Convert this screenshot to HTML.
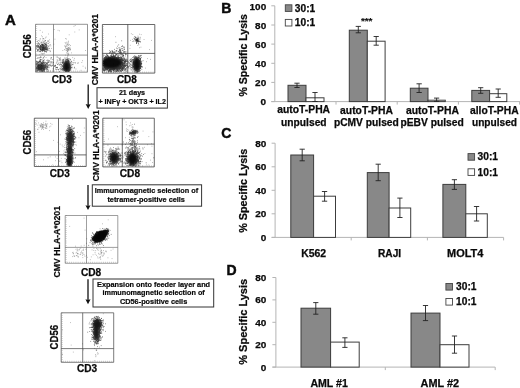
<!DOCTYPE html>
<html><head><meta charset="utf-8"><title>Figure</title>
<style>html,body{margin:0;padding:0;background:#fff}svg{display:block;opacity:.999}text{font-family:"Liberation Sans",sans-serif;font-weight:bold;fill:#0a0a0a;stroke:#0a0a0a;stroke-width:0.25px}.s{stroke-width:0.12px}.m{stroke-width:0.2px}.l{stroke-width:0.45px}</style>
</head><body>
<svg width="520" height="388" viewBox="0 0 520 388">
<defs><filter id="b" x="-5%" y="-5%" width="110%" height="110%"><feGaussianBlur stdDeviation="0.3"/></filter><filter id="c" x="-40%" y="-40%" width="180%" height="180%"><feGaussianBlur stdDeviation="1.1"/></filter><filter id="d" x="-20%" y="-20%" width="140%" height="140%"><feGaussianBlur stdDeviation="0.6"/></filter></defs>
<rect width="520" height="388" fill="#fff"/>
<text x="4.9" y="25.2" font-size="15" class="l">A</text>
<path d="M41.5 50.2h.7M47.4 45.9h.7M37.7 46.8h.7M44.6 51.5h.7M46.5 46h.7M46.8 48.5h.7M43.9 46.1h.7M41.9 49.3h.7M38.3 42.7h.7M43 38.5h.7M41 35.8h.7M39.9 48.7h.7M45.5 45.6h.7M42 38.8h.7M51.2 48.4h.7M47.9 41.4h.7M42.2 36.8h.7M46.5 50.5h.7M45.8 37h.7M40.2 38.8h.7M43.1 47.1h.7M45.9 49.4h.7M49.8 51.7h.7M37.1 43.3h.7M38.2 40.5h.7M42.6 45.9h.7M45.2 37.9h.7M37.4 45.7h.7M42.1 44.3h.7M42.7 42.1h.7M46.2 47.6h.7M42.6 42.5h.7M42.2 32.2h.7M38.6 46h.7M36.2 46.8h.7M43.7 39h.7M41.9 44.3h.7M45.1 48.9h.7M42.8 41.6h.7M42.4 45.5h.7M46.3 47.3h.7M39.7 39.1h.7M41.3 42.1h.7M38 45.3h.7M40.8 46.4h.7M45.4 43.8h.7M53.5 44.2h.7M48 46.5h.7M48 34h.7M39.6 47.1h.7M45.7 57.5h.7M44.5 52.2h.7M46.4 50.6h.7M45.3 45.1h.7M45.3 40.5h.7M48.3 40.8h.7M44.1 56.5h.7M42 45.9h.7M48.2 46h.7M39.4 47.1h.7M45.6 49.4h.7M39.5 54.6h.7M50.5 45.9h.7M44.2 43.7h.7M49.4 42.3h.7M46 43.5h.7M39.9 49.4h.7M49 45.8h.7M40 49.9h.7M42.8 47.4h.7M49.9 51.5h.7M40.7 57.3h.7M43 49.8h.7M40.1 45.6h.7M49.1 39.8h.7M36.2 37.7h.7M48.3 43.6h.7M42.7 44.3h.7M42.5 40.4h.7M43.1 38.7h.7M42.7 47.4h.7M45.1 44.7h.7M38.9 46.6h.7M40.8 53.7h.7M46.5 45.3h.7M40.9 42.3h.7M38.8 44.1h.7M66.9 51.1h.7M67.1 50.1h.7M65.2 38.6h.7M67.5 44.8h.7M66.8 46.9h.7M67.7 45.3h.7M69.1 48.5h.7M67.8 50.8h.7M68.5 49.9h.7M64.4 45.9h.7M69.7 50.2h.7M67.8 50.2h.7M66.1 45.7h.7M66.1 52.9h.7M67.5 55.3h.7M67.7 55.7h.7M67.7 43.7h.7M69.6 49.7h.7M68.7 49.2h.7M66.5 49h.7M65.4 43.7h.7M65.7 46.3h.7M65 47.9h.7M67.4 56.3h.7M69.7 48.2h.7M68.3 47.5h.7M67.6 48.2h.7M66.2 48.6h.7M64.8 50.1h.7M66.6 44.1h.7M66.5 50.5h.7M66 50.2h.7M67.8 54.5h.7M65.4 47.9h.7M67.8 54.3h.7M67.4 51.3h.7M64.8 46.1h.7M69.5 47.2h.7M70.2 45.5h.7M66.6 42.1h.7M67.9 49.4h.7M70 49h.7M66.6 42.8h.7M66.9 52.1h.7M68.1 53.2h.7M68.3 48.2h.7M67.9 49h.7M65 55.1h.7M67.6 44.2h.7M67.6 49.5h.7M68.5 54.1h.7M62.5 50.5h.7M69.3 44.6h.7M64.2 49.5h.7M67.5 49.7h.7M65.4 46.5h.7M67.3 51.3h.7M70.3 49.5h.7M66.1 39h.7M68.6 47.8h.7M66.8 44.4h.7M68.1 41.2h.7M67.2 48.8h.7M67.4 53.5h.7M66.9 48.7h.7M68.3 42.2h.7M66.6 48.6h.7M68.4 45.2h.7M68.2 49.9h.7M64.8 42.5h.7M60.3 66.3h.7M46.3 60.4h.7M81.5 62.5h.7M41.2 65.5h.7M42.3 59.8h.7M58.9 65.5h.7M67.9 67.2h.7M58.1 57.8h.7M72.4 57.6h.7M59.6 62.7h.7M69.8 67.3h.7M48 66.4h.7M70.7 63.8h.7M43.1 70.2h.7M66.1 57.8h.7M48 71.4h.7M47.5 62.6h.7M75.6 69h.7M67.8 67.8h.7M37.9 58.2h.7M85 68.6h.7M37.9 57.6h.7M48.1 70.5h.7M47 66.7h.7M82.7 66.2h.7M82.1 60.7h.7M43.7 57.1h.7M74 58.4h.7M84.9 67.3h.7M45.4 68.7h.7M44.2 64.4h.7M41.3 68.4h.7M80.7 70.3h.7M36.1 69.4h.7M63.9 68.9h.7M61.2 66h.7M65.8 68.6h.7M39.9 57.6h.7M63.4 61.1h.7M55.9 57h.7M73.6 26.3h.7M77.9 62.8h.7M59.1 30.8h.7M68.8 34.8h.7M57.7 30.3h.7M85.3 50.5h.7M53.8 29.5h.7M72.9 64.6h.7M78.8 29.9h.7M54.6 39.2h.7M74.5 32h.7M66.6 70.6h.7M74.8 25.5h.7M39.8 30.4h.7M71 52.9h.7" stroke="#000" stroke-width="0.7" fill="none" opacity="0.5" filter="url(#b)"/>
<clipPath id="cp1"><rect x="35.5" y="24.3" width="52.0" height="47.9"/></clipPath>
<g clip-path="url(#cp1)"><ellipse cx="42.4" cy="47.2" rx="2.4" ry="2.2" fill="#000" opacity="0.15" transform="rotate(0 42.4 47.2)" filter="url(#c)"/><ellipse cx="40" cy="66.8" rx="3.2" ry="2.4" fill="#000" opacity="0.25" transform="rotate(0 40 66.8)" filter="url(#c)"/><ellipse cx="66.6" cy="66.5" rx="2.3" ry="4.2" fill="#000" opacity="0.75" transform="rotate(0 66.6 66.5)" filter="url(#c)"/></g>
<path d="M41.7 48.8h.7M41.8 46.8h.7M39.9 47h.7M45.4 48.6h.7M45.2 48.2h.7M43.5 48h.7M37.9 49.7h.7M43.8 48.8h.7M37.8 43.2h.7M40 46.4h.7M43.2 47.4h.7M43.8 45.9h.7M43.2 48.5h.7M40.6 51.8h.7M43.9 50.5h.7M40.7 45.7h.7M41.5 47.3h.7M44.1 48.2h.7M41.2 45.2h.7M41 50.6h.7M40.2 48.2h.7M43.6 43.8h.7M42.5 50.8h.7M37 46.7h.7M42.1 45.5h.7M43.7 47.4h.7M38.4 49.6h.7M44.2 49.9h.7M46.3 48.5h.7M42.7 44.3h.7M44.1 46h.7M41.2 44.4h.7M39.8 46.2h.7M45.9 42.5h.7M38.5 48.1h.7M46.3 49h.7M37.3 41.3h.7M43.4 45.7h.7M39.4 50h.7M45.4 47.9h.7M43.1 48.6h.7M46.7 49.1h.7M43.8 48.9h.7M38.2 50.8h.7M45 48.9h.7M37.1 46h.7M44.7 43h.7M41.9 50.1h.7M38.9 51.6h.7M43.9 47.2h.7M43.3 49.2h.7M42.7 50.4h.7M40.6 46.5h.7M45.2 47.6h.7M40 49.9h.7M46.4 46.4h.7M38.7 47.2h.7M42 46.8h.7M46.2 45h.7M45.8 44.4h.7M40.3 49.1h.7M45.4 49.7h.7M43.3 47.9h.7M42.8 49h.7M41.9 48.2h.7M43.9 47.6h.7M44.5 49h.7M47.8 48.4h.7M41.2 46.6h.7M42.4 49.9h.7M41.5 48.5h.7M47.4 41.1h.7M39.4 48.2h.7M43.5 48.1h.7M41.2 49.2h.7M43.2 46.2h.7M49 48.4h.7M40.9 47.3h.7M41.8 47.4h.7M45.1 44.6h.7M42.2 49.9h.7M44.7 51.3h.7M37.8 46.7h.7M41.5 49.1h.7M45.3 40.8h.7M45.3 43.9h.7M44.2 43.8h.7M42.9 50.5h.7M42 48h.7M44.6 47.9h.7M42.2 51.4h.7M45.2 46.8h.7M49.8 44.7h.7M44.9 46.9h.7M42.8 49.3h.7M43 49.1h.7M38.3 43.8h.7M44.1 45.1h.7M39.6 43.9h.7M45.8 49.4h.7M46.4 45.2h.7M42.4 44.7h.7M44.5 51.5h.7M40 51.5h.7M45.1 47.1h.7M37.1 51.1h.7M42.1 46h.7M43.5 48.6h.7M46.4 45h.7M45.5 51.3h.7M46.3 47.1h.7M40.4 50.1h.7M42.7 47.9h.7M46.2 46.9h.7M36.2 46.6h.7M37.4 49.6h.7M43.3 46h.7M42.4 49.6h.7M42.6 50.9h.7M42.2 50.2h.7M46.4 51.6h.7M40.6 49.7h.7M37.3 44.8h.7M37.1 50.2h.7M39.1 47.5h.7M41.9 47.5h.7M40.8 48.1h.7M47.2 47.7h.7M43.8 50.1h.7M41.9 44.4h.7M40.9 50.2h.7M38 46.1h.7M45.1 49.5h.7M42.4 49.6h.7M42.8 44.6h.7M38.2 46h.7M44.9 46.1h.7M40 45.6h.7M38.3 47.3h.7M39.2 48.5h.7M36 48.4h.7M40.7 42.7h.7M44.4 46.9h.7M36.4 45.4h.7M43.2 46.4h.7M44.5 49.4h.7M44.2 48.4h.7M46 49.2h.7M43.6 42.3h.7M44.8 50.8h.7M41.6 46.4h.7M47.6 43.2h.7M43.7 53.6h.7M39.9 49.3h.7M47.5 47.2h.7M43.9 49.8h.7M40 47.3h.7M43.2 49.6h.7M42.3 47.1h.7M39.7 46.7h.7M44.8 47.8h.7M40.1 45.4h.7M49.6 50.4h.7M44.1 41.1h.7M44.1 48.8h.7M46.9 48.6h.7M42.2 48.9h.7M37.2 50.1h.7M43.3 45.8h.7M46 52.1h.7M38.6 45.9h.7M43.2 48h.7M41.3 45.1h.7M48.1 50.1h.7M39.2 44.2h.7M47 50h.7M47.3 49.6h.7M40 48.2h.7M36.6 45.7h.7M42.2 48.9h.7M40.4 47.2h.7M43.6 48.5h.7M44.1 48.1h.7M41.5 49.5h.7M42.5 45.5h.7M40.7 47.5h.7M42.1 47.9h.7M42.4 48h.7M42 44.4h.7M43.5 50.2h.7M43.6 47.1h.7M43.6 45.1h.7M37.3 47.7h.7M39.9 49.4h.7M39.5 41h.7M39.6 51.5h.7M41.4 44.1h.7M40.3 48.9h.7M43.7 48h.7M46.4 49.3h.7M42.3 49h.7M46.9 50h.7M45.2 44.8h.7M42 49.4h.7M41.6 50.2h.7M44 49.8h.7M41.8 53.9h.7M45.7 47h.7M42.6 54h.7M41.3 68.5h.7M37.9 67.2h.7M49.8 62.1h.7M38.5 67.6h.7M40.8 68.3h.7M39.5 68.1h.7M40.5 69.2h.7M40.3 64.4h.7M36.7 68.8h.7M38.1 68.9h.7M42.8 68h.7M42 66.9h.7M41.8 65.7h.7M40 69.2h.7M37.3 68.9h.7M46.6 65.7h.7M40.8 66.7h.7M45.5 68h.7M43.4 65.3h.7M40.2 67.1h.7M43.4 62.4h.7M42.8 66.8h.7M41.8 68.1h.7M45.4 65.6h.7M36.8 63.5h.7M36.1 68.1h.7M46.1 68.3h.7M38.5 65.3h.7M42.1 68.6h.7M36.8 64h.7M41.3 67.8h.7M35.9 66.6h.7M38.5 68.4h.7M39.9 66.9h.7M39.1 70h.7M45 66.2h.7M43.2 65.1h.7M40.5 69.2h.7M45.4 66.1h.7M40 67.7h.7M38 68.2h.7M36.5 61.8h.7M40.4 67.9h.7M38.4 69.5h.7M39.4 65.5h.7M41.9 62.9h.7M38 67.1h.7M43.2 66.7h.7M41.3 65.4h.7M38.1 67.2h.7M40.9 69.9h.7M36.1 61.5h.7M42.4 69.3h.7M41 67.8h.7M43.5 68.1h.7M46 63.8h.7M39 57.8h.7M43.1 66.1h.7M40.3 66.5h.7M38.6 64.9h.7M38.2 68.9h.7M40.4 67.3h.7M39.7 69.6h.7M42 66.8h.7M42.6 66.7h.7M36.4 71.1h.7M41.9 64.6h.7M44 68.1h.7M41.4 69.6h.7M41 66.7h.7M40.4 66.4h.7M41.5 67.4h.7M42.6 66.1h.7M40.2 61.4h.7M38.9 69h.7M44.8 66.2h.7M39.9 71.4h.7M39.2 69.1h.7M46 67.3h.7M44.5 65.2h.7M41 66.9h.7M40.7 70.2h.7M48.4 65.4h.7M38.3 68.5h.7M36.7 68.5h.7M42.2 66.4h.7M42.1 63h.7M42.9 63h.7M37.9 65.6h.7M38.9 69.5h.7M40.6 66.1h.7M42.1 71.4h.7M40.3 68.1h.7M44.5 67.9h.7M47.8 61.8h.7M40.2 68.3h.7M43.6 69h.7M39.4 64.3h.7M40.7 69.9h.7M36.6 64.4h.7M40.2 61.9h.7M39.4 66h.7M41.8 65.3h.7M37.3 66.1h.7M40.1 65.4h.7M40.3 69.2h.7M37.6 66h.7M37.8 67.1h.7M42.1 63.5h.7M41.9 67.1h.7M44.4 62.1h.7M43 67.7h.7M41.9 68.3h.7M44.7 66.5h.7M43.3 66h.7M42.8 65h.7M41.8 66.7h.7M36.4 65h.7M41 69.7h.7M41.7 68.6h.7M40.2 70.8h.7M39 65.7h.7M43.3 67.3h.7M39.4 65.6h.7M39.4 68.8h.7M41.5 63.9h.7M41.7 67.6h.7M36.9 69.2h.7M39.3 66.2h.7M43 70.7h.7M38 68.3h.7M38.6 70.4h.7M38.1 69.3h.7M47.8 60.3h.7M38.8 68.5h.7M40 65.3h.7M47.6 67.4h.7M38.3 67.5h.7M44.6 67.5h.7M44.3 69.1h.7M37.5 69.5h.7M42 68.9h.7M43.4 69.1h.7M43.3 60.5h.7M40.9 68.5h.7M49 64.6h.7M39.2 67.2h.7M43.3 66h.7M44.2 65h.7M41.2 65.7h.7M40.8 65.3h.7M41.3 65.6h.7M41 69.8h.7M37 66.9h.7M42.1 68.6h.7M39.2 61.5h.7M44.5 68h.7M40.3 66.4h.7M41.2 66h.7M36.8 65.2h.7M38.3 65.5h.7M36.4 68.9h.7M35.8 68.9h.7M36.9 68.1h.7M45 67.7h.7M37.8 67.3h.7M40.8 62.5h.7M38.2 67.6h.7M38.7 67.4h.7M42.8 69.2h.7M43.4 68.7h.7M39.3 67.1h.7M39.4 66.3h.7M39.7 62.5h.7M39.2 67.1h.7M37 67.1h.7M42.1 66.7h.7M47.4 60.1h.7M39.6 62.2h.7M42.1 66.3h.7M42.2 61.1h.7M43.2 68.2h.7M40.4 65.6h.7M42.5 65.8h.7M41.1 65.8h.7M41 69.2h.7M37.3 67.1h.7M42.4 67.5h.7M37.2 62h.7M43.2 71.3h.7M43.4 69.3h.7M38.2 65.2h.7M43.3 64.7h.7M38 65.2h.7M41.1 65.1h.7M44.8 66.9h.7M36.6 70.7h.7M38.3 67.7h.7M40.3 66.3h.7M41.4 65.3h.7M36 65.1h.7M40.2 67.3h.7M42.2 67.5h.7M37.6 65.2h.7M41.9 68.6h.7M39.9 66.7h.7M43.5 67.2h.7M42.8 68.7h.7M41 70.7h.7M38.4 66.2h.7M37.6 65h.7M40.4 68.7h.7M44.3 69.3h.7M44.4 63.7h.7M38.1 68.4h.7M45.2 67.4h.7M37.4 66.2h.7M38.1 64.8h.7M45.4 65.5h.7M44.3 68.1h.7M38.2 68.3h.7M45.8 68.8h.7M44.6 67.4h.7M42.1 66.6h.7M41.8 70.7h.7M41.1 65.6h.7M39.3 69.3h.7M47.1 68.8h.7M41.4 63h.7M46.9 67.4h.7M40.2 64.1h.7M40.1 64.2h.7M40.5 68.4h.7M40.4 67.9h.7M37.4 71h.7M38.1 62.2h.7M39.7 65.1h.7M36.9 66.2h.7M41.3 64h.7M39.8 71h.7M42.6 66.7h.7M40.7 66.8h.7M40.1 69.1h.7M40 60.7h.7M40.2 64.7h.7M42.5 65.5h.7M36.7 64.1h.7M38.1 62.1h.7M37.7 66.2h.7M41.4 70.8h.7M46.9 69.9h.7M40.8 67.6h.7M46.4 71h.7M39.2 68.4h.7M41.3 67.3h.7M38.6 63.6h.7M38.5 63h.7M44.5 68.6h.7M36.2 70.9h.7M43.3 62h.7M46.6 69.3h.7M47.3 63.8h.7M42.1 68.3h.7M41 67.6h.7M43.9 63.1h.7M36.1 63.4h.7M38.4 65.5h.7M41.5 67.9h.7M40.4 65.3h.7M38.8 69.7h.7M42.9 67.4h.7M39.2 71.3h.7M38.3 68.9h.7M44.2 66.4h.7M43.1 64.1h.7M43.7 67.7h.7M37.3 70.6h.7M38 66.7h.7M41.3 66.3h.7M41.2 65.7h.7M42.6 67.2h.7M41 59.7h.7M44.2 67.2h.7M41.9 70h.7M36.6 71.3h.7M39.8 69h.7M39.1 64.1h.7M44 69.6h.7M45.5 69.5h.7M38.4 62.7h.7M38.1 65.3h.7M37.5 68.7h.7M41.4 66.4h.7M40.9 66.8h.7M41 69.2h.7M43.6 65.3h.7M40.7 70.1h.7M40.4 63.3h.7M38.5 69.1h.7M44 71.5h.7M37.4 63.4h.7M42.1 69.7h.7M41 63.6h.7M43 69.3h.7M42.2 65.8h.7M41.3 69.3h.7M38.4 62.2h.7M41.4 68.4h.7M40.3 69.6h.7M38.3 66.9h.7M39.3 68.7h.7M45.7 66.5h.7M47.3 71.3h.7M43 68.7h.7M46.3 66.7h.7M39.9 64.3h.7M41.9 70.8h.7M42.1 68.3h.7M39.6 67.6h.7M38.9 64.2h.7M37.7 64.9h.7M43.2 70h.7M43.3 65.6h.7M38.1 68.1h.7M39.1 61.7h.7M41.1 63h.7M43.4 63.9h.7M37.9 64.8h.7M38.5 70.7h.7M43.2 68.8h.7M41.4 63h.7M38.5 65.7h.7M37 68.5h.7M37.8 65.2h.7M36.7 61.6h.7M42.3 70.7h.7M40.9 64.5h.7M44.4 68h.7M43.5 71.1h.7M44.1 66h.7M43.9 69.2h.7M42.3 64.3h.7M41.6 71.1h.7M39.6 67.9h.7M39.8 69.8h.7M43.8 67.4h.7M38.7 68.8h.7M41.2 71.5h.7M44.2 65.9h.7M38.5 68.3h.7M44.3 70.5h.7M42.1 63.6h.7M36 67.8h.7M37.4 70.2h.7M42.9 62.6h.7M37.5 67.6h.7M38.6 66.7h.7M41.9 65h.7M41.9 65.4h.7M38.4 68.6h.7M38.4 67.9h.7M45.7 67.2h.7M39.8 69.1h.7M39.1 70.1h.7M35.9 68.8h.7M38.6 65h.7M46.3 64.9h.7M46.3 68.9h.7M45.2 64.5h.7M44.4 71.1h.7M39.9 66.8h.7M48.7 67.6h.7M38.9 65.4h.7M41.8 68h.7M39.2 68.4h.7M45.3 64.4h.7M36.8 62.2h.7M41.8 62.1h.7M42 71.1h.7M37.8 66.4h.7M40.5 68.6h.7M39.1 67.2h.7M38.4 67.5h.7M36.3 67.3h.7M46.8 67.4h.7M36 67.8h.7M37 62.7h.7M37.8 69.1h.7M48.3 65h.7M40.4 61h.7M54.1 66.3h.7M40.3 56.9h.7M39.1 65h.7M47.3 64.7h.7M44.3 59.9h.7M41.5 68.7h.7M35.8 64.3h.7M47.6 69.5h.7M39.3 67.7h.7M48.3 62.4h.7M48.9 61.8h.7M41.2 65.3h.7M40 59.5h.7M43.4 68.4h.7M43.6 70.4h.7M39 60.1h.7M55.3 66.9h.7M51.7 62h.7M50.8 66.4h.7M49.9 65.5h.7M53.2 62.8h.7M40.2 59.4h.7M53 62.4h.7M39.7 61.6h.7M43.3 60.3h.7M44.3 62.8h.7M42.7 61.5h.7M46.2 63.5h.7M46.7 66.3h.7M42.8 62.2h.7M50.6 59h.7M41.7 64.2h.7M44 69.3h.7M43.3 69.2h.7M37.2 58.1h.7M53.3 67.1h.7M48.9 65.8h.7M48.9 60.5h.7M51.7 63.2h.7M51.9 65.7h.7M52.8 64.8h.7M43.6 66.3h.7M43.4 63.2h.7M46.6 65.9h.7M55.1 65.5h.7M56.3 69.6h.7M46.8 65.9h.7M45.1 62.4h.7M45.6 62.8h.7M55.8 67.5h.7M43.3 57.7h.7M45.7 63.7h.7M39.5 60.8h.7M45.8 64.8h.7M54.7 65.9h.7M47 63.9h.7M42.4 71.3h.7M43.9 65.5h.7M40.7 69.2h.7M37.6 67.6h.7M52.6 71h.7M40.4 69.7h.7M41.7 62.3h.7M38.1 70h.7M55.9 63h.7M41.4 64h.7M61 69.4h.7M42.7 58.2h.7M42 70.1h.7M57.2 64.3h.7M41.9 63.3h.7M39.5 69.6h.7M47.7 62.3h.7M50.7 65.4h.7M39 67.8h.7M51.1 57.7h.7M57 67.3h.7M50.6 57.9h.7M41.7 64h.7M52.5 59.5h.7M40.7 57.2h.7M44.6 66.7h.7M35.9 63h.7M50 64.1h.7M38.9 61.6h.7M42 65.9h.7M47.7 61.1h.7M55.3 69.1h.7M46.6 62.5h.7M51.5 62.1h.7M38.1 66.1h.7M47.5 67.8h.7M49.9 71h.7M41 69.3h.7M40.1 68.1h.7M47.1 66.3h.7M51.8 65.3h.7M52.7 68.9h.7M46.8 63.1h.7M41.5 63.2h.7M44.8 65.3h.7M63.9 67.9h.7M50.6 61.9h.7M41.7 64.1h.7M66.8 63.6h.7M69.2 65h.7M68.3 59.9h.7M66.5 67.5h.7M66.8 68.4h.7M67 67.1h.7M63.3 64.6h.7M62.5 68.5h.7M67 66.1h.7M65.1 65h.7M66.4 70.4h.7M63.8 61h.7M65.7 64.1h.7M65.5 67.2h.7M71.6 64.7h.7M66.6 67.5h.7M66.4 69.3h.7M69.5 63h.7M66.8 65.9h.7M67.1 62.2h.7M63.5 59.9h.7M67.4 67.2h.7M66.6 59.8h.7M65.9 64.5h.7M64.1 64h.7M67.7 68.2h.7M66.5 68.1h.7M65.5 66.9h.7M66.6 68.3h.7M66.4 66.2h.7M66.3 64.8h.7M70.3 68.1h.7M68.9 62.1h.7M67.7 69.1h.7M69.7 70.5h.7M67.8 63.2h.7M65 67.4h.7M67.4 63.7h.7M65.8 65.5h.7M66.6 67.6h.7M66 63.1h.7M68.6 71.3h.7M66.3 69.6h.7M67.3 68.6h.7M67.3 64.4h.7M67.5 69.6h.7M69.9 68.8h.7M65.9 64.9h.7M65.1 67h.7M66.4 68.6h.7M70.4 66.6h.7M67.6 68h.7M67 66h.7M66.3 64.3h.7M66.8 66.6h.7M67 64.2h.7M66.6 66.8h.7M67.5 63.6h.7M67.2 69.5h.7M67.5 65.6h.7M65.7 66h.7M67.7 71.2h.7M66.2 64.8h.7M67.1 67.2h.7M65 64.5h.7M66.3 68.6h.7M64.5 63.7h.7M67.3 63.1h.7M66.7 67.7h.7M66.3 63.7h.7M66.4 65.7h.7M67.1 64.2h.7M68.4 61.8h.7M66.2 66.7h.7M68.1 64.9h.7M67.4 65h.7M65.8 67.9h.7M64.9 69.5h.7M68.6 66.8h.7M64.6 67.8h.7M68.5 69.8h.7M67.9 61.3h.7M65.3 70.8h.7M64.4 69.9h.7M69.7 68.9h.7M68.4 65.7h.7M64.4 66.4h.7M66.2 66.5h.7M67.7 66.2h.7M66.8 67.9h.7M67.3 66.9h.7M66.1 64.8h.7M68.8 67.1h.7M64.7 65h.7M66.3 65.4h.7M68.3 63.3h.7M67.3 67.1h.7M64.5 66.8h.7M66.3 68.1h.7M65.7 67.5h.7M63.7 63.5h.7M67.8 69.7h.7M66.5 64.9h.7M68.3 60.6h.7M65.1 68.6h.7M67.6 63.7h.7M63.3 70.9h.7M66.8 64.1h.7M66.6 69.3h.7M62.1 69.9h.7M67.8 60.6h.7M67.8 61.5h.7M68.4 67.8h.7M70.3 64.9h.7M66.5 69.7h.7M65.4 64.6h.7M65.9 66.4h.7M64.7 68.1h.7M67.4 66.9h.7M69.4 65.7h.7M68.7 65.1h.7M67.8 61h.7M66.8 66.1h.7M65.7 64.9h.7M65.9 64.6h.7M62.8 64.9h.7M65.6 65.1h.7M64.7 66.3h.7M67.8 65.9h.7M65.7 70.6h.7M68.2 69.3h.7M68.5 65.7h.7M66.3 69.9h.7M65.6 66.3h.7M67.1 67.7h.7M66 69.5h.7M66.2 68.8h.7M68.3 68.6h.7M67.7 63.3h.7M64.3 64.9h.7M67.3 71h.7M64.4 67.5h.7M65 64.5h.7M66 68.7h.7M66.9 70.1h.7M64.8 69.2h.7M68.1 66.9h.7M67.3 65h.7M64.6 65.5h.7M65.7 71.4h.7M66.8 67.6h.7M67.8 64.4h.7M68.1 67.7h.7M63.9 68.4h.7M67.4 68h.7M69.2 65.4h.7M67.4 68.8h.7M65 70.1h.7M64 62.9h.7M67.4 63.5h.7M66.3 61.9h.7M66.6 63.4h.7M67.1 62.2h.7M67.3 65.9h.7M66.6 66.5h.7M66.7 62.8h.7M62.1 66.7h.7M64.9 65.3h.7M67.2 60.9h.7M65.2 64.9h.7M64.7 67.6h.7M66.3 64.3h.7M64.8 69h.7M65.4 68.3h.7M67.3 61.2h.7M64.7 66.7h.7M67.1 68.9h.7M67.9 69.6h.7M65.9 66h.7M67.8 65.4h.7M68.3 62h.7M67.6 66.1h.7M63.2 69.5h.7M67 66.7h.7M64.7 65.3h.7M69.1 64.3h.7M60.6 64.2h.7M64.5 66.3h.7M65.8 64h.7M65.1 69.7h.7M65.6 63.5h.7M67.8 68.3h.7M64.7 68.8h.7M63.4 64h.7M68.4 65.9h.7M64.3 68.1h.7M68.1 66.6h.7M63.4 65.6h.7M67.2 68.9h.7M69.7 65.9h.7M65.7 66.5h.7M68.6 63.9h.7M68.7 58.7h.7M67.9 64.7h.7M67.3 68.6h.7M64.5 66.4h.7M66.9 68.4h.7M64.9 63.8h.7M66.2 66h.7M64 69.3h.7M65.6 70.8h.7M67.9 66.7h.7M67.7 63.4h.7M65.9 65h.7M64.3 66.7h.7M66.3 70.8h.7M60.8 64.7h.7M64.9 65.3h.7M67.2 67.8h.7M66.5 65.3h.7M67.3 67.7h.7M63.4 65.9h.7M64.2 63.2h.7M66.7 66.8h.7M66.7 64.1h.7M66.2 64h.7M67.1 68.6h.7M69.5 70.3h.7M65.1 65.3h.7M64.9 67.5h.7M69.9 68.7h.7M62.8 63h.7M64.3 68.1h.7M66.5 67.5h.7M69.5 64.3h.7M67.1 64.4h.7M63.1 62.2h.7M62.3 66.8h.7M66.6 69.5h.7M66.3 64.6h.7M63.5 67.2h.7M66.5 68.4h.7M65.8 68.1h.7M67.9 66.2h.7M65.7 66.1h.7M64.9 66h.7M66 67.3h.7M68.8 70.4h.7M65.7 68.4h.7M67 68.9h.7M66.5 67.4h.7M65.7 64.4h.7M68 70.4h.7M67.6 67.9h.7M67 65.3h.7M63.5 68.6h.7M66.8 65h.7M64.9 70.4h.7M65.3 66.6h.7M65.6 67.1h.7M66.1 64.5h.7M68.3 64.4h.7M65.6 68.3h.7M65.6 65.4h.7M67.1 65.6h.7M64.4 66.4h.7M64.6 69.5h.7M65.2 65.6h.7M65.9 67.4h.7M65.4 70.5h.7M68.2 69h.7M65.2 69.3h.7M66.3 67.7h.7M66 68.6h.7M68.4 69.9h.7M66.2 69.5h.7M69 63.9h.7M69 62.8h.7M67.4 68.4h.7M69 67.5h.7M65.7 64.3h.7M64.4 68.9h.7M66.1 64.6h.7M67.4 64.4h.7M65.8 65.3h.7M69.3 70.9h.7M66.2 62.1h.7M67 66.9h.7M67.1 68.3h.7M66 69.3h.7M67.9 67.3h.7M65.8 65.3h.7M67.7 63.5h.7M66.2 64.5h.7M64.1 68.4h.7M66.5 66.8h.7M68 62.3h.7M66.4 67.5h.7M67.9 63.5h.7M67.7 67.3h.7M68.8 70h.7M66.5 65.4h.7M65.9 63.9h.7M66.5 61.2h.7M66.4 67.9h.7M68.2 65.6h.7M68.9 64.8h.7M66.3 61.2h.7M65.2 64.4h.7M69 68.2h.7M64.7 68.2h.7M67.3 66h.7M66.5 65.8h.7M65.6 61.6h.7M66.3 70.3h.7M68.9 65.9h.7M65.3 66.1h.7M68 67.6h.7M65.5 67.7h.7M66.2 68.1h.7M65.8 62.5h.7M66.6 68.8h.7M64.7 66.3h.7M68 65.6h.7M67.9 69.6h.7M64.9 71.3h.7M63.8 65.2h.7M67.7 70.4h.7M65 64.8h.7M66.8 61.2h.7M67.6 68.2h.7M65.8 68.2h.7M67.8 67.5h.7M67.4 70.9h.7M65.7 67.1h.7M65.6 69.6h.7M65.8 68h.7M66.7 66.8h.7M69.3 66.4h.7M68.8 69h.7M68.7 66.2h.7M68 68.8h.7M65.5 67.4h.7M66.3 66.5h.7M68.6 64.6h.7M63.7 61.8h.7M65.8 64.8h.7M66.5 68.2h.7M69.4 67.5h.7M67.3 64.6h.7M67.5 70.5h.7M68.7 61.2h.7M68 71.1h.7M67.9 62.5h.7M66 68.3h.7M67.2 64.4h.7M65 69.3h.7M64.3 70.7h.7M66.5 67.5h.7M64.3 65h.7M67.6 62.5h.7M69.9 62.7h.7M64.5 66.8h.7M67.3 68.7h.7M65.9 66.1h.7M66.1 65h.7M62.3 69.3h.7M66.9 67.1h.7M65.5 67.4h.7M66.5 66.4h.7M68.3 61.9h.7M66.9 63.7h.7M66 70.8h.7M64.7 66.4h.7M65.5 69.3h.7M64.9 62h.7M67.3 65.7h.7M66 69.7h.7M65.1 65.6h.7M66.7 67.8h.7M65.7 69.5h.7M70.2 65.5h.7M69.6 60.8h.7M68.8 65.7h.7M66.7 65.7h.7M65.5 63.1h.7M65.9 70.3h.7M68.4 65.7h.7M65.6 64.7h.7M67.6 67h.7M65.7 63.8h.7M68.6 68.8h.7M64.9 69.4h.7M64.7 68.4h.7M64.9 65.5h.7M67.3 67.9h.7M68.2 64.3h.7M69.1 70.4h.7M66.5 67.9h.7M65.2 66.2h.7M64.3 66.9h.7M66.8 70.4h.7M68 68.9h.7M65.9 66h.7M65.9 67.3h.7M63.3 68.8h.7M63.9 65.2h.7M66.5 65.2h.7M69.2 66.4h.7M69.1 69.9h.7M65.7 67.8h.7M68.6 65.7h.7M66.6 65.1h.7M66.6 65.7h.7M66.6 69.4h.7M68.8 67h.7M66.8 69h.7M66 63.7h.7M68.3 64h.7M68 64h.7M69.5 63.7h.7M67.9 70.8h.7M64.9 70.8h.7M65.2 61.7h.7M67.7 68.6h.7M66.2 59.6h.7M66.4 65.8h.7M65.9 65.8h.7M63.6 65.1h.7M69.4 71h.7M65.9 64.7h.7M67.1 69.6h.7M67.7 63.4h.7M66.8 67h.7M68.8 70h.7M67.4 70h.7M65.9 70.9h.7M65.8 67.8h.7M68 64.1h.7M65.4 61.8h.7M66.8 66.5h.7M66 68h.7M63 66.6h.7M66.6 65.9h.7M67.8 71.5h.7M65.8 64h.7M65.5 66.9h.7M67.5 64.3h.7M68.1 63.8h.7M67.8 67.8h.7M66.1 66.2h.7M67.3 69.1h.7M64.3 67.4h.7M65.3 68.4h.7M68.7 66.8h.7M66.3 67.2h.7M61.7 68.8h.7M67.4 67.1h.7M65.9 64.6h.7M66.2 70h.7M66.3 70.4h.7M62.3 65.4h.7M66.9 66.6h.7M63.8 64.8h.7M68.5 63.1h.7M64.9 63.6h.7M65.6 68.4h.7M67.5 61h.7M68.9 65h.7M65.5 71.3h.7M66.4 63.2h.7M65.5 64.6h.7M64.9 65.7h.7M67.9 67.6h.7M64.9 67h.7M66.6 68.8h.7M66 67.9h.7M69.9 66.9h.7M64.7 67.6h.7M65.2 65.6h.7M66.8 67.6h.7M66 69h.7M66.2 63h.7M67.9 65.6h.7M68.5 64.8h.7M67.4 67.5h.7M62.1 62.5h.7M64.7 70.6h.7M63.4 69.2h.7M68.3 68h.7M67.6 65.3h.7M66.5 67.3h.7M67.2 68.6h.7M66.2 64.7h.7M65.6 67.8h.7M63.8 63.2h.7M65.8 65.1h.7M66.1 59.2h.7M65.9 66h.7M67.8 61.1h.7M66 68h.7M67.3 70h.7M68.2 63.7h.7M67.5 65.7h.7M65.2 70.9h.7M65.5 64.3h.7M65.8 64.3h.7M68.1 67.7h.7M68.8 67.8h.7M65.5 69.6h.7M65.4 65.4h.7M66.2 66.8h.7M68.5 65h.7M67.1 66.6h.7M64.4 63.6h.7M66.1 67.8h.7M67 68h.7M66.6 65.4h.7M67.2 63.9h.7M64.3 65.7h.7M64.2 65.2h.7M65.3 65.1h.7M66.4 64.4h.7M65.8 61.9h.7M66.7 64.2h.7M67.2 58.7h.7M65.2 67.3h.7M62.5 65.6h.7M66.7 66.9h.7M64 67.3h.7M66.7 63.9h.7M67.7 66.5h.7M66.5 65.4h.7M67.4 66.9h.7M68.4 67.9h.7M65.5 66h.7M68 65.6h.7M67.1 68.1h.7M66.2 60.1h.7M66.7 67.2h.7M66.7 64.5h.7M68.5 66.3h.7M65.5 64.6h.7M67.1 63.6h.7M68.7 69.6h.7M68.7 68.3h.7M63.7 70h.7M68.5 68h.7M63.3 70.1h.7M68.7 65.3h.7M66.7 68.8h.7M66.4 69.7h.7M66.6 68.6h.7M66.6 62.5h.7M67 70.3h.7M68.4 71.5h.7M67.4 65h.7M66.5 61.3h.7M66.2 69.2h.7M62.9 67.2h.7M67.9 70.4h.7M65 64.8h.7M63.4 63.8h.7M64.6 70.5h.7M67.2 65.3h.7M70.1 59.6h.7M66.4 67.3h.7M70.2 67h.7M68.1 70.5h.7M67.3 67.7h.7M66.2 65.5h.7M65.8 60.8h.7M66.9 66.6h.7M66.3 65.9h.7M65.3 66.6h.7M65.8 67.2h.7M71.7 67.8h.7M67.9 69h.7M67.7 69h.7M67.6 70.6h.7M68.2 70.5h.7M65.7 66.6h.7M65.3 69.4h.7M67.9 65.3h.7M68.5 63.5h.7M66.3 68.4h.7M66.4 67.7h.7M68.5 67.6h.7M64.7 68.7h.7M66.3 67h.7M65.6 62.7h.7M64.4 65.7h.7M64.7 59h.7M68.4 63.4h.7M65.3 68.2h.7M62.5 70.4h.7M65.2 68.5h.7M65.7 67.5h.7M66.7 66.6h.7M63.5 62.5h.7M66.4 70.6h.7M65.6 68.2h.7M66.8 68h.7M68.1 62.4h.7M67 66.1h.7M66 64.2h.7M65.2 63.7h.7M69.3 66.7h.7M67.7 63.9h.7M61.9 61.5h.7M66.7 70.7h.7M66.4 63.8h.7M66.1 63.8h.7M64.2 66h.7M65.8 64.4h.7M65 64h.7M66.9 70.6h.7M63.8 67.4h.7M64.6 66.2h.7M66.7 68.2h.7M68.4 65.1h.7M64.4 66.1h.7M67 64.7h.7M68 71.4h.7M64.1 67.7h.7M68.2 61.2h.7M66.8 66h.7M64.1 70.4h.7M66.9 65.3h.7M67.2 68.5h.7M67.8 68.3h.7M67.2 63.3h.7M65.8 67h.7M65.9 63.7h.7M63.5 67.4h.7M66.6 65h.7M65.8 64.1h.7M65.3 66.4h.7M65.4 68.6h.7M66.3 67h.7M67.2 70.2h.7M67.5 67.3h.7M66.2 64.4h.7M65.9 68.6h.7M66.9 65.6h.7M64.3 62.3h.7M67 69.6h.7M67.1 62.8h.7M66.1 67.3h.7M65 67.6h.7M66.2 64.3h.7M64.4 68.9h.7M67.1 64.1h.7M64.8 69.2h.7M67.5 65.8h.7M69.1 65.8h.7M64.8 69.7h.7M66.2 67.6h.7M66.6 63.8h.7M64.5 66.1h.7M68.8 63.8h.7M68.7 67.3h.7M64.7 67.4h.7M67.4 64.1h.7M63 67.7h.7M64.7 67.9h.7M63.3 66.2h.7M65.2 62.5h.7M66.1 67.1h.7M65.6 63.3h.7M66.9 61.7h.7M67.4 68h.7M69.3 69.1h.7M67.1 67.4h.7M66.5 62.9h.7M68.9 68.1h.7M66 63.4h.7M69 68.1h.7M64.5 68.5h.7M69.6 66.6h.7M67.2 65.5h.7M65.5 69.7h.7M71.6 67h.7M66.3 68.9h.7M66 68.7h.7M67.9 63.8h.7M64.7 66.4h.7M67.9 67.4h.7M68.5 62.8h.7M67.3 64.9h.7M66.7 67.6h.7M64.9 66h.7M64.6 67.4h.7M65.1 65.3h.7M66.9 64.8h.7M68.4 64.9h.7M67.9 67.4h.7M64.8 66h.7M65.1 65.6h.7M65.8 71.1h.7M67.2 63h.7M62.7 68.6h.7M63.2 68.7h.7M68.2 67.7h.7M66.2 65.9h.7M66.9 65.8h.7M65.6 65.6h.7M68.4 64.9h.7M67.1 63.4h.7M65.3 62.8h.7M66.2 68.6h.7M67 65.3h.7M67.5 65.7h.7M67.1 67.4h.7M67.4 59.7h.7M64.4 68.8h.7M66.1 65.1h.7M69 68.2h.7M69.6 68.1h.7M66.2 68.7h.7M65.2 65.4h.7M65.6 66h.7M67.8 65.3h.7M67 65.3h.7M68 58.9h.7M66.2 67.1h.7M64.7 69.5h.7M66.9 70.2h.7M68.1 68.4h.7M66.3 63.6h.7M66.1 65.4h.7M66.9 65.3h.7M71.5 62.2h.7M68.4 65.3h.7M66.1 69.2h.7M66.5 63.3h.7M67.2 66.1h.7M63.1 67.2h.7M64.8 64.6h.7M67.3 67.5h.7M67.2 64.9h.7M66.9 66.3h.7M62.9 62.2h.7M66.2 65.9h.7M65.6 69.4h.7M66.5 71.4h.7M67.8 71.3h.7M66.3 67.7h.7M65.8 66.2h.7M63.7 65h.7M64.9 64.8h.7M68.5 67.4h.7M68.5 69h.7M68 69.5h.7M65.5 68.9h.7M66 65.2h.7M64.9 71.5h.7M67.9 64.3h.7M66.9 67.7h.7M67.1 65.7h.7M64.4 66.7h.7M67.9 68.8h.7M67.6 69.7h.7M64.9 66.5h.7M67.1 69.4h.7M66.8 68.1h.7M62.9 66.6h.7M70.6 67.3h.7M63.5 67h.7M64.2 64.8h.7M66.9 71.4h.7M67.3 68.5h.7M68.2 67.2h.7M65.1 66.4h.7M67.1 65.9h.7M65.4 65.6h.7M64 63.8h.7M66.4 65.6h.7M66.6 70.6h.7M67 66.6h.7M64.6 63.6h.7M67.1 64.2h.7M67.2 63.7h.7M66.7 66.4h.7M68.1 65.6h.7M65.9 67.3h.7M66.6 71.4h.7M66.1 65.2h.7M66 68h.7M66.9 68.6h.7M69.5 66.6h.7M64.5 67.1h.7M67.2 60.4h.7M66.5 62.5h.7M67.2 70.5h.7M68.2 62.4h.7M68.8 69.2h.7M65.9 68.1h.7M69 65.7h.7M66.5 65.1h.7M68.4 60.6h.7M68.8 64h.7M68 62.1h.7M65 65h.7M67.9 62.1h.7M67.5 64.9h.7M68.5 65.8h.7M67.3 66.2h.7M69.4 65.6h.7M66.6 68.6h.7M61.5 66.1h.7M54.1 65.8h.7M61.9 59.6h.7M58.2 69.7h.7M67.1 59.5h.7M73.7 62.7h.7M63.2 66.3h.7M59.5 59.1h.7M61.4 69.9h.7M69.6 59.3h.7M70.8 65.5h.7M67.4 65.5h.7M67 61.5h.7M60.6 62.6h.7M63.2 67.7h.7M59.1 71.5h.7M62 63.1h.7M68.4 67h.7M63.4 61.2h.7M60.2 59.2h.7M70.5 69.5h.7M74 67.3h.7M66.6 68.3h.7M69.6 64.4h.7M56.8 59.9h.7M60.4 68.3h.7M70.7 64h.7M68.2 65.2h.7M66.4 63.3h.7M64.9 65.3h.7M56.3 67.4h.7M65 69.1h.7M70.1 68.4h.7M68.9 61.7h.7M70.8 61.7h.7M71.2 67.9h.7M53.2 68.8h.7M60.2 69.8h.7M61.7 62.5h.7M57.6 64.5h.7M69.9 62.8h.7M73.9 68h.7M62.4 60.7h.7M57.1 67.5h.7M71.3 61.3h.7M65 64.3h.7M63.8 67.3h.7M75.1 62.9h.7M69.1 69.5h.7M63.6 64.8h.7M58.5 69.5h.7M62.4 62.8h.7M65.3 62h.7M60 64.2h.7M72.2 64.6h.7M67.5 59.7h.7M63.1 59.4h.7M64.5 67.7h.7M56.7 61.9h.7M66.3 61.8h.7M68.8 69.1h.7M67.1 63.7h.7M64.8 62.9h.7M64.4 66.6h.7M63.6 69.1h.7M77.5 63.2h.7M66.7 68.5h.7M68.1 64.4h.7M62.7 69.2h.7M68 67.3h.7M61.1 67.8h.7M68.8 64.6h.7M55.9 67.7h.7M59.3 60.1h.7M63.9 67.5h.7M65.3 60.8h.7M58.1 63.2h.7M65.1 62.1h.7M60.9 64.7h.7M62.3 63.1h.7M65.2 64.2h.7M68 60.8h.7M64.6 68.3h.7M70.7 67.5h.7M65.2 59.3h.7M57.3 69.1h.7M68.3 67.6h.7M57 57.1h.7M59.9 60.8h.7M65.8 61.4h.7M72.7 62.9h.7M62.3 68.7h.7M66.6 61.9h.7M59.1 64.4h.7M59.8 57.8h.7M68 68.1h.7M69.7 67h.7M55.2 65.2h.7M61.8 60.8h.7M59.6 68.3h.7M67.3 57.9h.7M69.3 70.2h.7M65.2 60.6h.7M73.6 60.2h.7M64.6 57.9h.7M58.9 58.7h.7M70.3 69.9h.7M63 60.1h.7M64.7 66.8h.7M57.6 60.8h.7" stroke="#000" stroke-width="0.7" fill="none" opacity="0.8" filter="url(#b)"/>
<g stroke="#5a5a5a" stroke-width="0.65" fill="none">
<path d="M35.5 72.2V24.3H87.5V72.2"/>
<path d="M53.5 24.3V72.2M35.5 55.1H87.5"/>
</g>
<path d="M35.5 72.2H87.5" stroke="#5a5a5a" stroke-width="0.65"/>
<path d="M36.5 24.3V72.2M35.5 71.2H87.5" stroke="#666" stroke-width="1.2" stroke-dasharray="0.5 1.6" fill="none" opacity="0.55"/>
<text transform="translate(31 58.2) rotate(-90)" font-size="10" textLength="24" lengthAdjust="spacingAndGlyphs">CD56</text>
<text x="51.8" y="82.9" font-size="10" textLength="20" lengthAdjust="spacingAndGlyphs">CD3</text>
<path d="M134.8 38.9h.7M136.5 38.4h.7M137.1 40.7h.7M133.3 38.2h.7M133.1 41.3h.7M137.6 42.6h.7M134.2 38.5h.7M130.1 40.4h.7M132 41.5h.7M140 41.9h.7M138.7 41.1h.7M137.9 43.5h.7M140.6 47.2h.7M136 43.2h.7M139.4 41.8h.7M137.6 36.1h.7M140.1 37.3h.7M134.8 37.4h.7M138.5 37.1h.7M138.2 42.3h.7M137.1 39.2h.7M138.6 44.8h.7M135.4 36.8h.7M135 37.4h.7M136.1 39.8h.7M129.9 45.3h.7M134.4 38.9h.7M130.9 33.7h.7M133.8 41.1h.7M139.3 34.2h.7M137.5 45.5h.7M136 43.5h.7M137.7 37.2h.7M139.8 38.3h.7M137.9 39h.7M136.2 40.9h.7M140.8 34.6h.7M133.5 40.7h.7M139.7 39.7h.7M136.2 42.1h.7M121.6 62.3h.7M140.6 58h.7M112.9 66.2h.7M126.9 70.3h.7M103.9 62.8h.7M145.1 68.1h.7M120.8 64.1h.7M123 55.4h.7M107 59.2h.7M147.1 58.6h.7M117.4 64.8h.7M138.2 66.3h.7M118.6 61.1h.7M103.6 68.8h.7M122 60.3h.7M113.4 63.7h.7M110.5 60.9h.7M108.2 58.6h.7M129.6 60.9h.7M108.3 70.1h.7M105.9 62.3h.7M117.8 56.3h.7M117.9 62.8h.7M137.8 59.7h.7M122.1 70.6h.7M135.1 62.9h.7M113.7 68.6h.7M150.1 59.4h.7M146 61.7h.7M127.2 55.8h.7M115.3 36.7h.7M113.2 64.3h.7M151.3 40.4h.7M143.7 39.5h.7M132.5 34.5h.7M149.2 49.6h.7M132.9 62.8h.7M129.6 48.4h.7M139.1 47.7h.7M132.2 39.4h.7" stroke="#000" stroke-width="0.7" fill="none" opacity="0.5" filter="url(#b)"/>
<clipPath id="cp2"><rect x="102.4" y="24.5" width="52.4" height="48.6"/></clipPath>
<g clip-path="url(#cp2)"><ellipse cx="111.5" cy="62.8" rx="10" ry="5.2" fill="#000" opacity="0.8" transform="rotate(0 111.5 62.8)" filter="url(#c)"/><ellipse cx="136.8" cy="64.3" rx="3.0" ry="6.2" fill="#000" opacity="0.8" transform="rotate(0 136.8 64.3)" filter="url(#c)"/></g>
<path d="M104.4 62.9h.7M104.1 66h.7M103 57.1h.7M109.8 57.1h.7M120.8 59.9h.7M110.7 62.5h.7M106.1 57.2h.7M117.1 70.9h.7M110.9 66.3h.7M107.9 65.9h.7M116.4 65.5h.7M119.7 62.7h.7M120.3 60.9h.7M111.1 60.5h.7M111 67h.7M115.3 63.7h.7M121.2 58.2h.7M106.1 68.6h.7M113 56.1h.7M113 59.2h.7M119.9 67.4h.7M107.7 67.9h.7M106 66.6h.7M114.5 62.9h.7M114.5 64.6h.7M108 70.8h.7M115.6 63.6h.7M113.9 66.7h.7M107.4 58.4h.7M110.7 57.5h.7M111 66h.7M120.1 64.3h.7M112.2 66h.7M119.4 62.2h.7M103.6 60.6h.7M103.4 60.2h.7M110.3 64.6h.7M111.9 63.6h.7M108.9 64.8h.7M116.3 66h.7M120 62.3h.7M109.5 69.3h.7M112.2 64.8h.7M109 66.7h.7M108.6 59.8h.7M110.6 61.8h.7M116 62h.7M111.7 62.6h.7M113 61.1h.7M117.6 58.4h.7M108.7 60.9h.7M114.9 63.5h.7M113.9 62.2h.7M106.7 59.4h.7M109 61.5h.7M112.7 64.6h.7M116.9 63h.7M106.5 59.6h.7M111.4 64.6h.7M122.7 64h.7M121.5 69.9h.7M104.7 67.6h.7M117.8 68.1h.7M110.9 66.7h.7M108.1 63.1h.7M111.1 69.6h.7M109.7 66.7h.7M111.4 60.9h.7M112.5 65.7h.7M106.7 65.6h.7M106.7 60.3h.7M112.3 62.5h.7M105.1 57.6h.7M111.1 64.2h.7M108.2 64h.7M113.5 64.3h.7M107.3 63.6h.7M111.8 67.1h.7M112.7 64.2h.7M106.7 66.4h.7M118 61.6h.7M114.8 64.4h.7M110.7 58.9h.7M121.5 56.8h.7M112.8 62h.7M117.9 61.9h.7M111.2 65.5h.7M113.7 61.5h.7M115.1 64.7h.7M116.9 61.6h.7M110.7 62h.7M106 64.2h.7M113.5 68.3h.7M109.1 64.7h.7M117.8 63h.7M111.4 63.8h.7M106.9 59.9h.7M117.7 64h.7M110.6 59h.7M111.7 67.4h.7M104.1 60.2h.7M117.6 68.3h.7M120.3 61.4h.7M114.6 60.7h.7M114.1 62.1h.7M112.2 68h.7M113 62.5h.7M111.3 64.3h.7M107.9 64.1h.7M114.6 68.8h.7M103.6 66.4h.7M125.6 64h.7M111.7 67.3h.7M108 61.7h.7M113 61.3h.7M117.6 63.3h.7M113.3 72.2h.7M108.3 66.6h.7M106.1 67.7h.7M116.7 63.8h.7M116.9 68.9h.7M119.2 63.4h.7M110.7 67.2h.7M113.9 65.3h.7M122.1 69.5h.7M112.9 64.9h.7M103.2 62.7h.7M112.6 62.6h.7M111.4 65.5h.7M105.3 61.4h.7M104.7 57.4h.7M115.6 62.6h.7M116.7 62.1h.7M123.6 65.8h.7M111.9 63.8h.7M109.8 66.2h.7M122.9 61.9h.7M104.5 65.4h.7M117.3 58.2h.7M106.9 59.9h.7M114.3 65.1h.7M106.6 59.5h.7M115 56.2h.7M114.8 62.8h.7M122.4 66.8h.7M107.6 62.4h.7M109.4 60.8h.7M111.5 66.7h.7M119.8 65.9h.7M106.2 60.6h.7M105.9 57.8h.7M117.8 63.6h.7M106.9 58.4h.7M108.7 61.6h.7M121.2 61.8h.7M111.7 67h.7M114.9 62.7h.7M114.5 61.9h.7M110.5 60.1h.7M105.7 58.2h.7M114 65.1h.7M112 66h.7M114.2 63.8h.7M105.8 65.4h.7M118 65.5h.7M118.4 61.7h.7M105.2 67.7h.7M107.6 64.2h.7M109.9 63.4h.7M109.4 61.5h.7M112.2 56.7h.7M105.7 59.5h.7M114.4 69h.7M109.6 65.9h.7M114.5 59.1h.7M118.2 57.6h.7M107.6 62.1h.7M118.4 63.8h.7M110.3 60.6h.7M111.5 63.5h.7M115.3 68.1h.7M115.3 63.4h.7M110.1 68.8h.7M112.2 63.3h.7M121.6 68.7h.7M114.3 63h.7M107.3 67h.7M108.3 66.6h.7M106.4 63.7h.7M113.4 63.8h.7M112.4 64.7h.7M104.4 59.6h.7M110.1 69.5h.7M110.3 60.2h.7M107.1 63.5h.7M117.9 61.4h.7M114.3 64h.7M108.9 60.1h.7M110.1 60.9h.7M114.2 57.3h.7M117.6 65.9h.7M114.4 68.5h.7M114.5 57.5h.7M111.3 64.9h.7M107 59.5h.7M113.5 65.1h.7M108.5 62.5h.7M108 61.4h.7M110.7 67h.7M120.5 64.4h.7M111.9 66.2h.7M105.1 59.2h.7M112.5 66.2h.7M108.6 61h.7M113.4 65.4h.7M112.5 56.9h.7M112.4 60.5h.7M107.2 68.5h.7M118.7 65h.7M112.6 63.9h.7M107.6 63.2h.7M122.2 60.4h.7M107.1 63.9h.7M116.2 66.2h.7M105.4 62.9h.7M109.5 59.1h.7M111.5 61.7h.7M116.4 64.8h.7M106.4 63.6h.7M108.9 61.2h.7M108.2 67h.7M108.6 57.5h.7M106.5 66.1h.7M123.6 59.8h.7M108.9 62.2h.7M102.8 64.7h.7M110.7 64.3h.7M124.1 62.4h.7M115.6 66.2h.7M107.3 61.3h.7M120.1 65.8h.7M111.8 59.6h.7M116.2 65.1h.7M123.8 68.4h.7M115.7 64.3h.7M111.4 61.5h.7M112.8 64.2h.7M114.8 67h.7M112.8 61.5h.7M115.7 68.6h.7M106.1 64.8h.7M114.2 65.2h.7M113.9 63h.7M110.4 69.1h.7M121.1 58.6h.7M107.1 61.6h.7M110.7 61.5h.7M116.2 71.6h.7M119.6 67.3h.7M108.6 65.6h.7M110.8 67.3h.7M114.4 63.2h.7M114.2 60.9h.7M115.6 68.5h.7M108.9 65.2h.7M116.1 59.9h.7M121.2 63.7h.7M116.1 62.4h.7M117.4 58.1h.7M110.4 66.7h.7M107.1 65.7h.7M108.9 64.5h.7M112.9 70.9h.7M103.8 66h.7M118.7 59.5h.7M111.5 71.2h.7M109.6 57.5h.7M112.8 60.9h.7M107.7 60.5h.7M112.7 61.8h.7M105.7 62.6h.7M113.4 60.4h.7M117.5 57.7h.7M113.4 62h.7M120.2 61.2h.7M107.1 58.8h.7M122.6 65.5h.7M104.7 62.2h.7M105.4 68.5h.7M113.4 56.4h.7M112.2 66.5h.7M111 65h.7M110.4 64.1h.7M112.2 60.9h.7M113 63.9h.7M110.8 61h.7M105.1 64.2h.7M107.9 68h.7M116.3 60.9h.7M118.9 60h.7M106.4 69.9h.7M108.5 62.6h.7M104.1 62.9h.7M108.9 61.3h.7M107.3 65.9h.7M119.9 62h.7M120.4 68.8h.7M118.8 64.4h.7M108.6 64h.7M112.4 60.2h.7M112.7 69h.7M112.3 61h.7M124.9 56h.7M105.6 64.7h.7M107.5 55.5h.7M112.5 66.2h.7M106.4 68.3h.7M113.9 67.4h.7M120.3 70.2h.7M118.7 63.3h.7M112.1 61.2h.7M117.4 61h.7M111.7 56.3h.7M111.3 64.1h.7M123.1 58.2h.7M107.9 62.6h.7M103.6 58.7h.7M103.8 65.5h.7M110.7 66.2h.7M104.7 65.4h.7M108.4 63.7h.7M116.5 63.5h.7M108.9 57.7h.7M111.4 66h.7M107.3 63.1h.7M113.4 67.8h.7M109.2 57.6h.7M108.8 58h.7M109.4 70h.7M112.8 62.8h.7M117.1 62h.7M113 64h.7M113.6 58.3h.7M115.2 66.4h.7M105.7 68.5h.7M111.1 65.7h.7M114.3 66.4h.7M107.2 61.3h.7M113.2 65.4h.7M114.4 64.5h.7M108.1 67.1h.7M113.8 67h.7M107.1 63.8h.7M108.2 62.3h.7M112.1 64.5h.7M106.4 65.2h.7M106 64.8h.7M108.8 60.1h.7M117.9 69.1h.7M110.4 63.2h.7M116.7 58.8h.7M105.8 67.3h.7M116.3 61.6h.7M106.4 64.6h.7M114.5 66h.7M117.3 58.4h.7M103.4 60.5h.7M103.3 70.5h.7M105.2 62.3h.7M112.2 64.9h.7M119.6 59.6h.7M116.2 63.9h.7M104 63.9h.7M106.7 66.8h.7M118.7 61.2h.7M105.7 63.8h.7M104.8 66.5h.7M112 60.7h.7M106.9 65.9h.7M106.3 62.7h.7M105.5 69h.7M115.9 67.9h.7M114.9 63.7h.7M121.1 65.7h.7M113.6 65.4h.7M115.4 64.3h.7M110 57.8h.7M123.3 58.8h.7M122.6 67.6h.7M107.4 64.3h.7M110.9 56.4h.7M109 64.4h.7M118 59.2h.7M113 63.6h.7M111.9 63.9h.7M108.8 58.6h.7M113.7 64.7h.7M114.5 67.7h.7M103.6 55.2h.7M105.5 64.7h.7M110.9 65.9h.7M130.2 61.5h.7M110 61.3h.7M112.5 65.2h.7M105.2 68h.7M117.9 64.9h.7M110.3 62.5h.7M105.2 61.6h.7M117 60.1h.7M107.9 66.4h.7M122.1 60.9h.7M117.6 61.1h.7M113.3 65h.7M104.2 66.9h.7M121.8 63.5h.7M112.6 59.2h.7M121.7 63.6h.7M103.3 66h.7M124.3 61.1h.7M107.1 61.3h.7M107.6 65.3h.7M119.8 59.8h.7M113.6 57h.7M120.1 63h.7M106.8 68.7h.7M110.4 68.1h.7M117.4 69.1h.7M106.2 63.5h.7M113.2 62.7h.7M120.1 60.9h.7M117 68.1h.7M105.6 61.4h.7M113.3 62.7h.7M111.5 61.7h.7M110.5 65h.7M115.5 60.6h.7M110.3 60.7h.7M109.9 58.3h.7M116.7 65.7h.7M110.3 61h.7M108.3 61h.7M130.7 59h.7M104 65.4h.7M114.6 57.8h.7M108 63.6h.7M111 61.4h.7M110.1 62.3h.7M118.5 63h.7M110.8 61.5h.7M107.2 60.8h.7M111.1 69.8h.7M117.7 64.2h.7M121 66.9h.7M112.2 62.8h.7M104.4 64.2h.7M109.1 57.8h.7M103.3 70.1h.7M112.3 65.1h.7M112.2 61.7h.7M113.8 67.1h.7M109.1 65.1h.7M117.2 61.7h.7M112 60.8h.7M114.6 62.1h.7M117.9 60.7h.7M121.1 62.3h.7M106 60.2h.7M115 60.4h.7M121.8 67.8h.7M114.1 58.4h.7M110.9 60.8h.7M124.2 61.5h.7M115.9 67.8h.7M105.2 62.2h.7M112.6 65h.7M104.1 64.1h.7M110.4 66.7h.7M108 62.2h.7M115.3 61.2h.7M127.4 60.9h.7M116 66.9h.7M116.8 62.6h.7M106 62.5h.7M115 63.8h.7M114.5 65.4h.7M105.7 60.1h.7M119.6 61.6h.7M106 60.1h.7M116.8 59.4h.7M105.8 67h.7M106.1 72.1h.7M111.8 63.5h.7M107.2 62.6h.7M108 63.3h.7M115.6 58.9h.7M105.5 56h.7M120 63.1h.7M110.9 63.1h.7M117 64.5h.7M116.1 62.8h.7M110.3 63.2h.7M115 63.5h.7M115.9 69.3h.7M122.2 68.2h.7M109.6 70.5h.7M105.7 63h.7M117 62.6h.7M110.3 62.1h.7M118.6 67.1h.7M110.6 65.3h.7M105.2 67.2h.7M129.4 60.1h.7M119.4 63.2h.7M109 61.6h.7M109.9 59h.7M102.9 69.2h.7M110.9 65.3h.7M112.9 65h.7M114.8 66.8h.7M104.1 61.3h.7M104.6 65.6h.7M113.1 63.5h.7M107.1 64.6h.7M111.2 60.7h.7M113 61h.7M116.7 65.5h.7M106.9 65.4h.7M111.4 60.9h.7M105.5 57.5h.7M104.2 64.6h.7M118.2 61.2h.7M112 64.6h.7M115.7 64.9h.7M118.4 66h.7M106.4 64.7h.7M111.1 65.4h.7M109.2 66.3h.7M118.9 60.4h.7M107.7 64.3h.7M113.9 63.9h.7M116 59.2h.7M115.7 67.4h.7M117.7 64.8h.7M109.6 64.7h.7M110.6 57.8h.7M107.4 63.2h.7M107.9 60.1h.7M109.6 62h.7M111.4 63.2h.7M112 66.8h.7M111.8 64.8h.7M108.6 65.7h.7M109 61.2h.7M103.6 66.5h.7M107.8 64.2h.7M117.8 65.2h.7M124.5 62.9h.7M116.7 65.8h.7M107.1 63.5h.7M107.6 59.8h.7M112.8 60.6h.7M121.1 60.8h.7M107.7 63.7h.7M107.9 63.5h.7M107.4 58.4h.7M120.1 64.9h.7M111.9 61.7h.7M110.1 64.4h.7M105.7 67.8h.7M104.7 67.5h.7M110.5 63.5h.7M119.1 66.4h.7M116.6 59.6h.7M117.8 69.2h.7M110.4 61.7h.7M104.5 66.9h.7M112.8 63.4h.7M103.6 69h.7M116.3 63.3h.7M119.9 60h.7M116.3 59.9h.7M119.5 62.4h.7M118.3 61.9h.7M113.4 67.3h.7M105.6 63.7h.7M106 66.3h.7M107.4 62h.7M109.8 67.4h.7M104.8 63.3h.7M109 61.4h.7M106.3 62.8h.7M112.2 57.9h.7M112.4 59.2h.7M111.1 71.3h.7M105.2 63.1h.7M109.5 66.8h.7M108.2 57.1h.7M112.5 67.1h.7M107.8 65.7h.7M104.6 67.9h.7M110.6 61h.7M112.1 69.4h.7M105.9 59h.7M104.9 59.3h.7M110.7 64.6h.7M110 64h.7M118.1 62.3h.7M103.5 55.4h.7M112.5 61h.7M109.5 64.8h.7M113.8 57.9h.7M105.3 63.6h.7M110.1 67.4h.7M108 56.1h.7M118 57.6h.7M105.2 64.7h.7M104.6 72.1h.7M112.4 65.2h.7M108.4 71.1h.7M114.2 60.8h.7M118.5 57.4h.7M107.5 64.4h.7M111.8 60h.7M120.5 68.5h.7M105.4 64.7h.7M107.2 61.8h.7M116.9 63.8h.7M110.3 63.7h.7M104 67.6h.7M106.5 67.9h.7M108.3 61.8h.7M119.9 64h.7M107.2 61.5h.7M114.6 69.9h.7M114.7 62h.7M104.3 61h.7M110.3 64.2h.7M107.1 67.8h.7M105.3 60.9h.7M114 65h.7M108.7 66.7h.7M124.1 70.2h.7M111.7 70.2h.7M111.3 68h.7M109.8 64h.7M114.1 57.2h.7M109.8 69.4h.7M116.5 64.5h.7M112.2 68.2h.7M113 56.7h.7M105.3 62.3h.7M111.9 61.8h.7M110.4 69.2h.7M116.6 65.5h.7M111.1 63.6h.7M113.2 64.2h.7M106.7 66.1h.7M106 63.2h.7M108.9 59.3h.7M114.6 63.1h.7M104 63.1h.7M102.7 68.4h.7M114.1 70.3h.7M107.6 65.8h.7M105.2 60.4h.7M110.5 64.8h.7M116.5 62.4h.7M117.6 66.7h.7M105.8 62.7h.7M105.5 69.3h.7M107.7 66.4h.7M116.5 62.5h.7M108.1 64.6h.7M106.4 58.9h.7M105.2 64.5h.7M112.1 69.5h.7M104.1 67.4h.7M115.2 63.8h.7M119.8 62.1h.7M107.8 59.7h.7M107.1 63.8h.7M115 67.8h.7M109.4 60.8h.7M109 61.9h.7M108.2 61.9h.7M105.8 63.2h.7M107.9 62.8h.7M102.7 63.9h.7M114.4 65.6h.7M107.7 59.4h.7M103.2 59.3h.7M107.2 62.3h.7M106.7 66.2h.7M122 62.1h.7M109.4 62h.7M109.8 62.8h.7M125.7 59.6h.7M110.4 60.6h.7M113.1 61.5h.7M114.4 59.6h.7M123.6 64.1h.7M108.2 59.4h.7M113.6 61.6h.7M115.4 61.5h.7M116.4 63.9h.7M113.1 63.9h.7M108.8 62.1h.7M113.7 65.8h.7M108.6 71.1h.7M121 59.4h.7M117.4 63.1h.7M112.4 60.6h.7M120.8 60.5h.7M110.5 60.9h.7M122.5 67.7h.7M103.2 61.8h.7M113.2 61.9h.7M108.9 59.6h.7M112.5 59.6h.7M115.9 71.6h.7M109.1 69h.7M113.2 61h.7M109 60h.7M111.7 65.8h.7M116.5 62.4h.7M103.9 63.1h.7M120.9 64.3h.7M110.6 56.2h.7M108.4 65.2h.7M105.4 68h.7M107.7 60.4h.7M107.6 63h.7M116.9 61.4h.7M114.1 68.7h.7M104.4 68.5h.7M115 64.9h.7M106.5 60.3h.7M105.4 66.6h.7M112.3 67h.7M121.7 63.4h.7M110.7 69.9h.7M103.3 61.8h.7M108.8 62.1h.7M111.8 60.5h.7M117.9 58.7h.7M106.2 57.6h.7M102.7 65.4h.7M114.7 62.7h.7M116 65.5h.7M107.6 63.2h.7M113.2 70.3h.7M108.4 64.6h.7M114.2 67.5h.7M113.5 67h.7M104.7 62.5h.7M124.8 64.2h.7M111.5 64.3h.7M111.9 58.8h.7M106.9 62.8h.7M112 60.4h.7M110.4 60.9h.7M103.2 61.1h.7M106.3 66.2h.7M118.9 65.4h.7M109.8 61.5h.7M120.2 67.3h.7M112.3 62.5h.7M111 64.8h.7M111 64.8h.7M106.5 63.5h.7M108.9 67.1h.7M103.7 67.8h.7M110.5 61.7h.7M111.1 63.8h.7M109.6 64.8h.7M107.6 57.6h.7M115.1 63.3h.7M120.8 64.7h.7M106.9 65.2h.7M124.1 67.1h.7M104.6 63.1h.7M114.3 59.9h.7M113.7 66.6h.7M115.8 61.1h.7M106.9 59.6h.7M103.4 64.5h.7M111.2 67.8h.7M112.6 62.3h.7M112 63.3h.7M105.1 59.8h.7M114.7 60.1h.7M114.4 65.5h.7M108.8 57.9h.7M113.4 68.2h.7M106.1 59.1h.7M117.4 63.9h.7M107.3 67.6h.7M109.4 64.9h.7M108.6 60.8h.7M112.3 60.5h.7M118.3 67.1h.7M123.8 66.8h.7M120.5 64.2h.7M108.4 65h.7M105.4 65.9h.7M108.4 64.3h.7M106 62.9h.7M116.8 62.6h.7M107 64.3h.7M116.2 62.7h.7M104.1 58.1h.7M103.1 67h.7M110.5 65h.7M117.3 64.4h.7M113.8 61.7h.7M110.4 65.3h.7M104.7 62.9h.7M122.9 60.5h.7M111.6 67.8h.7M109.6 63.8h.7M108.4 67.7h.7M110.5 62.1h.7M113.6 62.6h.7M108 68.6h.7M116.8 63.8h.7M115.8 66.2h.7M114.4 63.5h.7M111.4 64.8h.7M114.3 64.6h.7M107.8 63.1h.7M113.7 60.1h.7M110.9 65.9h.7M112 62.4h.7M110.9 61.8h.7M116.8 62.1h.7M112.8 64.1h.7M108.2 59h.7M110.1 60.6h.7M107.1 63.4h.7M106.5 64.4h.7M106.7 61.8h.7M109.7 68.3h.7M120.3 66.6h.7M106.7 63.4h.7M116.4 66.1h.7M106.7 65.9h.7M114.7 61.6h.7M123.6 62.5h.7M125.3 62.8h.7M110.5 69.8h.7M107.9 61.8h.7M119.7 63.3h.7M113.8 59.2h.7M121.5 66.7h.7M113.1 65.8h.7M108.1 61.8h.7M118.3 66.3h.7M116.4 65.8h.7M105.6 59h.7M114.8 64h.7M116.8 62.5h.7M105.8 64.9h.7M107.7 57.9h.7M107.4 60.5h.7M104.5 61.6h.7M116.6 71.3h.7M121.1 62h.7M117.7 63.2h.7M113.4 61.1h.7M110.6 57.8h.7M121.5 60.9h.7M114.4 61.5h.7M112.6 59.5h.7M108.8 66.5h.7M114.5 56.9h.7M116 59h.7M112.7 65.1h.7M107.2 62.3h.7M109.6 64.7h.7M116.4 67.9h.7M112.9 70h.7M105.4 69.3h.7M109.5 66h.7M110.3 63.7h.7M105.6 64.7h.7M122.9 63.9h.7M110.9 63.4h.7M115.2 62.7h.7M111 64.1h.7M118.7 66.6h.7M104.8 61.3h.7M111.1 66.2h.7M116.7 62.7h.7M123.5 62.9h.7M119.3 68.1h.7M120.4 64.1h.7M114.4 58.3h.7M115.2 66.9h.7M110.4 66.9h.7M114.4 68.5h.7M105.4 59.9h.7M120.7 60.3h.7M106.1 62.1h.7M116.2 61.9h.7M115.3 65.2h.7M107.2 55.6h.7M105.6 59.3h.7M120.6 61h.7M104.7 64.7h.7M111.3 60.3h.7M117.4 66.4h.7M112.6 60.9h.7M105.9 56.6h.7M113.3 64.7h.7M105.6 63.5h.7M130.3 59.7h.7M108.5 61.8h.7M114.7 63h.7M116.8 65.1h.7M117.8 63.8h.7M112.5 58.8h.7M111.4 66.3h.7M105 63.5h.7M106.7 60.1h.7M107.4 67.6h.7M115 63.3h.7M110.5 63.8h.7M112.7 64h.7M115.1 59.4h.7M110.2 63.1h.7M107.5 65.2h.7M109.4 62.5h.7M105.4 62.5h.7M104.9 63.5h.7M118.8 66.7h.7M113.5 58.9h.7M117.1 66.5h.7M123.1 55.9h.7M111.1 62.3h.7M117.4 59.8h.7M108.8 71.1h.7M116.9 56.8h.7M111.1 67.9h.7M107.4 65.4h.7M111.6 58.5h.7M107.3 67.2h.7M118 61.4h.7M117.6 61h.7M112.5 63.3h.7M103.6 64.5h.7M106.1 60.6h.7M106.1 60.1h.7M106.9 55.2h.7M116.3 63.6h.7M112.5 62.5h.7M111.4 62.5h.7M104.6 58.3h.7M111.4 66.8h.7M112.4 68.8h.7M102.9 62.5h.7M107.4 67.5h.7M121 61.6h.7M115.3 62.6h.7M105.1 63h.7M104.9 68.5h.7M114.5 67.3h.7M113.1 55.2h.7M115.7 63.7h.7M117 69.1h.7M105 66h.7M113 62.8h.7M109.3 65.1h.7M114.4 65.6h.7M108.6 59h.7M118.8 67.7h.7M107.7 63.3h.7M115.8 57.5h.7M113.9 71.5h.7M112.6 61h.7M123.1 63.4h.7M112.3 61.9h.7M112.1 57.4h.7M103.4 58.4h.7M116.3 63.1h.7M117.8 56.5h.7M107.5 68.2h.7M106.3 57.1h.7M106.6 62.2h.7M110.9 67.7h.7M118.8 68.6h.7M114.4 61.7h.7M108.1 58.4h.7M118.5 67.6h.7M111.5 60.4h.7M115 65h.7M111.9 59.5h.7M112.4 61.5h.7M115.4 65.4h.7M113.6 61.9h.7M120 66h.7M118.5 66.2h.7M114.9 64.7h.7M104.7 57.3h.7M105.5 65.4h.7M116.4 64h.7M111.5 69.5h.7M108.7 57.4h.7M115.1 65.8h.7M109.7 66.1h.7M110.7 60.9h.7M108.8 65.9h.7M116.6 59.6h.7M105.2 63.8h.7M123.5 59.4h.7M103.6 64.8h.7M114 61.3h.7M110.8 65h.7M114.5 66.5h.7M117.9 63.1h.7M115.5 61.2h.7M117.1 66.8h.7M110.2 55.4h.7M108.2 60.8h.7M106.1 63.1h.7M104.6 64.7h.7M122.1 59.4h.7M117.1 61.6h.7M114.2 62.9h.7M118.5 61h.7M115.3 60.8h.7M112.3 63.3h.7M117.4 58.1h.7M103.1 68h.7M113.3 69h.7M104.9 64.1h.7M114.5 69.3h.7M110.7 61.8h.7M115.2 63h.7M106.6 65.9h.7M119 61.7h.7M109.1 64.6h.7M117.6 65.1h.7M105.3 61.4h.7M117.2 63h.7M107.3 66.3h.7M117.7 70.7h.7M104.7 61h.7M106.9 64.5h.7M108.2 67.1h.7M107.2 62.4h.7M114.3 64h.7M105.1 68.4h.7M114.4 61.7h.7M112.2 59.6h.7M103.8 62.3h.7M113.1 63.7h.7M106.5 58.7h.7M113.2 60.7h.7M118 65.2h.7M108.6 61.3h.7M117.7 64.5h.7M120.6 64.6h.7M107.6 61.3h.7M106.9 64.2h.7M112.5 65.4h.7M113.6 59.8h.7M109.8 60.2h.7M113.8 58.9h.7M107.6 60.5h.7M107.4 62.5h.7M119.8 62.5h.7M115.4 65.2h.7M112.4 70h.7M117.5 63.7h.7M118.1 58.9h.7M110 60.4h.7M112 68.8h.7M108.1 68.7h.7M105 68.1h.7M116.8 63h.7M111.8 63.3h.7M112.1 62.8h.7M105.3 62.4h.7M111.6 60.3h.7M113.7 69.3h.7M109.4 63.4h.7M111.6 60.9h.7M110.8 63.4h.7M110.5 68.5h.7M111.8 58.4h.7M109 61.3h.7M103.1 62.3h.7M110.5 61h.7M109 66.3h.7M115.6 65.2h.7M110 58.8h.7M115.5 68.4h.7M118.4 67.3h.7M112.6 64.6h.7M110.9 67.6h.7M109.4 70.6h.7M115.5 62.3h.7M111 58h.7M106.7 62.3h.7M125.3 60.6h.7M116.4 63.6h.7M109.3 65.5h.7M122.3 64.3h.7M110.6 63.9h.7M114.9 61.7h.7M111.7 65h.7M109 64.7h.7M112.9 65.8h.7M105.3 61.6h.7M108.5 67.4h.7M112.5 57.8h.7M103.6 69.9h.7M113 59h.7M105.7 63.8h.7M119.3 68.8h.7M108.9 62.3h.7M122.2 60.1h.7M120.1 64.5h.7M111.6 67.7h.7M113.8 60.5h.7M114 67.9h.7M114.6 68.4h.7M115.6 64.1h.7M113.5 64.7h.7M107.3 63h.7M111.7 61.8h.7M113.9 65.1h.7M111.6 59.4h.7M116 62h.7M114.1 61.9h.7M119.6 67.9h.7M112.5 57.6h.7M108.8 62.4h.7M113.7 62.9h.7M113 57.9h.7M107.3 68.2h.7M124.5 65.5h.7M102.9 67.5h.7M108.6 67.5h.7M117.9 64h.7M121.4 66.7h.7M108.2 60h.7M125.3 62h.7M113.4 63h.7M108.2 57.9h.7M110.2 63h.7M116.7 61.6h.7M110.8 64.2h.7M115.2 62.1h.7M114.1 63.8h.7M120.8 63.2h.7M111.8 65.3h.7M118.1 60.2h.7M108.2 62.4h.7M117.3 63.4h.7M130.6 67.6h.7M122.8 68.6h.7M116.3 58.6h.7M119.9 64.8h.7M104 63.5h.7M115.4 66.7h.7M112 61.6h.7M115.5 60.8h.7M110.6 65.9h.7M103.8 63h.7M115.2 63.2h.7M116.3 63.7h.7M109.8 65h.7M109.6 63.8h.7M117.1 61.4h.7M117.7 59.6h.7M109.7 57.5h.7M107.9 68.7h.7M113.1 67.6h.7M113.7 66.1h.7M115.9 57.7h.7M114 63.1h.7M111.7 65h.7M109.4 57.6h.7M104.8 58.5h.7M103.3 62.9h.7M118.6 60.9h.7M106.5 59.5h.7M108.2 62.5h.7M105.4 65h.7M104 65.2h.7M107.1 66h.7M105.8 64.8h.7M113.6 63.1h.7M120.5 63.9h.7M105.8 65.7h.7M106.2 61.5h.7M111.1 64h.7M121 57.5h.7M109.5 67.2h.7M110.1 64.4h.7M119.9 59.2h.7M111.3 66h.7M107.6 57.4h.7M105.2 64h.7M112.1 69.6h.7M118.8 58.1h.7M117.1 66.4h.7M120.5 62.8h.7M107.7 63.8h.7M120 65.5h.7M120.9 66h.7M107.6 59.9h.7M121.8 58.2h.7M109 62.3h.7M105.7 61.4h.7M111 71.4h.7M110.6 61.6h.7M111.7 66.5h.7M106.2 62h.7M115 68.4h.7M104 70.7h.7M116.1 62.4h.7M108.7 62.3h.7M103.9 66h.7M107.4 60.9h.7M114 63.7h.7M107.6 62.6h.7M108.1 67.9h.7M116.9 60.9h.7M110.8 68h.7M109.3 69.4h.7M113.6 65.6h.7M113 65.3h.7M113.8 65.1h.7M108 66.4h.7M111.4 59.8h.7M105 63.9h.7M113 55.9h.7M107.5 65.2h.7M119.2 68.8h.7M105.1 67.5h.7M103.9 64.4h.7M112 65.5h.7M106.3 67.9h.7M110.6 63.3h.7M109.4 59.7h.7M115.2 64.5h.7M113.7 69.7h.7M105.9 62.4h.7M111 66.3h.7M110 66.5h.7M113.7 57.4h.7M107 56.5h.7M109.3 61.9h.7M114.5 63.9h.7M110.6 67.6h.7M114.5 59.2h.7M107 64.5h.7M121 62.7h.7M110 64.3h.7M115.6 63h.7M112.7 61.9h.7M107.8 60.7h.7M114.9 61.5h.7M114.2 64.7h.7M105.3 59.2h.7M110 66.1h.7M125.8 68.6h.7M119 64.6h.7M108.7 65.2h.7M111.1 65.4h.7M105 59.6h.7M107.2 63.2h.7M113 62.1h.7M113 65.7h.7M104.2 63h.7M116.3 60.9h.7M121.9 65.1h.7M116.2 63.7h.7M116.1 67.1h.7M111.6 61.5h.7M107.8 69.9h.7M109.9 61.8h.7M106.9 57.6h.7M108.1 64.5h.7M108.2 60.8h.7M113.4 64.9h.7M108.4 64.4h.7M105.3 66.3h.7M105.2 62.2h.7M111.8 61.9h.7M104.3 70.5h.7M119.9 57.4h.7M111.7 59h.7M112.8 58.9h.7M114.4 65.2h.7M121 67.5h.7M108.3 66.6h.7M108.3 63h.7M108.1 57.4h.7M114.5 56.4h.7M109.6 65.1h.7M111.7 58h.7M107.2 65.7h.7M117.4 68.8h.7M108.2 66h.7M115.1 61.2h.7M108.9 60h.7M117.5 58.8h.7M105.6 62.2h.7M109.1 70.5h.7M112.6 60.5h.7M114.4 64.5h.7M112.7 63.1h.7M113.7 59.4h.7M104 61.9h.7M104.5 65.7h.7M122.4 67.6h.7M113.6 64.5h.7M107 58.9h.7M114.2 58.3h.7M112.8 62.9h.7M115.4 63.5h.7M111.6 61.4h.7M115.1 66.9h.7M119.1 60h.7M105.5 65.7h.7M108.3 72.1h.7M112.8 58.2h.7M107.7 68.7h.7M102.9 68.8h.7M108.4 59.8h.7M123.8 63.7h.7M109.4 59.4h.7M113 61.7h.7M106 68.1h.7M113.6 60.3h.7M119.7 63.2h.7M114 63.9h.7M117.9 65.4h.7M109 65.8h.7M108.7 63.8h.7M120.6 59.7h.7M104.9 62h.7M108.1 67.8h.7M120.3 61.8h.7M112.1 62.1h.7M114.9 65.6h.7M115.4 66h.7M122.3 62.8h.7M115.1 62.7h.7M111.2 64.1h.7M110.7 64.5h.7M106 62.8h.7M107.5 59.4h.7M106.9 61.7h.7M110.1 58h.7M109.5 59.5h.7M106.2 64h.7M117.5 64.3h.7M108.1 61.9h.7M118.9 57.8h.7M117.7 58.2h.7M107.3 63.5h.7M109.7 69h.7M113.9 63.2h.7M116.6 63.5h.7M106.3 67.2h.7M119.8 67.7h.7M104.1 69.9h.7M108.6 66h.7M118 71.5h.7M117.9 65h.7M113.6 62.7h.7M111 64.1h.7M115.4 62.4h.7M105.7 62.1h.7M122.6 61h.7M110.5 69.8h.7M117.2 63.8h.7M115.3 62.4h.7M105.7 66.8h.7M111.8 68.8h.7M109.5 62.1h.7M113 62.7h.7M109.2 60.3h.7M112.5 64.5h.7M121.8 63.3h.7M124.5 61.8h.7M106.3 62.8h.7M109.9 58.2h.7M114.4 60.4h.7M114.7 69.9h.7M118.4 64h.7M108 62.5h.7M116.7 61.6h.7M113.5 66.7h.7M105.7 61.3h.7M113.6 63.4h.7M110.3 61.5h.7M110.6 69.7h.7M119 57.8h.7M111.3 63.7h.7M111.2 58.6h.7M110.2 63.9h.7M107 64.4h.7M111.6 64.7h.7M110 61.8h.7M112.1 67.1h.7M116.3 63.1h.7M108.3 67h.7M114.2 66.4h.7M109.4 60.4h.7M112.1 61.2h.7M117.8 66.3h.7M118.8 66.9h.7M108.2 60.4h.7M116.7 66.8h.7M111.4 59.4h.7M106.1 61h.7M113.6 66.9h.7M118.7 63.2h.7M109 65.5h.7M104.3 59.2h.7M111.1 68.7h.7M117 63.3h.7M117 61.9h.7M104.1 57.6h.7M112.6 66.4h.7M113.2 63.2h.7M108.6 67.1h.7M110.7 58.4h.7M119.1 61.1h.7M113.3 63.4h.7M117.2 64.2h.7M118.2 64.1h.7M108.3 61.6h.7M114.8 60.5h.7M116.5 62.5h.7M105.5 60.4h.7M110.1 69.4h.7M115.5 63.4h.7M105.7 69.9h.7M109.4 63.3h.7M108.5 67.9h.7M112 61.8h.7M112.1 59.9h.7M104.8 62.8h.7M122.7 59.5h.7M110.2 57.9h.7M112 64.1h.7M115.4 58.8h.7M107.5 61.1h.7M109.6 71.2h.7M109.8 63.2h.7M108 66.1h.7M126.1 67.3h.7M120 59.7h.7M117.2 63.4h.7M118.4 67h.7M114.9 57.6h.7M111.8 61.6h.7M113.6 63.5h.7M117.2 57.8h.7M106.6 63.1h.7M112.9 62h.7M110.8 63.5h.7M117.2 63h.7M112.4 57.1h.7M113.1 55.4h.7M113.4 63h.7M111 60.8h.7M108.5 66.2h.7M113.1 63.3h.7M108.1 64.1h.7M118 63.3h.7M108.8 59.3h.7M111.6 60.2h.7M107.3 56.4h.7M106.8 69.7h.7M110.4 58.8h.7M104.5 65.8h.7M113.4 64.1h.7M109.8 65h.7M120.1 65h.7M110 58.5h.7M113.6 68.7h.7M114.8 59h.7M112.1 67.8h.7M107.3 65.1h.7M118.1 69h.7M113.2 65.8h.7M108.9 63.3h.7M108.6 67.5h.7M103.4 61h.7M110.9 63.4h.7M121.6 62.6h.7M113 64.6h.7M112.5 68.4h.7M111.8 63.9h.7M110.3 63.4h.7M110.7 66.8h.7M111.1 63.6h.7M110.7 66h.7M108.2 66.6h.7M107.6 65.7h.7M122.4 64.2h.7M110.5 59.3h.7M115.4 63.4h.7M116.4 61.1h.7M114.1 69.6h.7M113.4 62.2h.7M103.3 63.3h.7M114.9 65.4h.7M104.4 59.8h.7M105.2 59.8h.7M109.4 64.3h.7M122.4 64h.7M119.6 57.6h.7M120.1 66.1h.7M113.6 66.2h.7M114.7 70h.7M115.8 57.3h.7M110.5 67.9h.7M109 61.1h.7M109 64.4h.7M112.1 61.2h.7M114.2 65.5h.7M105.6 59.5h.7M111.1 60.9h.7M107.4 62.9h.7M111.2 65.3h.7M115.9 64.9h.7M117.6 60h.7M114.6 64.6h.7M104.8 61h.7M113.6 63.6h.7M103.6 61.4h.7M120 66.3h.7M111.5 68h.7M105.6 62.8h.7M116.7 62.2h.7M104.4 65.4h.7M111.9 59h.7M109.2 58.5h.7M126.4 61h.7M111.3 60.9h.7M105.1 61.8h.7M112.2 69.4h.7M112.7 68.8h.7M104.7 63.6h.7M108.4 57.9h.7M133.1 62.5h.7M112.4 60.7h.7M107.6 59.8h.7M117.1 62h.7M110.1 64h.7M103.7 64.2h.7M110 64.9h.7M108.7 63.5h.7M114.1 66.7h.7M106.9 66.7h.7M105.2 62.7h.7M111.8 63.9h.7M109.9 66.5h.7M106.8 68.6h.7M114.2 63.4h.7M112.6 66.6h.7M106.2 65.4h.7M117.3 62.5h.7M105.9 59.7h.7M113.6 60.6h.7M125.7 65.3h.7M103.3 62.4h.7M120.1 65.7h.7M105 66.9h.7M108.2 71h.7M107.7 65.4h.7M114.3 61.8h.7M110.1 67.4h.7M114 63.1h.7M113.6 69.4h.7M116.5 65h.7M113 57.9h.7M111.8 61.7h.7M115.3 61.3h.7M113.7 59.7h.7M116.3 60.8h.7M110.8 65.3h.7M109.1 63.4h.7M117.3 69.5h.7M115 66.6h.7M108.2 63.7h.7M109.9 71.2h.7M109.8 59.2h.7M118.7 62h.7M122.6 65.6h.7M113.3 65.6h.7M115.7 66.5h.7M105.2 61.4h.7M107.8 63.7h.7M109.5 59.1h.7M106.9 69.5h.7M123.6 60.4h.7M113.3 63.2h.7M106 65.8h.7M110.6 69.1h.7M113.7 62.3h.7M116 60.9h.7M116.2 65.7h.7M112.9 66h.7M111.9 63.3h.7M108.9 62.3h.7M111 59.7h.7M114.8 62.2h.7M114.1 61.6h.7M113.4 63.8h.7M116.3 64.9h.7M116.5 62.8h.7M110.7 62.4h.7M103.6 62.9h.7M117.5 66h.7M106 64.4h.7M115.5 58.7h.7M113.1 64.5h.7M115.4 64.2h.7M122.8 62h.7M118.5 67.7h.7M111.5 59.4h.7M119.1 63.2h.7M114.1 65h.7M116.7 66.8h.7M111.8 63.4h.7M115.6 62.9h.7M109.9 70.3h.7M119.1 67.3h.7M117.1 60.6h.7M110.5 63.1h.7M104.5 60.4h.7M112 59.2h.7M114.2 65h.7M109.6 62.2h.7M114.6 65h.7M113.2 59.1h.7M107.1 62.1h.7M106.7 66.1h.7M108.6 61.7h.7M106.4 61.8h.7M118.1 63.9h.7M107.8 67.7h.7M113.9 59.8h.7M107.6 61.2h.7M110.7 67.5h.7M106.8 62.8h.7M111.7 59.3h.7M108.2 65.5h.7M117.7 56.9h.7M115.2 62.3h.7M118.6 65.5h.7M122.7 64.4h.7M108.7 60.5h.7M114.1 66.2h.7M113.1 58.2h.7M108.6 62.5h.7M111.9 66h.7M119.4 64.3h.7M103.9 64.2h.7M109.7 67.2h.7M117.4 61.8h.7M116.6 63.4h.7M113.7 68h.7M104.2 63.1h.7M120.1 60.7h.7M112.3 63.8h.7M108.5 58.9h.7M106.9 60h.7M117.4 64.2h.7M115.2 59.3h.7M114 63.8h.7M117.2 60.9h.7M115.8 68.1h.7M121.7 60.2h.7M104.3 58.3h.7M116.7 65.4h.7M113 60.4h.7M118.4 68.9h.7M110.8 62.9h.7M118.1 65.1h.7M119 62h.7M113 62.2h.7M107.6 62.3h.7M109.3 65.1h.7M109.2 63.6h.7M106.2 59.1h.7M119.5 60h.7M121.8 66.6h.7M108.5 63.4h.7M109.9 61.3h.7M118.4 62.9h.7M116.7 61h.7M106.9 67.9h.7M109.3 59.6h.7M110 67h.7M110.1 60.9h.7M114.8 66.7h.7M109.8 62.3h.7M109.9 69.3h.7M110.1 64.7h.7M111.3 62.3h.7M108.6 58.7h.7M107.2 63h.7M109.9 61.6h.7M106.7 69.7h.7M104.5 61.6h.7M109.3 59.4h.7M105.3 66.3h.7M116.5 63.8h.7M130.2 66.2h.7M118.3 60.6h.7M117.4 69.1h.7M108.8 69.5h.7M106.2 59.5h.7M110.7 60.6h.7M114.8 59.6h.7M111.5 56.7h.7M110.8 66.9h.7M109.5 64.4h.7M117.5 59.6h.7M103.5 63.6h.7M112.7 62.4h.7M105.3 67.5h.7M104.1 62.5h.7M110.8 65.8h.7M108.4 60.5h.7M122.9 60.5h.7M115.7 62.8h.7M108.2 63.2h.7M109.5 64.4h.7M111.4 60h.7M108.7 71.3h.7M122 65.5h.7M112.4 62.3h.7M119.2 61.8h.7M106.2 65.7h.7M105.3 60.7h.7M119.6 57.9h.7M110.6 63.8h.7M112.6 58.4h.7M109.7 62.2h.7M122.4 66.8h.7M106.5 66.3h.7M114.9 63h.7M109.6 62.4h.7M116.6 68.3h.7M122 62.1h.7M109.4 59h.7M115.9 57.7h.7M104.9 59.6h.7M113.4 66.2h.7M105.6 69.5h.7M112 60.5h.7M113.1 63.3h.7M116 64.5h.7M124 67.3h.7M107.2 66h.7M115.5 59.9h.7M106.6 60.6h.7M109.7 67.6h.7M107.7 63.6h.7M115.3 66.7h.7M112.9 59.8h.7M124.1 66.3h.7M119.1 68.9h.7M119.3 64.8h.7M113.8 65.5h.7M105.3 64.8h.7M105 65.8h.7M108.2 71.8h.7M112.2 65.1h.7M105.7 62.4h.7M110.7 62.4h.7M108.5 60.4h.7M115.5 62h.7M106.2 64.6h.7M106.2 62.8h.7M108 60.2h.7M109.7 60.5h.7M103.6 64.6h.7M109.3 58.4h.7M108.7 64h.7M113.6 64.6h.7M112.5 65.4h.7M108.1 60.6h.7M114.7 62h.7M111.1 65.6h.7M116.6 67.5h.7M107 62.1h.7M114.3 58.5h.7M103.6 65.4h.7M107.4 60.2h.7M115.8 65.2h.7M116.5 62.2h.7M109.3 62.2h.7M112.8 56.4h.7M107 65.8h.7M106.4 63.1h.7M111.8 65.1h.7M108.2 59.5h.7M125.8 60.9h.7M121.2 57.4h.7M111.7 62.7h.7M122.2 70.3h.7M116.8 59.9h.7M106.3 60.8h.7M108 64.2h.7M106.4 62.5h.7M119.7 68.3h.7M108.9 67.8h.7M109.1 69.9h.7M113.2 68.2h.7M106 62.3h.7M117.1 65.3h.7M112.1 65.5h.7M107.3 69.3h.7M112 68.3h.7M113.4 63.6h.7M109.2 59.4h.7M116.2 65.9h.7M116.6 62.1h.7M105.1 62.1h.7M109.2 63.3h.7M116.9 60.3h.7M108.2 65.7h.7M116.4 70.9h.7M114.2 60.5h.7M104.9 60.7h.7M111.5 64.2h.7M110.7 61.3h.7M110 63.1h.7M114.6 63.6h.7M106.3 59.4h.7M119.8 63.1h.7M110 63.3h.7M117.7 62.3h.7M112.1 62.6h.7M114.5 59.9h.7M112.3 66.8h.7M118 65.4h.7M112.8 68.7h.7M115.2 68.1h.7M104 59.6h.7M115.8 62.5h.7M108.5 60.1h.7M119.8 59.3h.7M111.7 58.6h.7M110.1 71h.7M125.4 61.7h.7M105.1 68.9h.7M106 57.3h.7M113.1 59.7h.7M106.8 59.8h.7M112.1 62.7h.7M117.7 63.7h.7M120.4 67.2h.7M121.6 67.2h.7M111.5 65.2h.7M111.2 58.1h.7M104.2 65.9h.7M103.5 63.1h.7M105 64.2h.7M109.9 61.8h.7M106.1 55.8h.7M111.5 59h.7M109.4 64.6h.7M117.2 65.7h.7M119.8 58.5h.7M115.1 68.7h.7M113.4 59.6h.7M113.4 61.6h.7M107.3 67h.7M110 59.6h.7M107.1 70h.7M106.1 65.6h.7M112.1 67.3h.7M109.5 60.2h.7M107.3 59.9h.7M126.3 64h.7M109.2 67.6h.7M114.9 62.7h.7M114.7 64.3h.7M117.7 69h.7M109.3 63.2h.7M110 67.5h.7M113.3 66h.7M116.4 61.2h.7M111.9 68h.7M116.5 66.1h.7M109.5 62.1h.7M106.1 62.4h.7M110.7 58.5h.7M117.9 60.8h.7M112.6 65.4h.7M107.9 57.2h.7M116.8 64.7h.7M109.6 67.2h.7M116.3 60.1h.7M110.6 57.4h.7M109.6 68.1h.7M106.2 66.2h.7M116.6 69.2h.7M113.8 65.9h.7M125.5 65.4h.7M111.5 64.2h.7M111.3 61.3h.7M111 62.9h.7M115 65.7h.7M116.8 65.3h.7M105.4 68.1h.7M113 61.6h.7M122.1 59.7h.7M104.3 61.6h.7M113.5 66h.7M111.7 65.6h.7M107 61.3h.7M111.9 58.8h.7M112.2 62h.7M115.1 59.9h.7M108 61.4h.7M109 60h.7M109.6 58.8h.7M114.2 65.6h.7M111 62.7h.7M105.9 60.1h.7M109.8 60.3h.7M104.2 63.9h.7M111 62h.7M106.4 63.2h.7M107.1 61.9h.7M112.2 65.8h.7M115.5 61.3h.7M118.1 59.4h.7M110.1 67.8h.7M124.9 63.8h.7M109 62.1h.7M104 62.9h.7M108.6 60.8h.7M118.1 60.7h.7M121 66.2h.7M114.8 61.4h.7M108.1 56.6h.7M112.7 62.4h.7M113.4 61.1h.7M113.9 58.3h.7M118.6 62.2h.7M110.2 58.2h.7M105.3 65.8h.7M106.8 63.2h.7M110.2 70.1h.7M116.3 58.9h.7M108.3 59.5h.7M103 61h.7M117.5 63.5h.7M115 62.9h.7M108.6 63.6h.7M110.6 69.9h.7M121.5 64.6h.7M114.6 56.6h.7M110.4 71.4h.7M106.5 66.1h.7M118.2 62h.7M109.8 61.8h.7M115.7 63.4h.7M119.8 67.4h.7M111 72.1h.7M109.3 61.3h.7M109.7 60.4h.7M108.6 63.1h.7M116.2 58h.7M103 60.7h.7M109.3 64.9h.7M106.5 68.5h.7M108 62.6h.7M111.4 67.3h.7M112.8 63.4h.7M107.9 63.9h.7M113.4 62.2h.7M111 57.1h.7M108 67.4h.7M119.3 63.1h.7M110.1 72.1h.7M108.7 66.8h.7M107.5 68h.7M117.8 59.7h.7M109.8 59.3h.7M112.7 62h.7M112.5 58.2h.7M117.3 64.9h.7M110 68.1h.7M105.7 65.7h.7M103.2 62.2h.7M114.8 61.5h.7M110.4 65.6h.7M119.9 67.8h.7M113.7 62.5h.7M102.7 69.2h.7M121.9 56h.7M116.1 63.2h.7M115.2 64.4h.7M109.9 63.3h.7M110.8 67.3h.7M109.6 61.5h.7M114.8 65.5h.7M113.6 64.3h.7M119.6 67.1h.7M112.3 62.6h.7M114.9 57h.7M108 60.9h.7M112.1 62h.7M125.3 65.9h.7M113.4 71h.7M111 62.3h.7M118.2 66.2h.7M116.4 67.5h.7M109 61.1h.7M106.9 63.7h.7M116.8 59.8h.7M108 58.8h.7M122.6 66.1h.7M112.3 59.2h.7M105.1 61.2h.7M111.3 59h.7M109.7 67.5h.7M111.1 63.7h.7M110.2 61h.7M103.1 63.1h.7M105.2 61.5h.7M116.3 60.5h.7M112.9 58.2h.7M114.4 65.2h.7M108.8 66.4h.7M106 63.5h.7M120.8 63.3h.7M104.6 67.3h.7M114.1 62.4h.7M112.7 60.4h.7M117.7 68.3h.7M106.2 65h.7M121.5 58.5h.7M111.4 61.2h.7M110.5 63.7h.7M112.7 66.4h.7M114 66.9h.7M116.9 67.1h.7M107.2 64.7h.7M108.9 60.5h.7M122.3 64.3h.7M111.3 56.2h.7M109.7 66h.7M109.9 61.5h.7M119.5 62.3h.7M109.1 63h.7M109.7 66.9h.7M114.3 63.1h.7M109 62.6h.7M120.8 62.3h.7M114.8 58h.7M112.9 65.7h.7M118.4 64.4h.7M114.4 64.5h.7M117.2 70.3h.7M112.2 60.6h.7M114.5 63h.7M114.7 66h.7M111.9 61.9h.7M112.8 59.1h.7M112.6 60.3h.7M113.6 63.8h.7M109.8 59.2h.7M111.3 61h.7M110.2 65.7h.7M116.5 59h.7M116.4 68h.7M117.5 64.3h.7M110.5 69.3h.7M109.2 58.1h.7M111.6 64.3h.7M105.1 59.2h.7M122.4 63.7h.7M115.5 61.4h.7M118.8 61.1h.7M109.5 63.4h.7M105.1 62.3h.7M107.9 66.4h.7M111.9 66.3h.7M110.8 56.1h.7M116.1 66.3h.7M110.6 57.3h.7M108.2 64.7h.7M119 62.2h.7M107.8 60.7h.7M116.9 66.3h.7M105.8 58.3h.7M124.4 72.1h.7M103.9 61.1h.7M112 64.8h.7M108.3 57.9h.7M108.7 61h.7M119.8 66.6h.7M119.4 63.8h.7M108.7 63.1h.7M103.2 65.9h.7M112.6 62.3h.7M120.4 68.3h.7M116.1 62.1h.7M111.9 65.2h.7M112.2 66.9h.7M107.2 55.4h.7M103.1 65.6h.7M117.2 63.4h.7M114.2 63.6h.7M112.1 61.7h.7M108.7 67.4h.7M109.5 63.2h.7M117.9 66.7h.7M108.8 64.2h.7M105.3 63.8h.7M112.9 63.3h.7M112 64.6h.7M111.5 61.7h.7M105.5 62.5h.7M120.3 62.6h.7M107.3 61.7h.7M104.2 65h.7M105.4 66.5h.7M116.3 65.3h.7M117 63.1h.7M114.7 58.1h.7M104.1 67.1h.7M113.6 68h.7M114.9 63.6h.7M113.5 66.3h.7M110.9 62.6h.7M112.9 62.3h.7M124.9 60.7h.7M117.1 62h.7M112 62.6h.7M112.7 58.4h.7M111.6 61.4h.7M117.3 65.5h.7M103.8 60h.7M114.3 67.4h.7M115.5 62.8h.7M117.5 55.3h.7M108 60h.7M105.1 65.3h.7M112.7 64.3h.7M110.3 65.5h.7M115.6 61.4h.7M116.5 60.2h.7M121.2 58.9h.7M109.4 59.6h.7M111.3 67.9h.7M106.7 69.4h.7M119.2 64.7h.7M107.7 66.4h.7M116.6 63.2h.7M125.4 61h.7M103.4 62.6h.7M114.4 69.2h.7M118.4 61h.7M108.4 59.2h.7M115.5 66.2h.7M114.5 64.2h.7M116.8 62.9h.7M115.2 66.2h.7M118.6 65.1h.7M111.6 65.8h.7M120.5 63.8h.7M105 61.4h.7M110.2 63.6h.7M106.6 66.8h.7M104.8 69.1h.7M115 57.6h.7M104 63.6h.7M112.7 61.9h.7M111.2 63.9h.7M104.4 63.6h.7M124.3 61.1h.7M105.2 65.6h.7M118.9 66.9h.7M107.4 63.1h.7M112.3 62.6h.7M113.4 67.1h.7M114.3 63.3h.7M109.9 69.5h.7M103.9 70.2h.7M115.4 63.7h.7M106.7 69.7h.7M118.2 66.5h.7M123.3 57.2h.7M111.7 62.3h.7M106.8 63.6h.7M114.2 65.2h.7M110.3 58.8h.7M114.4 65.4h.7M123.5 66.6h.7M111.2 59.4h.7M127.1 61h.7M112.2 65.9h.7M114 67.9h.7M105 61h.7M112.1 59.1h.7M107.5 68.1h.7M112.8 63h.7M107.7 63.5h.7M110.9 59.6h.7M115.7 58.9h.7M118.6 62.2h.7M112.8 60.3h.7M121.8 68.1h.7M123.5 66.4h.7M119.1 61.3h.7M118.8 61.8h.7M110.8 58.6h.7M111.4 64.7h.7M110.7 59.5h.7M116.4 66.5h.7M110.6 66.1h.7M116.9 59.9h.7M110.9 56.9h.7M104.9 64.8h.7M105.9 64.7h.7M113.2 56.2h.7M108.2 68.6h.7M111.2 63.8h.7M106.9 57.8h.7M110 60.3h.7M111.7 56.6h.7M119.4 69.3h.7M106.6 64.5h.7M105.7 66.3h.7M106.1 62.9h.7M118.9 65.2h.7M109.1 58.1h.7M114.1 63.5h.7M118.6 63.9h.7M106.7 63h.7M110.5 63.3h.7M126 65.4h.7M112.7 62.5h.7M107 59.9h.7M105.5 56.3h.7M119.3 67.7h.7M105.3 70.5h.7M111.2 59.9h.7M118 64.9h.7M106.5 67.4h.7M110.5 59.9h.7M105.6 56.5h.7M106 66.5h.7M110.4 66.2h.7M104.2 66.5h.7M120.4 71.4h.7M109.8 63.8h.7M105.1 66.4h.7M125.2 68.6h.7M105.3 61.3h.7M115.4 63.8h.7M106.5 67.7h.7M114.2 66.9h.7M110 67.8h.7M108.3 59.4h.7M111 58.5h.7M118.6 65.9h.7M116.2 62.1h.7M113.6 61.3h.7M110.6 63.1h.7M114 60h.7M104.2 64.5h.7M108 65.2h.7M108 58.8h.7M115.5 64.3h.7M115.4 62.2h.7M108.9 67.8h.7M114.1 63.2h.7M111.6 65.5h.7M106.4 64.3h.7M105.3 56.9h.7M112.2 63.7h.7M114.9 65.3h.7M115.3 66.1h.7M104.7 67.6h.7M127.2 61.4h.7M103.4 65.8h.7M116.6 66.9h.7M120.3 58.5h.7M113.3 65h.7M118.6 60.2h.7M111.2 62h.7M110.1 62.8h.7M110.1 57.1h.7M110.8 63.6h.7M106.8 61.1h.7M105.8 69h.7M116.6 62.7h.7M105.2 65h.7M107.4 68.6h.7M117.7 62.9h.7M114.7 60.6h.7M120.9 62.3h.7M107.8 57.1h.7M124 59.1h.7M105.2 62.7h.7M118.3 63.5h.7M110.9 63.4h.7M116.1 63.2h.7M112 63.1h.7M104.3 68.1h.7M106.8 58.7h.7M108.4 63.5h.7M116 58.2h.7M103.4 64h.7M113.3 59.5h.7M104.2 64h.7M110.1 57.7h.7M105.7 68.6h.7M104.6 67h.7M120.7 61.1h.7M106.9 65.6h.7M103.5 65.3h.7M118.4 64.3h.7M113 62.8h.7M117.1 60.5h.7M120.6 63.3h.7M109 57.6h.7M108.4 64.2h.7M118.5 57.7h.7M110.2 60.9h.7M103.8 63.4h.7M106.4 66.4h.7M114.1 62.2h.7M111.8 60h.7M104.7 60.8h.7M110.7 60.4h.7M108.5 60.3h.7M112.4 59.4h.7M110.9 63.7h.7M116.8 60.7h.7M104.1 58.1h.7M115.6 61.2h.7M117 63.1h.7M109.3 56.8h.7M106.9 66.1h.7M107.3 65.7h.7M127.8 67.3h.7M112.9 59h.7M107.8 61h.7M112.1 56.3h.7M105.8 66.1h.7M111.9 66h.7M116.1 59.3h.7M102.9 65h.7M111.2 63.6h.7M112.5 68.4h.7M119.7 68.9h.7M115 67.1h.7M116.7 60.6h.7M116.6 57.7h.7M116 65.1h.7M120.8 60.1h.7M109.7 61.4h.7M105.6 61.7h.7M131.4 64.9h.7M112.8 61.6h.7M126.8 59.7h.7M116.4 64h.7M113 61.5h.7M107.7 61h.7M124.2 70h.7M115.4 67.2h.7M119.5 64.8h.7M116.2 69.2h.7M120.1 63.4h.7M115.7 68.1h.7M113.7 61.5h.7M115.5 62.4h.7M124 65.8h.7M116.5 62.2h.7M124.8 66.1h.7M128.5 68h.7M115.8 62.1h.7M115.4 65.1h.7M121.4 66.3h.7M125.7 58.2h.7M117.2 58.7h.7M111.3 61.9h.7M113.4 60.5h.7M108.6 68.9h.7M115.2 68.2h.7M113.7 67.9h.7M113.9 65.9h.7M111.1 69.9h.7M119.4 68.6h.7M115.5 69.5h.7M117.4 62.4h.7M113.5 64.6h.7M112 59.6h.7M117.7 67.2h.7M115.4 67.7h.7M125.7 59.3h.7M118.4 60.5h.7M113.4 65.1h.7M103.9 66.8h.7M121.6 66.5h.7M120.6 71.6h.7M115 68.7h.7M125 66.3h.7M107.2 63.7h.7M115.4 57.9h.7M116.7 67.4h.7M115.6 63.6h.7M125.1 61.9h.7M111.8 64.5h.7M123.2 66.7h.7M117.4 62.4h.7M123.8 67.9h.7M107.4 65.7h.7M103.7 70.3h.7M120.4 61.8h.7M109.9 63.1h.7M107.3 66.6h.7M114.2 57.3h.7M116.9 69.1h.7M110 62.9h.7M127 65.1h.7M113.9 65.1h.7M121.3 60.3h.7M116.5 57.8h.7M108.3 58.2h.7M121.6 65.6h.7M121 69.2h.7M117.3 65.3h.7M119.2 66.2h.7M111.1 63.2h.7M116.2 64.5h.7M112.9 63.8h.7M118.6 65.1h.7M120.2 67.6h.7M120.1 68.2h.7M121.6 69.9h.7M120.5 61.9h.7M129.8 68.9h.7M123.9 67.3h.7M117.3 59.8h.7M119.4 62.9h.7M114.8 55.8h.7M125.5 59.7h.7M110.9 66.2h.7M120.1 61.2h.7M117 65.4h.7M117.9 66.5h.7M121.3 62.9h.7M114.9 60.4h.7M121.1 66.7h.7M104 69.5h.7M116.8 65.6h.7M118.8 63.4h.7M118.8 59.1h.7M114.8 71.8h.7M102.8 69.3h.7M104.7 60.9h.7M121.8 62.7h.7M113.8 58.3h.7M116.3 63.6h.7M113.5 58.1h.7M117.9 66h.7M123.3 66.4h.7M125.4 69.2h.7M116.4 60.1h.7M119.4 68.2h.7M108.4 59.4h.7M120.8 62.1h.7M125 65.2h.7M114 59h.7M120.3 57.4h.7M109.8 59.1h.7M126.4 71.2h.7M115.8 62.8h.7M120.9 69.3h.7M115.9 68.9h.7M104 64.1h.7M115.8 59.2h.7M127.8 61.6h.7M117 59.3h.7M120.7 65.1h.7M115.4 62.7h.7M113.8 61.5h.7M109.2 69.2h.7M121.9 58.8h.7M110.6 66h.7M129.5 63.5h.7M115.3 63.3h.7M118.4 63.6h.7M123 68.3h.7M120 70.7h.7M115.7 62.1h.7M133.4 56.6h.7M119 60.1h.7M122.9 55.9h.7M116.2 62.8h.7M111 68.8h.7M114.8 66.2h.7M114.1 64.9h.7M114.5 64.6h.7M116.4 61.6h.7M119.4 63.6h.7M111.6 60.1h.7M119.4 69.7h.7M109.8 62.7h.7M119.5 68.5h.7M120.9 59.6h.7M117.2 68h.7M118.3 63.4h.7M110.5 65h.7M116.6 64.5h.7M125.3 69.1h.7M112.6 65.3h.7M115.3 64.7h.7M126 68h.7M117.2 61.7h.7M116.1 65.8h.7M114.2 68.8h.7M117.1 59.6h.7M115.5 63.9h.7M122.5 68.8h.7M125 70.6h.7M118.7 64.8h.7M122.6 64.2h.7M110 62.5h.7M120.7 66.8h.7M110.9 69.2h.7M118.7 58.3h.7M119.6 68.4h.7M119.9 63.1h.7M112.6 68.8h.7M118.2 64.3h.7M114.8 60.2h.7M106.6 63h.7M123.1 67.4h.7M113.2 70.5h.7M115.7 60.3h.7M122.4 69.9h.7M114.8 59.4h.7M117.3 70.5h.7M118.5 61.4h.7M120.9 62.4h.7M124 62.9h.7M128.3 62.9h.7M118.1 60.6h.7M109.9 65.7h.7M118.9 60.4h.7M120.1 62.7h.7M113.9 64.1h.7M119.2 67.3h.7M123.8 65.9h.7M113 61.6h.7M119 59.5h.7M116.1 62.8h.7M116.5 65.1h.7M122.7 70.9h.7M121.9 68.4h.7M111.1 68.5h.7M124.2 58.9h.7M130.9 62.1h.7M103.8 71.4h.7M117.4 61.1h.7M113.8 68.6h.7M118.4 62.8h.7M123.4 60.6h.7M112.3 62.1h.7M112.9 67.1h.7M115.7 60.1h.7M114.5 56.4h.7M117.9 64.8h.7M120.4 63.4h.7M119.2 60.6h.7M117.1 65h.7M110.3 66.7h.7M117.8 64.6h.7M117 61.3h.7M112.3 66.7h.7M115.8 61.2h.7M113 68.1h.7M117.5 68.6h.7M116.9 59.6h.7M121.8 65.6h.7M113.4 63.1h.7M111.6 67.7h.7M114.7 66.3h.7M118.4 63.3h.7M119 63.4h.7M110.5 62.7h.7M110.5 67.4h.7M120.6 62h.7M120.4 65.3h.7M122.4 60.6h.7M117.1 60.4h.7M113.2 69.8h.7M105.9 60.7h.7M119.7 67.5h.7M112.7 56.2h.7M107.5 65.8h.7M123.1 68h.7M113 69.8h.7M116 66.8h.7M115.9 70.7h.7M114.1 55.8h.7M115.3 65.1h.7M118.5 61.5h.7M115.7 59.8h.7M115.7 64.7h.7M118.3 70.9h.7M106 66.4h.7M119.4 59.7h.7M117.4 64.3h.7M111.5 67.2h.7M127.5 67h.7M121.3 68.6h.7M116.3 68.2h.7M112.6 65.1h.7M120.9 69.6h.7M115.4 63.2h.7M119.6 64h.7M117.8 67.6h.7M112.8 67.8h.7M119.1 63.3h.7M110.1 61.8h.7M116.8 68.1h.7M106.2 67.2h.7M118.1 59.8h.7M121.7 65.9h.7M119.4 60.5h.7M110.9 68h.7M124.7 65.8h.7M115.9 62.6h.7M107.6 68.3h.7M116.5 69.3h.7M113.1 68.5h.7M113.1 66.7h.7M124.5 61.5h.7M122 64.3h.7M111.9 65.1h.7M120.5 61.5h.7M115.5 62.1h.7M112.8 63.5h.7M121.5 62.4h.7M123.8 62.8h.7M113.2 68.6h.7M124.7 61.8h.7M120.2 59.7h.7M114.8 62.9h.7M120.9 59.4h.7M114.2 61.6h.7M117.5 59.5h.7M118.2 58.4h.7M121.5 59.1h.7M106.7 71h.7M123.8 61h.7M111.1 66.2h.7M128.1 66.7h.7M120.6 59.7h.7M107.3 65.9h.7M122.5 64.9h.7M117 69.8h.7M112.4 68.7h.7M121.5 61.9h.7M117.7 64.8h.7M120.2 60.5h.7M115.7 64.7h.7M117.2 64.4h.7M118.4 63.6h.7M114.3 68.4h.7M113.5 63.1h.7M112.2 59.8h.7M119.4 64.2h.7M116.3 66.1h.7M116.1 67h.7M126.8 65.7h.7M115.6 70.9h.7M120.8 57.8h.7M124.2 65.2h.7M121.6 59.8h.7M112.4 61.8h.7M120 59.9h.7M113.2 68.1h.7M113.5 64.8h.7M112.1 57.6h.7M116.5 63.9h.7M109.2 68.2h.7M121.4 67.8h.7M114.2 59.8h.7M116.5 65h.7M116.1 62h.7M111.6 61.5h.7M116.5 62.4h.7M126 63.3h.7M119.4 62.5h.7M116 60.5h.7M114.4 58.5h.7M105.8 69.6h.7M111.3 66h.7M116.3 62.1h.7M120.9 62.2h.7M119.3 62.9h.7M122.2 68.1h.7M117.3 68.6h.7M119.7 70.5h.7M116.3 58.3h.7M118.1 65.3h.7M115 63.5h.7M115.5 59.4h.7M126.3 61.3h.7M111.2 58.1h.7M112.4 64.2h.7M124.9 66.7h.7M113.1 59.5h.7M111 64h.7M121.7 62.5h.7M125.6 71.9h.7M117.8 55.9h.7M122.9 64h.7M120.6 68.2h.7M111.6 64.6h.7M117.9 61.4h.7M120.7 63.8h.7M114.8 71.7h.7M117.9 70.7h.7M116.2 68.4h.7M112.9 64.9h.7M122.8 55.8h.7M119.9 63.3h.7M122.8 65h.7M116.6 59.3h.7M132.8 61.5h.7M115.2 61.5h.7M115.4 65.2h.7M109.8 68.5h.7M115.6 66.7h.7M105.6 62.3h.7M115.4 62.8h.7M113.4 65.6h.7M119.2 60.5h.7M106.4 67.2h.7M115.3 68.5h.7M121.7 63.9h.7M109.3 62.9h.7M113.1 69.2h.7M107.9 67.9h.7M108.7 62.1h.7M109.4 61.6h.7M114.6 65.8h.7M113.8 67h.7M126.4 65h.7M110.8 63.6h.7M116.4 62.9h.7M123.2 68.9h.7M127.7 66.4h.7M120.6 61.2h.7M113.7 67.9h.7M117.7 59.9h.7M117 59.5h.7M116.7 59.7h.7M112 62.3h.7M131.9 59.7h.7M110.6 62.2h.7M122.7 67.5h.7M120.7 63.1h.7M117.7 61.3h.7M116 61.2h.7M109.2 60.4h.7M127.3 65.9h.7M112.9 63.9h.7M114.5 69.1h.7M116.8 61.8h.7M120.6 65.6h.7M113.3 61.3h.7M117.7 57.9h.7M112.1 68.3h.7M121.6 68.7h.7M114.6 62h.7M115.5 62.5h.7M123.8 63.5h.7M124.2 61.6h.7M119 70.7h.7M113 61.8h.7M113.7 58h.7M115.4 61.8h.7M128.8 62.5h.7M105.5 68h.7M122.1 64.2h.7M118.5 67.1h.7M113.9 64.5h.7M117.7 70.8h.7M124.5 65h.7M109.8 67.8h.7M116.7 68.9h.7M117.2 65h.7M120.5 61.5h.7M112.3 68h.7M120.6 67.5h.7M124.3 59.1h.7M122.1 56.3h.7M117.2 65.7h.7M122.5 68.6h.7M111.9 63.3h.7M116.1 61.6h.7M112.5 61.7h.7M123.1 69.7h.7M121 70.9h.7M117.4 60.1h.7M113.4 65.1h.7M122.4 69.1h.7M112.1 68.1h.7M114.1 66.7h.7M121.8 70.1h.7M114.1 65.3h.7M119.2 62.7h.7M117.4 66.7h.7M108.1 61.8h.7M129.3 66.1h.7M113.9 57.1h.7M111.8 66.4h.7M120.6 66.1h.7M120.1 62h.7M125.5 59.9h.7M119.7 63.3h.7M107.8 67.9h.7M115.5 67.1h.7M123.7 65h.7M113.4 63.5h.7M116.6 70h.7M121.5 70.6h.7M121 61.3h.7M121.9 68.1h.7M116.3 66.2h.7M115.2 59.4h.7M116.4 67.3h.7M115 55.6h.7M112.6 68.6h.7M118.1 68.7h.7M112.9 62.7h.7M111.6 61.3h.7M119.7 64.9h.7M114.3 65.5h.7M109.9 62.8h.7M108.9 58.5h.7M109.7 60h.7M125.4 69.7h.7M123.7 62.1h.7M120.3 59.9h.7M114 65.3h.7M108.4 65.1h.7M120.2 56.2h.7M103.8 63.3h.7M116.3 64.9h.7M110.9 66.6h.7M117.6 61.5h.7M125.7 65.4h.7M120.9 71.6h.7M114.3 63.5h.7M107.6 63.4h.7M119.9 65.1h.7M110.2 61h.7M107 58.9h.7M117.5 65.5h.7M112 63.5h.7M112.6 66.8h.7M120.3 62.1h.7M114.5 59.5h.7M116.8 67.7h.7M120 70.2h.7M115.2 60.8h.7M122.5 68h.7M113.4 68.7h.7M116.8 64.2h.7M126.8 66.4h.7M118.6 63.1h.7M118 68.5h.7M119.4 61.4h.7M119.3 63.9h.7M118.6 63.6h.7M105.2 58h.7M114.8 55.6h.7M120.6 62.5h.7M118.7 55.5h.7M118.2 68.2h.7M117.9 59.2h.7M122.1 62.2h.7M113.8 65.1h.7M119.3 59.4h.7M116.9 64.6h.7M124.6 69.4h.7M130.6 61.7h.7M112.1 65.8h.7M125.6 60.3h.7M115 61.4h.7M119.7 65.9h.7M116.7 67h.7M112.7 62.9h.7M116.7 64.6h.7M124 64.6h.7M123.9 65.3h.7M123.1 65.1h.7M112 61h.7M119.2 71.8h.7M126.9 63.1h.7M130.4 59.9h.7M112.4 68h.7M108.7 68h.7M118.9 66.8h.7M110.4 65.9h.7M122 64.1h.7M122.4 64.4h.7M118.8 63.1h.7M109.6 63.7h.7M119.6 61.3h.7M106.4 58.2h.7M124 63.5h.7M112.8 69.3h.7M116 58.4h.7M114.5 60.8h.7M115.9 60.7h.7M117.3 66.2h.7M113.8 63.5h.7M116.1 67.6h.7M113 67.3h.7M123.6 63.6h.7M111.7 63.1h.7M107.4 62.2h.7M110.5 63.7h.7M114.9 66.4h.7M117.5 66h.7M116.7 65.5h.7M110.8 67h.7M123.9 68.8h.7M109.7 66h.7M108.1 67.4h.7M115.8 62.5h.7M112.9 63.4h.7M116.9 60.5h.7M117.2 65.4h.7M119.8 64.2h.7M122.4 65.6h.7M109.4 66.8h.7M116 65.9h.7M117.1 64.7h.7M116.1 69.9h.7M119 63.2h.7M112.3 62.2h.7M118.7 64.9h.7M118.6 69.8h.7M123.1 66h.7M117.2 64.1h.7M115.7 68.4h.7M110.1 60.2h.7M114.5 60.5h.7M112.9 69.1h.7M104.7 66.7h.7M109.8 63.4h.7M113.8 60.4h.7M108.9 64.6h.7M114.8 68.7h.7M127 63.2h.7M112.6 63.2h.7M119.5 68.1h.7M111.8 66.2h.7M116.8 68.9h.7M114.7 63.5h.7M112.3 59.1h.7M118.4 67.2h.7M123 65.4h.7M114.4 60.7h.7M110.6 61.5h.7M118.8 64.7h.7M104.5 63.9h.7M115.4 60.2h.7M116.8 66.5h.7M111.3 58.9h.7M115.2 65.4h.7M115.5 70.5h.7M117.7 60.3h.7M121.2 61.8h.7M120.7 64.7h.7M123.6 60.4h.7M120.9 66.1h.7M112 67.2h.7M129.3 65.8h.7M112.8 63.7h.7M124 65.4h.7M125 61.7h.7M124.1 58h.7M116 63.2h.7M114.3 69.2h.7M113.7 65.8h.7M127 67.7h.7M114.7 61.4h.7M106 65.9h.7M121.8 68.8h.7M112.1 67.5h.7M114.8 67.7h.7M130.9 61.3h.7M129 64h.7M108.9 64.7h.7M121.9 62h.7M125.6 60.9h.7M115.9 68h.7M115.8 62.1h.7M116.9 67h.7M126.4 69.8h.7M127.2 64.2h.7M107.9 64.2h.7M114.7 60.4h.7M114.1 64.1h.7M117.3 68h.7M112 68.9h.7M117.2 67.3h.7M123.8 59.4h.7M125.7 61.5h.7M119.2 68.7h.7M122 58.1h.7M117.9 68.9h.7M116.3 64h.7M117.4 70.9h.7M114 60.6h.7M110.9 62.2h.7M115.7 65.7h.7M136.4 58.4h.7M133.5 67h.7M138 59.7h.7M138.5 55.8h.7M141.2 66.7h.7M133.3 66.4h.7M136.5 62.9h.7M135.9 63.7h.7M136.4 61.3h.7M135.5 66.6h.7M137.6 59.8h.7M135.6 70.2h.7M138 70.5h.7M133.9 60.8h.7M132.3 57.6h.7M135.8 60.8h.7M134.4 62h.7M136.2 67.6h.7M137.7 58.2h.7M139.6 63.4h.7M134.6 64.4h.7M135.8 59.5h.7M139.7 62.5h.7M135.4 66.5h.7M139.9 66.3h.7M134.8 66.1h.7M138.8 65.9h.7M137.9 62.8h.7M136.5 58.5h.7M135.2 60.5h.7M136.6 69.9h.7M132.1 59.8h.7M134.7 64.2h.7M138.9 61.7h.7M135 68.9h.7M137.3 66.5h.7M138.3 61.9h.7M137 62.2h.7M135.2 65h.7M137.5 60h.7M135.1 66.8h.7M136.9 67h.7M136 61.7h.7M138.2 66.7h.7M130.9 67.7h.7M135.1 67h.7M139.7 63.5h.7M134.7 65.5h.7M136.8 66.6h.7M133.8 65.4h.7M138.4 67.1h.7M137.9 68.9h.7M134.9 69h.7M137 61h.7M136 65.5h.7M137.3 69.4h.7M137 62.7h.7M141 63.4h.7M134.9 67.9h.7M135.8 61.7h.7M134.5 68.8h.7M134.5 64.9h.7M135.7 63.9h.7M135 65.1h.7M137.8 68.4h.7M135.9 60.3h.7M133.6 64.6h.7M131.6 69.4h.7M136.7 65h.7M133.8 62.2h.7M135.1 67h.7M135.8 66.8h.7M137.6 57.6h.7M136.1 69.1h.7M135.6 65h.7M136.3 60.1h.7M141 64.1h.7M137.9 62.9h.7M139.4 68.7h.7M139 68h.7M138 69.6h.7M137.4 65.1h.7M138.2 61.4h.7M131.5 67.5h.7M136.9 62h.7M136.1 61.1h.7M134.9 65.3h.7M136.8 67.6h.7M136.4 66.9h.7M138 62h.7M133.2 62.1h.7M136.1 62.7h.7M141 62.1h.7M137.6 61.8h.7M138 60h.7M138.5 65.2h.7M135.8 60.3h.7M139.9 62.5h.7M139.5 55.9h.7M134.2 71.1h.7M140.2 64.6h.7M138.6 66.8h.7M135.9 65.1h.7M134.3 59.8h.7M136.8 67.2h.7M136.9 60.2h.7M138.3 64.9h.7M138.1 63.5h.7M136.1 68.4h.7M139.4 60.3h.7M134.4 68.1h.7M137.3 64.8h.7M134.6 68.2h.7M137 65.4h.7M137.4 62.7h.7M137.4 65.1h.7M138 66h.7M134 62h.7M136.1 68.8h.7M135.3 68.7h.7M138.8 67.7h.7M141.1 64.6h.7M137.2 69h.7M137.4 68.2h.7M136.3 69.7h.7M137.3 57.7h.7M138.8 63.9h.7M134.8 63.5h.7M136 68.7h.7M137.3 64.3h.7M136.6 61.4h.7M135.3 62.9h.7M136.1 60.4h.7M135.8 68.2h.7M137.5 64.6h.7M137.3 63.7h.7M134.2 67.8h.7M141.1 66.4h.7M134.2 66.5h.7M135.9 63.6h.7M133.3 64.3h.7M137.4 58.9h.7M136.2 62.8h.7M134.6 66.9h.7M139.9 66.1h.7M138.7 67.3h.7M136.5 66.7h.7M139.3 63.1h.7M136.3 59.7h.7M132.9 61.7h.7M138.4 65.9h.7M137.1 69.3h.7M133.1 69.5h.7M136.8 67.4h.7M139.4 61.7h.7M134.9 66h.7M136.5 62.5h.7M136.3 62h.7M136.9 63.2h.7M140 60.9h.7M137.8 64.9h.7M139.8 61.1h.7M135.7 70.8h.7M135.3 63.2h.7M135.8 61.1h.7M139.1 70h.7M136.3 61.9h.7M133.9 67h.7M135.5 66.6h.7M131.8 63.1h.7M137.9 66.1h.7M130.8 65.7h.7M136.9 64.5h.7M135.9 63h.7M136.9 66.4h.7M130.2 64.6h.7M138.5 63.8h.7M139.1 61.3h.7M140.4 68h.7M139.5 70.3h.7M134.2 64.2h.7M137.5 68.4h.7M136.8 60h.7M139.1 64h.7M137.5 63.5h.7M136.4 59.7h.7M137.9 62.4h.7M133 66.1h.7M136.5 68h.7M138.2 60.3h.7M136.2 64.6h.7M136.8 60.8h.7M136.8 68.1h.7M139.1 69.8h.7M138.1 55.6h.7M136.1 62.7h.7M130.8 70.1h.7M138.4 64.6h.7M137.3 66.3h.7M136.2 69.5h.7M140.3 67.5h.7M135.5 65.5h.7M138.6 67.2h.7M135.2 68h.7M138.1 66.7h.7M135.8 64.5h.7M132.8 64.5h.7M135.7 63.5h.7M136 63.5h.7M136.8 64.9h.7M135.4 64.1h.7M136.4 66.3h.7M137.5 63.3h.7M134.9 58.7h.7M134.1 66h.7M134.8 70.3h.7M136.3 63.2h.7M136.3 62.7h.7M135.3 64.8h.7M133.7 65.1h.7M136.4 61.4h.7M138.7 65.9h.7M138.8 62.2h.7M134.1 60.4h.7M133.4 57.9h.7M139.7 62.9h.7M137 62.7h.7M136.3 70.2h.7M133.1 61.1h.7M136.9 61.4h.7M138 69.2h.7M138.4 67.3h.7M136.3 68.1h.7M135 60.3h.7M136.1 63.7h.7M139.1 61.1h.7M138.9 61.8h.7M134.1 58.6h.7M136.5 59.4h.7M137 64.7h.7M135.8 57.7h.7M135.6 66.2h.7M133 67h.7M136.6 62.6h.7M137 66.9h.7M136.6 61.8h.7M138.2 62.2h.7M137.3 68h.7M139.2 70.2h.7M138.7 65.1h.7M136.2 65.2h.7M137.9 61.6h.7M139.7 58.9h.7M138.6 60h.7M134.4 62.8h.7M136 59.8h.7M137.8 64.2h.7M139.3 61h.7M133 67h.7M136.1 68h.7M131.9 60.1h.7M136.8 71.5h.7M134.1 57.8h.7M135.7 69.6h.7M139.8 59.7h.7M135.4 58h.7M134.9 61.1h.7M137.5 68.6h.7M141.4 63.3h.7M138.2 65.4h.7M136.9 71.5h.7M138 70.1h.7M137.2 67.6h.7M137.6 64.2h.7M135.2 63.1h.7M136.6 63.2h.7M135.9 62.1h.7M138.3 63.7h.7M136.4 63.8h.7M139.2 62.7h.7M139.4 61.5h.7M139.7 66.7h.7M135.6 66.2h.7M138.9 61.2h.7M136.1 65.7h.7M136.2 63.5h.7M136.6 65.7h.7M138.2 69.8h.7M135.9 70.9h.7M136.3 59.4h.7M135.7 63.3h.7M138.7 57.4h.7M135.3 64.1h.7M137.9 66h.7M138.3 64h.7M136.1 68.9h.7M140 65.9h.7M136.9 61.5h.7M140.8 66h.7M137.8 58.9h.7M136.3 63.8h.7M139.7 63.9h.7M138.3 71.5h.7M134.3 61.6h.7M138 65h.7M136.7 64h.7M136.9 65.8h.7M135.7 63.6h.7M137.1 60.7h.7M137.5 56.8h.7M137.9 64.1h.7M134.3 69.4h.7M134.3 71.9h.7M135.2 68.9h.7M136.5 70.3h.7M136.2 68.2h.7M136 57.9h.7M137.4 66.3h.7M137.4 70.5h.7M135.1 59.5h.7M137.1 62.1h.7M136.4 64.6h.7M135 68.5h.7M136.4 70.9h.7M137.1 68.3h.7M136 62.2h.7M135.6 61.4h.7M137.5 65.1h.7M134.5 59.1h.7M134.9 58.1h.7M134.8 59.2h.7M138 60.4h.7M135.4 64.1h.7M136.7 66.1h.7M138.1 66.9h.7M135.9 69h.7M137.3 62h.7M139.6 60.3h.7M137.6 69h.7M136.8 65.8h.7M136.9 66.9h.7M137.1 64.6h.7M138 57.8h.7M137.1 63.5h.7M140.5 65.6h.7M135.3 66.9h.7M135.8 60.3h.7M136.1 66.4h.7M139 68.3h.7M137.1 64h.7M137 68.9h.7M136.4 68.7h.7M135 64.5h.7M138.1 67.1h.7M137 62.7h.7M133.1 63h.7M134.9 63.1h.7M139.7 61.8h.7M138.3 64.5h.7M134.4 65h.7M138.1 60.3h.7M134.3 63.2h.7M138 62.4h.7M137.4 66.2h.7M136.6 66.2h.7M139.1 63.9h.7M137.3 60.8h.7M135.2 64.2h.7M138.2 62.2h.7M133.9 67.9h.7M141.3 55.4h.7M134.5 65h.7M137.6 61.2h.7M137.3 68.5h.7M136.1 67.2h.7M136.9 61.2h.7M135.4 62.4h.7M139.2 68.7h.7M137.1 59h.7M135.6 63.1h.7M132.8 64.5h.7M137.2 59.8h.7M135.8 62.9h.7M140.2 66.9h.7M138.1 64.9h.7M134.1 67.8h.7M135.3 57.7h.7M138 63.3h.7M136.6 66.4h.7M136.2 66h.7M139.1 63.4h.7M135.9 64.6h.7M137.9 63.1h.7M136.8 62.1h.7M136.5 66.5h.7M135 63.9h.7M133.7 62.1h.7M136.8 66.4h.7M134.6 64.2h.7M134.8 65.7h.7M137.1 66.1h.7M136.2 59.5h.7M135.5 59.8h.7M135.3 64.4h.7M138.7 62.3h.7M135.1 65.3h.7M132.6 71.6h.7M133.6 68.2h.7M138.5 68h.7M136.4 67.2h.7M135.9 68h.7M135.3 61.7h.7M137.3 62.9h.7M137.9 61.5h.7M137.1 61.1h.7M136.4 72.2h.7M134.5 60.2h.7M133.5 63.8h.7M139.8 63h.7M138.4 63.9h.7M135.4 71.7h.7M138.7 58h.7M134.7 66h.7M137.9 63.8h.7M137.2 66.5h.7M135.9 68.1h.7M135 67.2h.7M138.4 65.3h.7M135.9 64.5h.7M132.3 65.5h.7M133.8 57.4h.7M138.1 61.3h.7M137.3 64.7h.7M133.2 61.4h.7M136.1 66.2h.7M136.7 60.1h.7M135.6 64.9h.7M134.1 63h.7M135.5 57h.7M140 67.7h.7M135.7 67.9h.7M134.6 70h.7M135.9 65.1h.7M135.5 64.9h.7M137.2 64.7h.7M135 67.2h.7M137.7 64.6h.7M138.6 61.9h.7M139.1 64h.7M139.5 63h.7M136.1 65.3h.7M138.7 69.7h.7M135.7 62h.7M138.1 69h.7M138 63.4h.7M139.1 64.5h.7M136.9 66.8h.7M135.5 56.5h.7M137 67.1h.7M137.5 66.5h.7M136.9 68.2h.7M136.8 69.8h.7M136.7 67.4h.7M135.5 65.6h.7M137.4 65h.7M139.6 64.7h.7M138.8 65.8h.7M138.7 61.4h.7M135.9 68h.7M135 65.9h.7M137.7 65.2h.7M137.4 66.5h.7M136.1 66h.7M135.6 63h.7M133.5 64.2h.7M133.3 64.7h.7M137 60.7h.7M136.7 65.6h.7M135.9 61.3h.7M136.4 66h.7M138.4 71.4h.7M132.8 65.8h.7M137.4 62.3h.7M137.2 72h.7M136.8 69.4h.7M138.7 63h.7M132.1 68.7h.7M139.6 58.3h.7M136.2 62.1h.7M137 64.8h.7M138.8 62.5h.7M140.3 58.5h.7M136.4 66.8h.7M138.3 63.3h.7M132.9 65.3h.7M138 57.3h.7M135.7 66.5h.7M132 63.9h.7M133.5 59.8h.7M137.4 68.6h.7M138.9 62.2h.7M137.6 58.3h.7M133.7 66.5h.7M135.8 60.9h.7M133 63.7h.7M140.9 57.4h.7M134.6 68.6h.7M132.9 62.3h.7M136.7 68.6h.7M136.5 71h.7M136.5 64.2h.7M137.5 65.8h.7M133.7 61.2h.7M136.1 65.8h.7M134.2 62h.7M135.2 65.8h.7M135.8 66.7h.7M137.4 61.3h.7M136 60.1h.7M136.8 67.4h.7M134.7 58.2h.7M137.6 63.5h.7M136.5 66.2h.7M137.3 67.9h.7M135.7 56.7h.7M135.7 63.5h.7M135.8 66h.7M136.1 69.2h.7M135.4 64.5h.7M135.9 72.1h.7M134.7 61h.7M135.9 67.3h.7M136.6 63.9h.7M133.8 57.1h.7M136.2 63.7h.7M140 65.9h.7M137.4 68h.7M134.9 60.2h.7M135.9 69.8h.7M138.5 62.5h.7M134.2 67.9h.7M138.7 60.6h.7M139.7 61.8h.7M138.1 63.8h.7M136 62.4h.7M138 66.8h.7M138.2 63.5h.7M134.9 72.2h.7M139.9 63.9h.7M134.4 69.9h.7M136.9 64.8h.7M138.3 65.8h.7M136.8 71.7h.7M132.9 66.9h.7M134.7 64.8h.7M136.3 65.5h.7M131.9 67h.7M141.2 63.1h.7M138.4 66.8h.7M137.2 62.8h.7M137.8 65.5h.7M139.4 67.5h.7M139.6 66.3h.7M136.9 62.4h.7M141.5 69.3h.7M136.8 63.2h.7M137.7 69.4h.7M137.6 67.9h.7M137.1 65.8h.7M134.1 65h.7M136.7 64.3h.7M136.1 65.7h.7M135.5 63.8h.7M134.8 60.2h.7M135.5 63.1h.7M134.5 55.8h.7M139.8 68.2h.7M135.9 66.6h.7M134.4 58.7h.7M137.3 66.6h.7M135.2 64.5h.7M130.5 64.1h.7M138.7 65.2h.7M137 66.6h.7M132.5 59.9h.7M134.1 65.4h.7M135.4 57.8h.7M138.4 63.9h.7M138.6 71.8h.7M133.3 60h.7M138.7 69.6h.7M137.4 65.8h.7M138 66.9h.7M134.1 67.2h.7M138.6 63.1h.7M134.8 62.8h.7M135.4 66.4h.7M138.1 64.6h.7M136 58.2h.7M135.8 61h.7M135.5 65.8h.7M134.9 62.6h.7M134.3 63.6h.7M136 68.2h.7M132.7 67.8h.7M137.9 62.7h.7M135.2 65.3h.7M137.6 64h.7M136.3 64.6h.7M134.4 65.5h.7M137.7 64.7h.7M134.3 64.6h.7M136.4 65.7h.7M135.8 67.5h.7M138.8 67.5h.7M137.1 68.9h.7M136.5 64h.7M133.8 64.6h.7M139 61.1h.7M138.1 60h.7M137.2 71.1h.7M136.7 60.4h.7M137.2 64h.7M138.2 62.7h.7M133.2 62.9h.7M137.8 68.2h.7M137.1 64.6h.7M138 63.9h.7M135.7 65.4h.7M138.8 62.8h.7M137.6 62.3h.7M135.1 65.2h.7M133.9 61.5h.7M134.2 62.4h.7M137.8 64.8h.7M133.9 56.2h.7M137.5 62.3h.7M138.7 63.2h.7M134 62.3h.7M133.6 59.6h.7M138 62.7h.7M138 62.6h.7M136.1 62.6h.7M135.5 62.2h.7M139.6 64.4h.7M132.7 70.5h.7M139.1 68.5h.7M136.4 64h.7M135.6 65h.7M137.5 64.5h.7M135 61.2h.7M139.9 70.5h.7M134.1 62.3h.7M136.5 66.6h.7M136.4 65.4h.7M137.3 68.6h.7M134 68.4h.7M137.5 66.5h.7M133.6 63.8h.7M136.1 66.8h.7M137.9 67h.7M134 69h.7M136.7 67.8h.7M136.6 62.1h.7M141.8 66.9h.7M138.1 62.9h.7M136.1 68.5h.7M137.5 70.7h.7M139 60.8h.7M133.5 68.6h.7M137.8 63.7h.7M136 62.6h.7M140.2 64h.7M133.8 67.7h.7M136.4 65.8h.7M135.8 64.4h.7M132.8 66.4h.7M135.2 63.2h.7M137.2 69h.7M132.3 64.1h.7M137.7 68.1h.7M134.8 65.7h.7M137.4 67.8h.7M135.3 63.9h.7M135.6 68.5h.7M138.7 63h.7M136.3 65.3h.7M134.8 64.2h.7M138.3 67.3h.7M135.2 62.3h.7M136.3 59.5h.7M137.2 65h.7M133.9 63.8h.7M135.2 63.6h.7M134.8 69.3h.7M134.6 67.2h.7M137 69.6h.7M136.5 64.6h.7M136.7 58.1h.7M141.4 63.8h.7M135.9 60.7h.7M136.3 70.1h.7M135.1 66.1h.7M138.6 67.8h.7M135.8 58.6h.7M137.4 66.5h.7M135.9 63.1h.7M140.1 59.1h.7M135.5 62.5h.7M133.4 62.2h.7M135 68.9h.7M133.1 59.9h.7M137.1 59.3h.7M132.6 62.4h.7M134.2 61.2h.7M136.2 66.1h.7M135.3 63.6h.7M138 64.1h.7M138 62.6h.7M137.5 69h.7M135.9 63.4h.7M136.2 66.2h.7M134.2 64.7h.7M135.4 69.5h.7M133.1 66.8h.7M135.9 62h.7M136.8 63.8h.7M136.6 65.4h.7M139 63.2h.7M139.9 55.4h.7M140.2 68.7h.7M139.7 65.3h.7M137.1 61.1h.7M139.2 60.6h.7M135 64.6h.7M137 65.8h.7M134.2 63.4h.7M137.5 68.6h.7M138.1 66h.7M136 62.7h.7M135.5 64.3h.7M137.6 62.9h.7M140.7 61.2h.7M138.2 63.9h.7M136.3 63.3h.7M139.6 63.6h.7M137.7 65h.7M138.1 66.6h.7M139.9 62.1h.7M134.9 70.4h.7M139.1 64.8h.7M136 65.5h.7M139.2 62h.7M139.5 64.4h.7M135.8 63.3h.7M132.4 65.7h.7M133.9 62.7h.7M134.8 65.4h.7M138 64.7h.7M136.9 66h.7M139.8 66.6h.7M139.7 64.4h.7M137.3 62.4h.7M137.7 61.7h.7M137.5 62.5h.7M135.9 68.7h.7M136.9 67.3h.7M136.1 58.3h.7M139.5 64h.7M135.3 67.8h.7M134.3 62.1h.7M138.8 62.2h.7M138.8 63.6h.7M136.1 64.8h.7M135.6 68.2h.7M138.7 64.8h.7M137.8 66.4h.7M139.9 59.2h.7M138.6 67.7h.7M135.9 64.7h.7M135.9 68.8h.7M134.3 66.7h.7M139.1 66.5h.7M135.6 63h.7M132.3 61.1h.7M138.7 61.4h.7M133.3 63.8h.7M133.6 66.2h.7M134.8 67.8h.7M136.3 59.8h.7M135 62.4h.7M134.9 68.8h.7M134.6 65.8h.7M135.4 66.6h.7M133.7 59.3h.7M137.6 69.5h.7M133.8 63.5h.7M135.6 61.4h.7M138.5 64.8h.7M133.8 63.9h.7M139.2 62.2h.7M135.5 61.8h.7M136.9 62.7h.7M138.3 61.8h.7M133.7 66.1h.7M130.2 61.4h.7M137.1 65.4h.7M135.4 63.1h.7M135 64h.7M135.7 66.5h.7M136.6 66.5h.7M139.8 63.7h.7M136 65.9h.7M140.8 63.4h.7M139.9 68.6h.7M131.1 61.2h.7M134.6 66h.7M139.2 64.8h.7M136.9 72h.7M137.3 71.9h.7M134.8 70.2h.7M135.6 56.4h.7M134.9 63h.7M136.5 67.2h.7M137.9 66.4h.7M135.1 70.7h.7M139 64.7h.7M135.4 64.4h.7M136.1 62.2h.7M136.5 62.4h.7M137.9 62.4h.7M137.5 65.7h.7M136.9 66.4h.7M135.2 67.1h.7M136.6 63.1h.7M140 68.4h.7M136 66.5h.7M137.9 70h.7M138.6 64h.7M136.1 60.7h.7M137.1 67.5h.7M135.8 66.9h.7M136.8 63h.7M134.1 68.4h.7M141.6 66.5h.7M134.4 61.1h.7M137.1 66.8h.7M139.6 56.4h.7M140.3 65.2h.7M136.8 65.9h.7M135.9 63.6h.7M138.7 58.7h.7M136.3 66.5h.7M133.3 64.1h.7M139.6 65.9h.7M138 67h.7M137 65.8h.7M135 63.9h.7M140.3 60.4h.7M136.2 60.3h.7M135.5 62h.7M134.1 65.4h.7M134.7 66.4h.7M140.2 55.9h.7M136.2 57.5h.7M136.3 65.9h.7M137 68.7h.7M136.9 58.7h.7M139.6 61.4h.7M136.4 65.7h.7M134.8 64.9h.7M139.6 58.8h.7M133.3 63.1h.7M136.2 60.2h.7M132 67.7h.7M137.4 60.1h.7M137.7 64.4h.7M136.9 60h.7M136.1 66.2h.7M133.1 61h.7M138.5 71.4h.7M137.9 64.4h.7M134.4 63.2h.7M136.1 66.1h.7M139.2 57.1h.7M134.2 64.6h.7M138.6 66h.7M131.1 59h.7M139.3 66.6h.7M141.7 67.3h.7M137.5 69.8h.7M135.7 62.7h.7M134.6 65.4h.7M137.5 67.8h.7M139.5 66.7h.7M139.1 63.7h.7M134.7 67.1h.7M138.6 69.2h.7M136.3 63h.7M135.9 65.8h.7M136.5 64h.7M137.1 63.6h.7M137.3 62.5h.7M133.5 63.5h.7M140.4 61.8h.7M138.4 69.2h.7M135.5 65.5h.7M132 66.6h.7M139.7 65.2h.7M132.6 62.6h.7M135.1 65h.7M137.2 63.2h.7M136 61.8h.7M137.7 65.3h.7M137.3 62.8h.7M137.6 63.6h.7M137.2 64h.7M135.3 60.8h.7M132.9 59.9h.7M133.3 61.8h.7M136.2 60.6h.7M137.4 71.8h.7M131 60.5h.7M139.1 60.6h.7M136.4 62.4h.7M138.1 59.6h.7M137.2 65.3h.7M137.7 66.1h.7M136.9 58.4h.7M135.9 61.3h.7M137.7 63.8h.7M136.9 68.4h.7M136.4 70.4h.7M138.3 59.4h.7M135.4 68.8h.7M135.6 68.7h.7M135.5 64.1h.7M138.7 59.1h.7M136.8 63h.7M136.9 70.5h.7M137.6 59.9h.7M138.5 63h.7M136.9 68.6h.7M136 67.9h.7M137 61.4h.7M136 59.9h.7M139 65.1h.7M138.5 60.7h.7M138.3 60.4h.7M137.2 64.5h.7M135.4 65.6h.7M136.7 61.5h.7M135.1 60h.7M139.3 65.1h.7M135.9 67h.7M134.9 60.5h.7M137.3 70.1h.7M137.2 65.1h.7M140.1 59.2h.7M142.7 60.7h.7M136.5 59.9h.7M134.2 63.7h.7M141.5 61.3h.7M135.4 65.5h.7M134.6 63.7h.7M138.2 57h.7M136 63.5h.7M135.6 64.1h.7M133 63h.7M135.6 61h.7M139.1 71.5h.7M138.2 61.5h.7M139.4 66.3h.7M135 66.7h.7M135.4 66.5h.7M138.4 68.6h.7M134.5 64.1h.7M136.6 60.3h.7M137.4 67h.7M133.8 62.6h.7M134.4 60.1h.7M134.5 69.3h.7M135.3 63.2h.7M138 41.5h.7M138.5 37.9h.7M137.7 38.3h.7M136 39.9h.7M136.1 42.6h.7M136.6 41.7h.7M136.6 40.3h.7M137.4 40.9h.7M137.4 38.3h.7M137.4 40.7h.7M137.5 40.3h.7M137.3 38.8h.7M138.2 38.9h.7M138.5 41.5h.7M136.7 40h.7M137.7 40h.7M135.4 40.7h.7M135.3 39.8h.7M139 41.3h.7M136.3 40.3h.7M136 40.3h.7M135.1 41.1h.7M136.8 39.6h.7M136.1 43.4h.7M136.3 39.8h.7M136.1 39.8h.7M138.4 41.1h.7M137.3 40.8h.7M135.4 37.5h.7M138.6 41.2h.7M137.1 40.7h.7M137 40.4h.7M136.5 37.8h.7M137.5 40.4h.7M138 40.7h.7M136.5 41.1h.7M137 39.8h.7M136.3 39.9h.7M136.4 39.8h.7M138 43.8h.7M136.7 41.7h.7M134.4 36.6h.7M136.2 40.2h.7M135.9 38.8h.7M135.8 39.8h.7M137 40h.7M135.4 39.9h.7M138.6 39.3h.7M136.9 41.5h.7M135.8 39.7h.7M140.3 41.8h.7M136.2 40.5h.7M136.9 40.5h.7M137.4 40h.7M134.1 39.2h.7M137 38.8h.7M136.4 42.1h.7M137.1 39.6h.7M137 41.6h.7M134.7 38.9h.7M114.6 51.4h.7M124.1 47.9h.7M124.1 49.5h.7M115.8 54.6h.7M122 54.7h.7M115.6 42.3h.7M119.9 52.3h.7M122.8 54.9h.7M120.2 50.6h.7M121.4 40.8h.7M122.4 50.4h.7M115.9 50.6h.7M115.9 50.8h.7M118.8 54.1h.7M117 46.2h.7M118.6 47.7h.7M124 51.6h.7M114.3 49.4h.7M120.9 52.2h.7M113.6 51.9h.7M125.4 51.9h.7M115.8 51.1h.7M123.6 49.2h.7M116.5 55.2h.7M120.6 53.4h.7M119.8 52.4h.7M123.6 51.9h.7M122.9 55.2h.7M118.9 52.9h.7M121.8 50.4h.7M117.9 51.7h.7M119.8 51h.7M113.2 52.6h.7M123.6 52.6h.7M119.6 50.1h.7M123 51.1h.7M114.5 52.8h.7M119.8 51.6h.7M123.4 53h.7M120.6 53.4h.7M119.2 50.6h.7M122.4 46.4h.7M122.3 45.8h.7M122 48.6h.7M119.6 47.9h.7M120.6 52.1h.7M121.5 55h.7M118.4 44.9h.7M116.3 48.1h.7M119.5 50.9h.7M121.1 48.7h.7M119.8 49.4h.7M120 54.3h.7M116.5 54.7h.7M120.8 53.1h.7M119.6 49.2h.7M123.5 47.6h.7M115.5 54.2h.7M119.5 49.5h.7M119.9 51.9h.7M125.1 54.6h.7M118.4 54.1h.7M121 46.6h.7M125.9 54.3h.7M123.9 52.1h.7M121.2 54.4h.7M123.6 46.8h.7M109.9 52.2h.7M124.9 53.5h.7M116 54.5h.7M125.6 51.9h.7M119.8 50.2h.7M111 53.5h.7M113.3 54.4h.7M115.4 54.1h.7M112.2 53.9h.7M113.6 53.1h.7M111.9 50.9h.7M125.4 54.1h.7M113.8 52.5h.7M120.6 52.7h.7M110.3 52.3h.7M122.2 53.9h.7M112.1 52.1h.7M120.7 53.9h.7M111 55.1h.7M118.2 51.4h.7M111.6 50.8h.7M119.5 52.7h.7M111.8 52.8h.7M111.4 55h.7M106.5 54.4h.7M117.3 53.9h.7M111.9 53.1h.7M112.3 51.4h.7M114.7 52.7h.7M106.4 54.6h.7M111.6 52.1h.7M116.6 50.9h.7M117.4 48.7h.7M109.4 50.6h.7M111.6 54.9h.7M109 52.4h.7M118.9 52h.7M121.7 53h.7M112.5 51.5h.7M119.8 53.2h.7M110.2 51.5h.7M109.3 53.2h.7" stroke="#000" stroke-width="0.7" fill="none" opacity="0.8" filter="url(#b)"/>
<g stroke="#3a3a3a" stroke-width="0.75" fill="none">
<path d="M102.4 73.1V24.5H154.8V73.1"/>
<path d="M127.8 24.5V73.1M102.4 53.4H154.8"/>
</g>
<path d="M102.4 73.1H154.8" stroke="#3a3a3a" stroke-width="0.75"/>
<path d="M103.4 24.5V73.1M102.4 72.1H154.8" stroke="#666" stroke-width="1.2" stroke-dasharray="0.5 1.6" fill="none" opacity="0.55"/>
<text transform="translate(97.8 85.2) rotate(-90)" font-size="8.5" textLength="71.4" lengthAdjust="spacingAndGlyphs" class="m">CMV HLA-A*0201</text>
<text x="116.9" y="83.0" font-size="10" textLength="20" lengthAdjust="spacingAndGlyphs">CD8</text>
<path d="M88.2 84.5V105.7" stroke="#111" stroke-width="1.3" fill="none"/>
<path d="M85.65 104.10000000000001L88.2 109.0L90.75 104.10000000000001L88.2 104.8Z" fill="#111"/>
<rect x="97" y="87.7" width="70.4" height="20.4" fill="#fff" stroke="#333" stroke-width="1"/>
<text x="132" y="95.1" font-size="7.2" text-anchor="middle" textLength="26.2" lengthAdjust="spacingAndGlyphs" class="m">21 days</text>
<text x="132.2" y="104" font-size="7.2" text-anchor="middle" textLength="67.5" lengthAdjust="spacingAndGlyphs" class="m">+ INF&#947; + OKT3 + IL2</text>
<path d="M40.9 123.5h.7M46.6 126.1h.7M45.9 124h.7M42.4 127.4h.7M50.5 126.1h.7M45.6 121.2h.7M41.4 127.9h.7M51.7 124.3h.7M38.8 125h.7M41.6 125.1h.7M40.1 126.8h.7M45.2 123.4h.7M37.7 129.3h.7M46.3 126.1h.7M37.2 129.4h.7M39.8 125.9h.7M45.4 124.4h.7M44.5 124.9h.7M35.7 123.3h.7M41.5 124.8h.7M45.8 128.5h.7M43 129.5h.7M42.3 125.9h.7M43.1 122.8h.7M43.7 125.3h.7M40.7 127h.7M45.6 125.2h.7M40.5 126.2h.7M40.8 124.2h.7M42 127.3h.7M42.8 125.4h.7M42.6 126.7h.7M43.3 127.1h.7M43.4 127.2h.7M42.8 124.4h.7M45.6 125.3h.7M42.1 128.2h.7M42 124.4h.7M42.6 128.2h.7M38.6 127.7h.7M46 125h.7M42.6 124.5h.7M35.8 124.1h.7M38.3 122.9h.7M42.2 126.7h.7M40.2 125.1h.7M40.8 125.4h.7M45.5 127.8h.7M46.3 126.3h.7M49.4 126.9h.7M45.8 126.7h.7M47.2 123.9h.7M40.3 125.9h.7M36.8 125.2h.7M42.5 126.3h.7M46.6 128h.7M45.2 128.2h.7M41.4 126.4h.7M65.1 141.7h.7M67 161.1h.7M64.1 152.2h.7M71 149.4h.7M64.3 154.3h.7M67.9 155.4h.7M71.7 155.8h.7M60.1 134.8h.7M66 146.9h.7M67.1 156.7h.7M71.7 138.3h.7M69.4 153.2h.7M69.7 162.3h.7M55.2 160.7h.7M68.1 143.4h.7M65.2 162h.7M58.6 160.3h.7M61.8 145.1h.7M70.5 148.5h.7M67.7 124.8h.7M77.1 132.4h.7M57.9 156.4h.7M68.1 143.1h.7M55.2 156.9h.7M66.8 142h.7M66.4 145.4h.7M60.9 158.4h.7M65.7 151.7h.7M59.8 144.1h.7M64.4 145.2h.7M67.4 151.6h.7M64.7 149.6h.7M67.7 161.6h.7M60.6 161h.7M70 159.3h.7M63.1 153.4h.7M75.8 137.8h.7M69.7 148.7h.7M36 151.7h.7M80.2 135.4h.7M49.8 156.8h.7M62.7 146.7h.7M70.6 143.4h.7M76.1 145.1h.7M72 119.6h.7M59.1 161.4h.7M59.3 151.4h.7M61.6 162.7h.7M38.6 132.3h.7M43.2 159.8h.7M83.9 128h.7M49.2 130.6h.7M65.3 152.3h.7M47.7 157.8h.7M57.6 142.3h.7M53.2 140.4h.7M36.5 120.9h.7M83.6 132.6h.7M52.5 164.9h.7M50.4 123.4h.7M78.6 137.7h.7M67.5 133h.7M41.2 129.3h.7M73.4 144.3h.7M68.2 153.2h.7M63.6 150.9h.7M44.5 127.7h.7M56.8 158.4h.7" stroke="#000" stroke-width="0.7" fill="none" opacity="0.5" filter="url(#b)"/>
<clipPath id="cp3"><rect x="34.3" y="118.2" width="51.9" height="48.3"/></clipPath>
<g clip-path="url(#cp3)"><ellipse cx="69.9" cy="137.5" rx="2.4" ry="7.5" fill="#000" opacity="0.4" transform="rotate(0 69.9 137.5)" filter="url(#c)"/><ellipse cx="69.5" cy="150" rx="1.8" ry="5" fill="#000" opacity="0.4" transform="rotate(0 69.5 150)" filter="url(#c)"/><ellipse cx="69.4" cy="160.5" rx="2.0" ry="6.0" fill="#000" opacity="0.7" transform="rotate(0 69.4 160.5)" filter="url(#c)"/></g>
<path d="M70.7 140.3h.7M72.5 136.1h.7M71.2 137.7h.7M67.8 134.4h.7M74.2 136.6h.7M73.2 141.3h.7M73.2 136.5h.7M71.8 135.9h.7M67.8 131.8h.7M70.8 129.8h.7M70.7 133.2h.7M70.7 130.9h.7M71.6 136.3h.7M67 130.6h.7M70.1 129.6h.7M70.6 139.7h.7M68.7 144h.7M72.8 138.8h.7M70.9 139.6h.7M69.5 143.6h.7M68.9 125.5h.7M70 139.4h.7M71.6 132.1h.7M72.7 133.5h.7M71.2 140.8h.7M70.3 142.7h.7M69 147h.7M70.9 135.4h.7M75 137.3h.7M66.8 144.1h.7M73 134.6h.7M68.1 142.7h.7M70.1 132.8h.7M69 137.7h.7M71.9 144.8h.7M68.8 144.6h.7M67.1 140.7h.7M69.7 139.4h.7M69.1 134h.7M70.5 142.7h.7M65.7 137.6h.7M69.2 132.3h.7M67.4 139.8h.7M71.1 140.4h.7M66.1 130.2h.7M68.8 135.3h.7M73.4 135.5h.7M70.2 142.1h.7M73.2 139.1h.7M70.6 146.5h.7M69.2 128.9h.7M68.5 135.9h.7M72.5 138.9h.7M72.3 137.8h.7M70.1 134.6h.7M67.6 139.8h.7M70.7 140.1h.7M69 135.4h.7M70.7 140.2h.7M73.8 133.2h.7M71.9 141.6h.7M69.5 138h.7M69.9 144.6h.7M74.9 138.9h.7M69.5 141.9h.7M70.9 136.5h.7M71.4 141.5h.7M69.2 141.4h.7M65.6 131.3h.7M69.4 138.1h.7M67.2 144.4h.7M69.3 138.1h.7M69.9 140.9h.7M68.9 140.9h.7M68.4 130.3h.7M71 138.1h.7M71.7 128.2h.7M70.2 134.3h.7M69.6 135.5h.7M69.3 134.2h.7M72 129.2h.7M66.8 139h.7M73.9 133.7h.7M68.2 131.8h.7M68 143.3h.7M71.3 141.6h.7M70.7 138.5h.7M68.9 132.8h.7M71.2 149.1h.7M69.3 143.4h.7M68.6 137.5h.7M73.3 137h.7M71.2 134.7h.7M73.6 131.5h.7M71.1 136.2h.7M70.4 139.1h.7M72.5 141.5h.7M72 139.1h.7M67.9 143.7h.7M73 139.6h.7M71.5 136.3h.7M67.2 142h.7M68.6 146.4h.7M71.3 137.3h.7M68.8 137.9h.7M68 135.6h.7M73.1 136h.7M73.5 136.9h.7M70.8 133h.7M69.4 135.2h.7M67.3 146.5h.7M71.1 137h.7M67.9 137.5h.7M67.9 132.8h.7M69.6 147.6h.7M66.6 140h.7M67.2 136.7h.7M70.1 133.8h.7M73.4 139.9h.7M68.8 129.5h.7M70.3 134.2h.7M72 132.4h.7M72.3 135.2h.7M70.4 136.1h.7M71.2 142.8h.7M68.9 133.1h.7M73.6 141.9h.7M73.7 141.9h.7M70.2 145.1h.7M68.7 135.3h.7M69.2 140.6h.7M68.3 136.5h.7M68.3 136.2h.7M72.1 142.7h.7M69.5 149.5h.7M68.6 139.5h.7M69 126.8h.7M67.7 143.3h.7M66.8 151.3h.7M69.7 138.6h.7M72.4 137.5h.7M68.7 134.5h.7M68.1 140h.7M69.1 139.8h.7M67.1 135.3h.7M74 139.1h.7M69.8 143h.7M70.5 144.7h.7M67.7 141h.7M67.9 140.6h.7M74.7 144.7h.7M68.3 139.4h.7M70.9 133.9h.7M70.4 132.3h.7M71.8 141.7h.7M69.6 140.6h.7M74.6 136.6h.7M66.3 139h.7M69.1 133.6h.7M71.7 142.1h.7M71.1 145.2h.7M68.7 135.4h.7M64.6 139h.7M69.5 137.6h.7M68.1 138.4h.7M72 134.3h.7M71.1 136.6h.7M69.6 137.9h.7M72.9 139.9h.7M71.3 138.1h.7M65.8 141.9h.7M69.9 137.8h.7M69 130h.7M72.9 146.1h.7M73 128.6h.7M71 131.7h.7M69.6 134.9h.7M68.7 133.7h.7M69 141.1h.7M73.1 141.8h.7M69.9 136.7h.7M69.5 137.3h.7M68.7 136.5h.7M71.6 136.3h.7M68.4 136.8h.7M70.1 137h.7M69.4 140.7h.7M69.9 132.5h.7M71.1 133.9h.7M71.4 141.3h.7M70.9 138.8h.7M67.3 136.4h.7M70.2 140.4h.7M67.7 136.6h.7M66.9 138.2h.7M70.1 137.9h.7M73.2 140.9h.7M69.6 134.6h.7M69.1 141.1h.7M71.7 134.9h.7M69.7 135.3h.7M71.3 138.3h.7M68.5 133.1h.7M72.5 130.7h.7M73.9 134.8h.7M71.6 140h.7M71.6 142.8h.7M69 137.3h.7M71.9 140h.7M68.5 133.7h.7M67.1 138.6h.7M68.9 129.9h.7M68.8 138.9h.7M70.3 136.3h.7M70.3 140.5h.7M67.6 133.5h.7M71.8 140.9h.7M67.2 133.9h.7M72.8 141h.7M69.7 142.2h.7M72.6 144.1h.7M67.2 131.2h.7M68.9 137.1h.7M69.2 138.5h.7M72.8 142.6h.7M71.9 137.4h.7M73.2 139.6h.7M70.4 137.3h.7M66.3 147.7h.7M69.9 141.7h.7M74.4 136.4h.7M67.6 142.2h.7M70.4 132.8h.7M71.8 137.4h.7M68.1 125.3h.7M68 139.2h.7M67.9 142h.7M74.3 138.9h.7M70.4 137h.7M71.6 137.5h.7M72 144.2h.7M71.6 132.8h.7M71.3 136.1h.7M70.6 142h.7M68.6 138.3h.7M72.8 133.4h.7M69.6 140.8h.7M69.5 142.3h.7M67.9 130.2h.7M70.7 136.7h.7M70.6 142h.7M72 135.7h.7M69.2 128.1h.7M68 138.5h.7M70.4 130.3h.7M71.5 137.2h.7M72.1 135.7h.7M71.8 132.1h.7M66.3 133.5h.7M71.3 139.3h.7M66.2 138.1h.7M71.3 145.4h.7M71.5 139.8h.7M66.8 139.1h.7M66 136h.7M69.2 132.7h.7M67.9 136.7h.7M71.1 134.3h.7M70.5 140.7h.7M69.9 146.5h.7M69.3 133.9h.7M66.2 142.5h.7M71.3 136.5h.7M70.6 136.8h.7M71.7 137.3h.7M70.4 137h.7M68.2 126.8h.7M71 131.5h.7M70.7 140.4h.7M73.7 133.8h.7M70.2 141.9h.7M68.6 134.6h.7M70.8 147.2h.7M72.1 141.9h.7M68 140.5h.7M72.2 131.4h.7M70 136.4h.7M71.2 129.1h.7M71.3 137.4h.7M69.4 127.3h.7M65.8 134.8h.7M71.2 139.4h.7M71.4 129.3h.7M70.3 143.7h.7M66.9 140.4h.7M68.5 140h.7M70.1 129.7h.7M67.9 143.4h.7M69.7 143.2h.7M70.6 141.6h.7M69.2 138.4h.7M69.2 141.7h.7M68.8 142.6h.7M73 131.6h.7M69.6 139.9h.7M73.4 142.8h.7M70.1 129.2h.7M71.6 134.6h.7M70.3 139.3h.7M67.1 142.4h.7M71.7 140.1h.7M71.1 139h.7M67.2 135h.7M71.5 135.8h.7M70 139.1h.7M70.1 138.6h.7M70.9 137.4h.7M67.7 136.1h.7M71.8 134.2h.7M70.9 138.8h.7M69.9 133.7h.7M68.7 141.8h.7M68.4 139h.7M70.2 138.3h.7M73.9 128h.7M71.8 136.7h.7M69.4 134.2h.7M70 137.6h.7M68.1 145.1h.7M68.5 136.7h.7M67.4 138.1h.7M70.6 142.5h.7M71.9 135h.7M73.1 136.9h.7M73 145.4h.7M69.1 132.3h.7M71 144.1h.7M70.7 142.5h.7M71.1 141.6h.7M72.5 136h.7M67.1 136.8h.7M68.4 131.7h.7M69.6 140.7h.7M66.3 130.2h.7M71.5 133.2h.7M69.2 143.7h.7M72.1 139h.7M71 139.2h.7M67.2 138.2h.7M70.8 136.8h.7M71.5 141.5h.7M70 136.2h.7M67.6 142.7h.7M68.8 138.9h.7M73 141h.7M67.4 137h.7M68.5 129.6h.7M68.3 140.1h.7M70.6 136.4h.7M70.3 131.9h.7M68.4 136.6h.7M71.5 135.9h.7M69.6 138.9h.7M72.8 131.4h.7M71 138.2h.7M69.8 138.5h.7M66 137.5h.7M69.5 131.5h.7M71.6 136.8h.7M69.2 140.9h.7M68.1 134h.7M71.6 141.5h.7M73.9 135.2h.7M67.1 130.4h.7M67.6 137.9h.7M69.5 134.2h.7M67.9 134.1h.7M69.2 143h.7M71.2 143.8h.7M71.5 140.9h.7M72.2 139.5h.7M73 142.7h.7M73.5 138.4h.7M68.4 149.2h.7M69.4 139.8h.7M69.2 134.1h.7M70.8 132.1h.7M69.6 144h.7M70.2 141.2h.7M71.2 139.2h.7M70.1 140.2h.7M68 140.1h.7M67.8 133.8h.7M68.8 131.1h.7M66 139.1h.7M70.9 140.5h.7M74.3 138.2h.7M71.4 133.8h.7M71.3 132h.7M73.8 132.8h.7M69.1 140.9h.7M65.6 143.7h.7M68 138.3h.7M71.8 138.1h.7M71.8 135h.7M71.1 127.1h.7M72.9 134.2h.7M68.2 137.4h.7M73.3 134h.7M69.9 135.7h.7M68.1 131.2h.7M71.1 140.7h.7M68.4 138.4h.7M70.8 139.1h.7M69.6 137.6h.7M70.5 132.3h.7M69.6 141.1h.7M68.8 143.5h.7M69.4 132.2h.7M69.3 131h.7M71.1 129.9h.7M69.9 136.2h.7M69.3 139.3h.7M70.5 134.7h.7M71.5 135.2h.7M71.7 143.7h.7M70.7 141.7h.7M67.3 140h.7M67 136.5h.7M68.4 133.7h.7M68.1 137.5h.7M71.2 131.9h.7M68.7 128.6h.7M68.5 127.5h.7M66.9 139.6h.7M71.6 133.5h.7M70.6 133.7h.7M72 145.6h.7M65.1 133.3h.7M68.6 135.1h.7M73 144.7h.7M69.9 140.4h.7M66.8 136h.7M69.3 136.6h.7M70.5 130h.7M67.8 147.4h.7M66.5 137.6h.7M71.3 139.7h.7M70 129.8h.7M69 130h.7M73.8 139h.7M71.3 138.3h.7M69.1 142.9h.7M71.6 140.3h.7M71.1 140.8h.7M69.4 139.4h.7M70.1 136.2h.7M71.2 147.4h.7M65.9 144.1h.7M69 143h.7M67.9 136.5h.7M71.9 137h.7M70.6 131.7h.7M67.6 145.2h.7M70.2 136.9h.7M67.2 132.5h.7M67.9 137.1h.7M69.7 134.5h.7M68.6 137.9h.7M72.2 130.7h.7M67.1 142.7h.7M67.1 135.4h.7M70.1 145.9h.7M69.7 142.4h.7M70.2 133.5h.7M70.3 127.7h.7M71.5 144.3h.7M69.5 141.2h.7M67.8 144.3h.7M68.6 133.6h.7M68.4 129h.7M71.2 146.8h.7M67.1 136.4h.7M70.8 134.7h.7M66.8 138.9h.7M71.9 137.8h.7M67.8 135.9h.7M66.1 137.1h.7M72.3 142.6h.7M69.7 139.4h.7M68.9 138h.7M68.7 138.1h.7M68.9 138.3h.7M71.3 137.3h.7M67.3 139.7h.7M69.4 135h.7M71 133.4h.7M71.7 140h.7M68.5 134.1h.7M69.7 133.1h.7M71.8 126.7h.7M70.2 135.7h.7M67.7 140.3h.7M68.9 139.5h.7M69 136h.7M70.9 141.9h.7M71.9 137.3h.7M72.8 135.8h.7M67.2 128.5h.7M67.1 133.3h.7M66.4 138.9h.7M70 137.2h.7M70.4 136.8h.7M69.4 135.9h.7M70 132h.7M72.4 144.6h.7M70 148.1h.7M68 141.6h.7M66.7 140.2h.7M68.4 142.1h.7M70.1 141.8h.7M71.1 139.8h.7M69.4 144.9h.7M70.6 139.6h.7M72.7 136.1h.7M73.3 142.5h.7M70.1 130.5h.7M72.3 135.9h.7M70.1 137.9h.7M71.8 140.3h.7M66.3 134.2h.7M70.6 138.2h.7M71.5 140h.7M73.1 133.9h.7M72.5 139.2h.7M70.5 140.6h.7M69.2 140.7h.7M69.5 140.8h.7M68.4 142.9h.7M66.9 134.3h.7M69.8 138.5h.7M68.3 135.5h.7M70.4 142.3h.7M72.5 135.1h.7M69.8 135.9h.7M66.9 135.2h.7M72.1 131h.7M75.5 142h.7M73.3 138.2h.7M65.4 139.4h.7M73 134.6h.7M72.4 140.9h.7M71.5 140.9h.7M71.1 140.4h.7M72.3 139.4h.7M71.2 139.4h.7M70.2 133.2h.7M66.4 132.6h.7M67.5 130.4h.7M71.3 135.8h.7M72.4 152.1h.7M71.4 135.2h.7M70.7 136.4h.7M70.5 147.2h.7M73.1 143.4h.7M70.5 145.8h.7M71.5 141.6h.7M67.6 134.5h.7M70.2 136.3h.7M68.9 127.9h.7M68.4 136.9h.7M70.5 132.3h.7M69.7 145.9h.7M70.2 128.1h.7M69.6 137.4h.7M72.4 138.3h.7M72.6 138.9h.7M72.2 143.8h.7M72.9 138.3h.7M71.2 156h.7M67.5 138.3h.7M70.9 134h.7M71.5 136.6h.7M71.5 138.3h.7M68.1 142.3h.7M73.9 141.8h.7M70.5 129.2h.7M70.6 137.2h.7M68.4 128.3h.7M70.8 142h.7M71.3 148.2h.7M66.2 139h.7M69.9 144.1h.7M69.9 132.8h.7M69.8 139.4h.7M68.5 133.6h.7M70.4 141.5h.7M69.5 139.7h.7M68.9 135.8h.7M70.3 142h.7M73 136.8h.7M70.8 146.7h.7M71.6 135.7h.7M70.7 130.6h.7M65.8 133.7h.7M68.5 131h.7M71.9 135.2h.7M70.1 137.7h.7M69.5 131.8h.7M73.7 128h.7M69.9 140.7h.7M69.5 136.9h.7M70.5 138.5h.7M69.3 142.5h.7M70.9 144.5h.7M70.1 127.9h.7M66.7 134.9h.7M70.8 129.6h.7M68.8 143.3h.7M70.6 134h.7M69.7 137.9h.7M69.1 135.9h.7M68.7 138.4h.7M73 144.3h.7M67.5 148.4h.7M69.7 130.7h.7M67 138.1h.7M70.4 134.3h.7M68.4 136.4h.7M70.4 140.6h.7M71 126.1h.7M68.8 138.6h.7M70.7 141.2h.7M67 144.8h.7M67.6 136.4h.7M69 135.1h.7M68.4 141.3h.7M71.5 139.1h.7M67.5 134.4h.7M69.8 139.3h.7M68.9 136.1h.7M75 137.7h.7M69.4 125.7h.7M68.4 156.6h.7M70.8 145.8h.7M70.8 151h.7M68.3 153.4h.7M68.6 149.2h.7M69.6 151.2h.7M68.8 151.5h.7M69.5 151.1h.7M70.1 147.9h.7M67.4 150.1h.7M71.4 151.6h.7M69.9 147.6h.7M67.8 145.6h.7M68.1 149h.7M67.1 149.9h.7M67.1 152.9h.7M69.5 143.7h.7M68.7 151.3h.7M70.1 153.3h.7M69 149.8h.7M69.2 152.4h.7M68.5 149.8h.7M69.8 149.1h.7M67.9 155.5h.7M70.3 146.9h.7M72.6 147.5h.7M68.2 149h.7M70.4 156.1h.7M71.7 152.5h.7M69.6 152.9h.7M68.3 147.7h.7M70.3 151.1h.7M69.9 146.5h.7M69.9 144.9h.7M71 150.4h.7M68.5 148.6h.7M73.8 162.3h.7M68.4 155.6h.7M65 154.7h.7M69.6 151.4h.7M68 145.4h.7M69.9 148.7h.7M70.3 154.4h.7M69.3 152.4h.7M69.8 151.3h.7M68.7 151.3h.7M70.2 150.7h.7M68.8 144.8h.7M67.9 156.3h.7M71.1 151.5h.7M70 149.8h.7M70.6 154h.7M69.1 151.6h.7M71 144.4h.7M68.1 148.2h.7M67.7 148.7h.7M68.2 148.9h.7M70.3 145.9h.7M69.7 155.6h.7M69.8 145.7h.7M68.6 154.8h.7M69.1 148h.7M70.7 147.7h.7M67.8 152.7h.7M69.6 147.9h.7M70.3 154.6h.7M71.2 150.8h.7M70.2 152.3h.7M67.2 156.7h.7M68.5 148.3h.7M68.3 146.7h.7M71.2 150.4h.7M68.6 143.4h.7M69.8 150.2h.7M67.9 150h.7M66.7 152.9h.7M67.7 152.3h.7M69.7 142.3h.7M67.8 147.9h.7M70.8 152.7h.7M70.5 156.8h.7M69.1 148.4h.7M66.6 146.5h.7M70.4 147.2h.7M68.2 154h.7M65.7 155.7h.7M71.5 143.6h.7M70.3 150.3h.7M70.9 149.1h.7M69.3 155.8h.7M68.6 152h.7M70.5 150h.7M70.9 152.4h.7M70.8 143.9h.7M67.9 151.5h.7M71.3 155.8h.7M69.6 147.5h.7M67.9 143h.7M68.8 152.6h.7M69.4 144.8h.7M69.4 150.6h.7M68.4 155.9h.7M70.2 154.6h.7M69.7 146.7h.7M71.2 154.6h.7M68.6 145.3h.7M70.8 148.2h.7M67.7 150.1h.7M70.4 147.5h.7M69.6 154.2h.7M70.7 144.5h.7M70.6 157.2h.7M70.9 150.1h.7M70.1 144.4h.7M68.6 148.4h.7M72.7 150.4h.7M68 156.8h.7M71.4 144.1h.7M69.2 143.9h.7M71.1 141.7h.7M72.4 146.4h.7M67.9 158.5h.7M70.4 151.7h.7M70.9 146.6h.7M70.9 149.3h.7M70.3 151.3h.7M71.7 145.5h.7M67.4 152.9h.7M73.2 152.5h.7M69.3 153h.7M67.7 150.7h.7M67 150.8h.7M70.6 156.9h.7M68.8 153.9h.7M71.6 146.4h.7M69.1 143.3h.7M68.2 152.1h.7M66.4 149.3h.7M70.6 155.9h.7M65.7 151.9h.7M68.6 141.6h.7M68 152.7h.7M69.5 153.1h.7M69.1 152.9h.7M68 146.7h.7M69.3 143.7h.7M71.4 149.4h.7M68 147.1h.7M68.1 150.9h.7M69 153.7h.7M67.8 150.1h.7M67.2 148.6h.7M71.6 149.9h.7M70.9 150.2h.7M67.9 147h.7M67.8 151.7h.7M69.9 161.6h.7M72.1 153.6h.7M68 150.8h.7M68.1 159.4h.7M68.4 154.9h.7M67.5 153.3h.7M67.7 148.6h.7M69.8 150.9h.7M69.4 150.1h.7M68.2 150h.7M69.4 146.8h.7M70.4 151.1h.7M68.4 155.4h.7M68.7 143.1h.7M71.5 148.9h.7M71.8 152.1h.7M68.2 154.7h.7M70.2 153.9h.7M69.6 156.4h.7M70.9 149.1h.7M67.2 150.2h.7M69.6 146.6h.7M69.2 156.1h.7M68.8 154.7h.7M68.1 146.7h.7M71 149.7h.7M69.9 154.3h.7M72 145.6h.7M70.4 151.3h.7M69.7 157.3h.7M69.2 148.1h.7M70.3 142.6h.7M70.1 147h.7M70 147.5h.7M70.3 149.4h.7M68.4 152.5h.7M70.7 144.2h.7M67.6 149.4h.7M68.9 155.5h.7M71.9 152.2h.7M71.2 149.1h.7M67.4 151.5h.7M66.8 156.7h.7M69.9 154.9h.7M68.5 144.2h.7M69.2 152.3h.7M69.2 148.4h.7M69.6 149.6h.7M71.7 145.3h.7M66.1 150h.7M69.9 144.5h.7M69.5 152.1h.7M70 151.5h.7M68.4 144.8h.7M71 149h.7M67.4 156.4h.7M70.7 139.6h.7M73.5 150.9h.7M67.1 154.1h.7M70 155.2h.7M69.5 144h.7M69.3 148.7h.7M70 149.7h.7M70.4 145.7h.7M68.7 148.4h.7M70.2 143.8h.7M69.5 159.6h.7M66.8 154.4h.7M69.7 154.2h.7M69.6 151.4h.7M70.1 152.1h.7M67.7 149.9h.7M72.3 155.8h.7M68.2 146.7h.7M69.3 154.5h.7M70.9 148.1h.7M65.9 150.2h.7M67 155h.7M71.8 153h.7M70.4 152.6h.7M72.3 154.6h.7M71.7 145.9h.7M68.7 150.4h.7M66.1 149.3h.7M69.5 150.1h.7M73.4 149.6h.7M69.2 149.9h.7M69 144.9h.7M71.2 150.5h.7M70.1 150.5h.7M68.3 144.2h.7M69.1 152.4h.7M69.3 153.2h.7M68.3 149.2h.7M69.7 150h.7M69.8 155.9h.7M68.9 150.9h.7M68.5 152.5h.7M69.9 147.5h.7M68 145.7h.7M69.1 151h.7M68.8 149.9h.7M69.7 159.4h.7M71.3 159.3h.7M69.7 151.2h.7M72.5 151.8h.7M70.5 148.4h.7M68.7 153.4h.7M68.6 147.8h.7M67.2 151.5h.7M69.4 152.5h.7M68.2 145.6h.7M71.2 150.5h.7M70.7 145.9h.7M67.5 140.6h.7M70 154.2h.7M71.5 157.2h.7M66.7 146.2h.7M68.7 147.3h.7M69.2 147.3h.7M67.3 150.2h.7M69.7 147.4h.7M69.6 145.3h.7M69 149.1h.7M68.8 150.1h.7M67.6 145.2h.7M68.2 153.2h.7M68 146.7h.7M72.5 149.4h.7M68.9 146.9h.7M71.8 152.4h.7M69.9 156.5h.7M67.7 143.9h.7M71.2 152h.7M68.7 153.4h.7M69.4 157.9h.7M67.6 151.7h.7M71 153.8h.7M68.9 148.8h.7M68.8 153h.7M68.9 149.8h.7M71.1 149.9h.7M69.9 149.9h.7M69.5 141.8h.7M68.1 161.7h.7M68.5 158.1h.7M68.4 156.8h.7M67 162h.7M69.3 157.3h.7M68.8 164h.7M70.8 161.7h.7M71 164.1h.7M68.8 163.3h.7M69.6 163.2h.7M67.7 161.7h.7M68.7 159h.7M69.4 160.2h.7M71.7 160.2h.7M69.7 164.3h.7M71.4 156.8h.7M69.8 155.5h.7M70.1 165.6h.7M68.7 159.3h.7M71 162h.7M70.5 158.7h.7M69 159h.7M71.5 154.8h.7M69.3 156.3h.7M69.7 159.5h.7M69.2 162.2h.7M70.5 154.8h.7M67.6 160h.7M67.8 162.8h.7M68.3 159.1h.7M68.8 162h.7M67.6 155.2h.7M69.7 165.4h.7M68.7 161.9h.7M69.8 160.8h.7M69.4 158.3h.7M69.1 164.8h.7M70 165.1h.7M68.4 160.8h.7M68.5 155.5h.7M70.6 159.3h.7M69.7 155.1h.7M69.1 159.9h.7M68.9 164.1h.7M70 160.8h.7M69.7 158.7h.7M68.4 159.3h.7M68 159.7h.7M69.2 164.5h.7M68.7 160.8h.7M69.4 158.1h.7M69.3 153.8h.7M70.9 158.2h.7M69.4 153.6h.7M70.2 155.6h.7M71.2 156.5h.7M68.4 162.8h.7M71.1 153h.7M70 154.7h.7M68.8 162.9h.7M68.4 161h.7M69.7 162.5h.7M68.9 160.1h.7M68.6 161.8h.7M70.5 156.6h.7M67.8 160.5h.7M72.1 161.2h.7M69.6 160.2h.7M67.1 157.7h.7M71.4 152.5h.7M71.8 155.9h.7M71.4 159.8h.7M70.2 158.3h.7M68.8 161.1h.7M65.2 162.4h.7M69 156.3h.7M69 162.8h.7M68.4 161.7h.7M67.6 160.7h.7M67.8 163.2h.7M68 162.6h.7M66.7 161h.7M70.9 157.3h.7M69.5 157.1h.7M70 163.2h.7M70.9 165.3h.7M71.1 157.6h.7M69.5 162.3h.7M69.6 155.4h.7M69.5 150.6h.7M71.8 159.7h.7M72.4 156.4h.7M70.1 163.3h.7M67.5 159.1h.7M70 162.8h.7M69.9 150.5h.7M66.2 161.7h.7M71.5 154.6h.7M69.9 163.8h.7M68.1 154.4h.7M69.7 158.7h.7M69.3 159.6h.7M69.2 161.5h.7M68.7 160.2h.7M68.6 157.1h.7M69.9 157.2h.7M70.1 160.2h.7M70.8 162.6h.7M66.7 160.2h.7M70.3 160.7h.7M69.4 164.4h.7M70.3 155.3h.7M69.5 164.1h.7M69.6 155.5h.7M70.4 162.6h.7M70.9 161h.7M69.5 163.5h.7M69.9 161.2h.7M70.4 163.3h.7M66.4 163.8h.7M69.2 157.4h.7M70.6 163.9h.7M69.9 158h.7M69.5 156.8h.7M72.8 157.8h.7M68.2 158.3h.7M66.4 159.4h.7M67.6 160.9h.7M69.1 160.4h.7M69.4 158.6h.7M69.5 160.1h.7M68.4 159.1h.7M68.6 155.5h.7M69.3 153.3h.7M70.1 160.2h.7M69.6 164.7h.7M70.7 158.7h.7M69.9 164.8h.7M69.2 161.8h.7M69.9 156.4h.7M69.8 158.9h.7M69 162h.7M70.3 156.9h.7M69 159.6h.7M68.1 161.7h.7M69.1 157.7h.7M70.6 160h.7M67.8 160h.7M69.1 161.4h.7M72.4 162.4h.7M71.3 159.7h.7M70 162.2h.7M69.2 161.3h.7M68.8 162.9h.7M64.4 155.1h.7M69.2 161.7h.7M69.6 154.2h.7M70 157h.7M69.7 158.8h.7M69 154.6h.7M67.6 158.2h.7M68 161.3h.7M67.5 161.2h.7M70.1 157.5h.7M68.1 159h.7M70.4 165.6h.7M72.3 160.7h.7M70.2 161.1h.7M69.4 156.3h.7M68.9 164.5h.7M71.2 158.1h.7M69.4 162h.7M69.1 153.5h.7M69.8 156.7h.7M69 158h.7M71.4 153h.7M67.3 158.4h.7M68.5 163.3h.7M71.5 157.6h.7M70.1 159.5h.7M66.7 164.8h.7M71.7 157.2h.7M70.2 158.4h.7M69.3 158.6h.7M69.2 160.5h.7M68.6 161.4h.7M67.6 163.4h.7M68.1 153.3h.7M70.5 159h.7M68.7 163.8h.7M70 154.9h.7M68.7 157.8h.7M70 162.4h.7M69.6 152h.7M68.7 160.2h.7M68.4 159.6h.7M68.2 156.1h.7M71 153h.7M70.8 156h.7M69 152.8h.7M70.3 156.6h.7M72.7 156.8h.7M69.7 162.8h.7M68.1 157.2h.7M67.9 162.4h.7M69.8 164.2h.7M67.5 156.8h.7M69.2 158.6h.7M69.8 164.6h.7M69.6 157.3h.7M69.3 157.6h.7M69.1 160.1h.7M67.7 161.2h.7M70.4 162.9h.7M67.8 160.7h.7M70.6 158.6h.7M70.3 158.4h.7M69.4 158.1h.7M67.4 157.2h.7M69.6 159.3h.7M69.4 158.2h.7M70.6 159.7h.7M69.9 158.5h.7M71.1 159.9h.7M70 154.4h.7M68.5 161.6h.7M67.6 154.8h.7M69.2 154.4h.7M70.8 162h.7M69 164.9h.7M68.5 155.9h.7M70.6 160.4h.7M69.1 164.2h.7M69.2 162.8h.7M69.7 164.7h.7M70.1 158.6h.7M71.4 159h.7M71.7 155.5h.7M69.5 151.9h.7M70.1 165.4h.7M68.9 162.1h.7M69.1 165.8h.7M69.8 161.7h.7M70.9 154.6h.7M70.3 160.8h.7M71.1 160.4h.7M70.2 160.1h.7M68.1 158.4h.7M69.1 155.3h.7M69.3 158.6h.7M71.8 159.4h.7M69.6 160.7h.7M70.3 154.3h.7M68.3 157h.7M71 161.5h.7M68.3 163.1h.7M69 161.6h.7M68.1 160h.7M72.3 152.7h.7M68.7 161.4h.7M69.1 162h.7M70.9 156.1h.7M68.5 165.3h.7M72 150.3h.7M70.1 164.1h.7M68.5 157.1h.7M67.9 159.6h.7M67.9 163h.7M68.5 162.3h.7M67.3 163.7h.7M70.3 163.9h.7M70.7 160.5h.7M71.5 159h.7M68.8 160.3h.7M69.7 161h.7M69.1 164.2h.7M72.3 158.9h.7M67.4 158.6h.7M67.5 155.6h.7M68 164.3h.7M69.6 163h.7M69.3 164.2h.7M68.9 165.3h.7M70.6 161.2h.7M67.4 156.2h.7M69.7 156.4h.7M69.2 159.7h.7M71.2 157.8h.7M69.6 158.6h.7M68.4 162h.7M70.7 155h.7M69.6 162.3h.7M68 158.8h.7M69.8 160h.7M71.2 157h.7M69.1 162.3h.7M69.3 159.4h.7M69.2 161.9h.7M70.4 156.4h.7M68.2 156.1h.7M70 153.4h.7M72.7 158.3h.7M69.4 162.2h.7M69.1 159.4h.7M72.2 153h.7M69.7 157.6h.7M68.9 160.1h.7M66.9 162.7h.7M69.7 162.5h.7M68.6 163.1h.7M68.8 163.3h.7M71.2 162.7h.7M67.5 160.6h.7M69.7 155.6h.7M67.4 165.3h.7M68.1 161.9h.7M69 159.8h.7M68.8 160.4h.7M71.6 157.1h.7M70.1 162.2h.7M68.5 156.3h.7M68.2 162.5h.7M69.6 164.2h.7M69.9 160.8h.7M69.4 161.2h.7M69.5 162.9h.7M68.3 164.4h.7M71.6 160h.7M70.2 156h.7M69.5 155h.7M70.7 160.5h.7M70.9 164.6h.7M68.4 163.4h.7M69.3 162.4h.7M68.6 162.7h.7M70.2 165.8h.7M69.2 160.6h.7M70.1 159.7h.7M72.2 152.1h.7M67.1 158.5h.7M70.3 160.4h.7M70 154.7h.7M70.2 162.4h.7M71.6 163.4h.7M68.6 157.6h.7M67.9 158.6h.7M69.3 165h.7M71.6 160.6h.7M70.2 159.7h.7M67.7 162.4h.7M68.4 154.4h.7M67.9 165.4h.7M67.6 160.1h.7M70.1 158.9h.7M68.1 160.4h.7M71.7 162.8h.7M69.7 162.5h.7M71 165.3h.7M69 157.1h.7M68.1 160.6h.7M69 160.4h.7M68.5 165.7h.7M68.3 157.4h.7M67.8 156.3h.7M67.2 157.3h.7M69.1 163h.7M67 162h.7M69.3 160.4h.7M66.5 162.2h.7M70.3 164.6h.7M69 165h.7M69.5 157h.7M70.1 164h.7M69.7 160.3h.7M69.1 162.9h.7M67 161.5h.7M67.7 158.4h.7M69.7 165h.7M69.4 156.9h.7M73.1 161.6h.7M65.8 160h.7M68.4 158.1h.7M69.5 155.4h.7M70.6 160.7h.7M68.9 161.1h.7M67.8 161.1h.7M69.9 164.8h.7M72.1 158h.7M69.9 157.4h.7M69.6 164.7h.7M70.3 159.3h.7M71.8 163.7h.7M71.1 160.7h.7M71.2 159.8h.7M70.6 160.5h.7M69.4 154.6h.7M70.7 162.5h.7M68.6 160.6h.7M70.2 162.7h.7M71 160.9h.7M69.7 161.4h.7M68.5 158.4h.7M69.1 154.5h.7M70.8 156h.7M71.5 163.9h.7M72.2 158.2h.7M69 158.7h.7M70.5 157.1h.7M69 151.8h.7M69.5 161.2h.7M72.1 157.3h.7M70.7 162.5h.7M70.6 156.3h.7M64.7 158.6h.7M70.7 161h.7M68.5 158.9h.7M71.5 154.2h.7M66 161.4h.7M70.4 160.2h.7M68.6 153.5h.7M70.1 158.1h.7M68.9 161.6h.7M66.6 160.1h.7M69.2 164.6h.7M68.1 154.4h.7M70.6 159.1h.7M67.6 164.4h.7M70.1 153.9h.7M69.6 155.3h.7M68.3 165.6h.7M71.5 163h.7M67.3 163.5h.7M68.3 158.5h.7M68.7 164.5h.7M70.1 162.6h.7M68.8 158.4h.7M70.9 158.1h.7M69 162.5h.7M69.2 164.1h.7M70.2 162.8h.7M72.6 158.3h.7M72.3 155.5h.7M68.3 150.9h.7M68.5 157.3h.7M70.4 165.2h.7M72.6 158.4h.7M70.9 159.7h.7M66.9 144.5h.7M68.9 153h.7M70.6 156.8h.7M70.3 157.8h.7M70.1 156.7h.7M69.9 155.1h.7M68.3 160.9h.7M70.5 155.6h.7M68.1 154.2h.7M71.9 161.5h.7M69.9 158.7h.7M72.1 162.6h.7M69.3 165h.7M70.2 159.3h.7M68.9 160.4h.7M71.3 154.9h.7M67.1 163h.7M70.2 154.6h.7M70.6 161h.7M68 154.2h.7M67.3 160.6h.7M67.6 161.7h.7M69.2 162.8h.7M70.6 156.8h.7M68.9 163.2h.7M68.5 164.3h.7M70.2 163.8h.7M68.6 163.4h.7M69.1 161.2h.7M70.3 158.2h.7M69.4 151.2h.7M68.5 162.8h.7M67.9 152.2h.7M67.4 159.2h.7M70.3 162.4h.7M67.4 161.9h.7M67.7 164.6h.7M70 157.9h.7M68.8 160.1h.7M68.6 164.9h.7M69.8 158.2h.7M70 155h.7M69.6 159.1h.7M68.6 160.1h.7M69.7 154.7h.7M70.5 158.1h.7M68.3 164.4h.7M68.6 165.2h.7M70.6 161.7h.7M68.3 164.4h.7M69.9 156.2h.7M70.2 159.7h.7M69.3 156.5h.7M69.7 163.7h.7M68.3 163.5h.7M66.9 160.8h.7M69.8 156.6h.7M69.6 155.3h.7M72 161.9h.7M70.9 156.7h.7M66.3 160h.7M71.2 159.7h.7M71 161.9h.7M69.9 164.4h.7M68.6 158.7h.7M70.9 162.1h.7M68.7 156.2h.7M71.4 147.8h.7M70.6 159.8h.7M67.7 161.9h.7M69.8 150.6h.7M68.2 163.3h.7M68.8 160.1h.7M69.9 159.7h.7M68.5 164.2h.7M68.5 161.9h.7M70 163.2h.7M70.5 161.4h.7M72.1 163.4h.7M68.4 156.8h.7M68.5 165.5h.7M70 158.1h.7M68.1 160h.7M70.4 160.1h.7M70.4 161h.7M71.2 158.5h.7M69.2 156h.7M69 156.5h.7M67.4 159.5h.7M70.3 151.6h.7M67.7 154.9h.7M69.9 162.5h.7M69.8 159.6h.7M68.4 161.1h.7M68.3 159.4h.7M69.9 159.4h.7M71 151.9h.7M67.3 164.2h.7M68.7 158.5h.7M68.7 160.1h.7M69.2 161.7h.7M66.6 159.9h.7M68.2 161.2h.7M68.1 160.6h.7M69.8 160.2h.7M69.7 162.9h.7M68 160.2h.7M70.8 163.9h.7M70.7 157.1h.7M68.5 164.1h.7M69.4 161.5h.7M68.9 163.9h.7M69.6 156.5h.7M69.9 159h.7M69.1 162.5h.7M69.6 158.1h.7M67.9 158.6h.7M69.2 155.7h.7M68.6 160.6h.7M67.8 159.1h.7M69.7 161h.7M67.2 160.5h.7M68.1 164.6h.7M69.9 155.8h.7M70.7 158.5h.7M69.3 160.7h.7M67.7 164.9h.7M69.6 156.4h.7M67.6 162.1h.7M71 161.9h.7M69.8 158.7h.7M70.8 162.4h.7M68.4 158h.7M66.6 164.8h.7M73.3 159.9h.7M70 163.3h.7M68.1 157.1h.7M71.5 163.9h.7M70.4 159.9h.7M69.3 160.9h.7M70 158h.7M68.7 156.7h.7M68.1 165.5h.7M68.5 157.4h.7M70.8 159.7h.7M69.5 153.1h.7M71.9 149.3h.7M72.8 141.9h.7M68.5 152.9h.7M71 133.3h.7M69 153h.7M69.3 161.9h.7M66.3 149h.7M67.9 134.5h.7M69.1 146.9h.7M68.7 142.3h.7M71.4 139h.7M68.3 136.1h.7M72 135.5h.7M73.2 140h.7M69.5 160.6h.7M67.4 158.1h.7M66.9 143.7h.7M70.8 150.2h.7M70.3 150h.7M72.9 134.4h.7M68.2 154.5h.7M66.6 141.8h.7M74.7 158.3h.7M70.7 148.1h.7M69.3 140.3h.7M67.8 139.5h.7M67 148.5h.7M70.5 139.9h.7M69.9 136.7h.7M70.4 144.8h.7M69.5 149h.7M72.3 149.2h.7M68.3 148.7h.7M70.4 151.8h.7M71.8 140.8h.7M67.1 152.5h.7M67.3 151.1h.7M75.3 157.6h.7M66.6 140.8h.7M70.4 145.2h.7M71.1 149.5h.7M70.3 152h.7M66.4 156.7h.7M66.7 140.3h.7M64.6 147.5h.7M70.4 144.5h.7M67.1 129.9h.7M70.8 138.2h.7M68.8 149.4h.7M69.5 150.8h.7M73.1 153.2h.7M67.5 147.2h.7M69.1 140.6h.7M71 144.4h.7M70.1 152.7h.7M74 142.6h.7M71.1 164.9h.7M72.9 150h.7M68.1 148.8h.7M68.3 144.1h.7M66 145.2h.7M65.4 155.5h.7M70.7 144.2h.7M69.7 148.5h.7M69.1 149.9h.7M69.2 151.2h.7M67.9 148.1h.7M73.1 141h.7M67.9 155.2h.7M70.3 148.8h.7M70 144.2h.7M68.5 151.7h.7M70 152.8h.7M70.6 165.7h.7M69.8 158.9h.7M69.9 165.8h.7M71.7 141.5h.7M72.9 143h.7M71.7 141.5h.7M70.4 148.9h.7M72.6 130.2h.7M65.6 155.6h.7M71.2 143.5h.7M69.8 133.5h.7M68.8 142.3h.7M71.5 149.7h.7M69.3 157h.7M68.3 153.8h.7M69.1 151.4h.7M69 159h.7M68.7 164h.7M71.3 140.9h.7M68.7 158.5h.7M72.7 137.9h.7M70 152.7h.7M74.6 153.1h.7M69.2 155.2h.7M69.8 140.7h.7M69.5 145.9h.7M69.2 148.4h.7M70.4 141.4h.7M71 135h.7M71 151.7h.7M70.5 135.7h.7M68.6 149.4h.7M70.6 153.8h.7M66.4 147.9h.7M71.9 138.4h.7M67.1 144h.7M69.1 145.7h.7M72.3 150.1h.7M65.6 154.2h.7M69.8 154.7h.7M69.6 159h.7M69.9 143.9h.7M67.1 155.3h.7M69.3 133.7h.7M71.4 158.3h.7M65.2 152.4h.7M71 161.8h.7M72.2 141.8h.7M70.6 153.8h.7M66.5 159.5h.7M70.7 154.7h.7M67.8 154.6h.7M69.5 145.4h.7M69.7 150.6h.7M66.4 147.9h.7M70.4 134.8h.7M71 147.9h.7M67.4 138.9h.7M67 155h.7M67.8 149.4h.7M68.7 155.2h.7M72.3 155.3h.7M71 156.5h.7M73.2 140.9h.7M70.2 142.7h.7M69.7 146.1h.7M69.9 153.7h.7M66.9 126.9h.7M70.2 156.5h.7M68.8 159.8h.7M74.4 148.5h.7M69.2 152.1h.7M71.2 135.9h.7M70.7 131.4h.7M67.4 149.8h.7M70.3 138.3h.7M69.7 158.4h.7M66.2 152.5h.7M72.3 137.1h.7M72.1 151.6h.7M69 148.2h.7M69.5 148.3h.7M69.2 142h.7M71.5 161.8h.7M69.2 159.4h.7" stroke="#000" stroke-width="0.7" fill="none" opacity="0.8" filter="url(#b)"/>
<g stroke="#3a3a3a" stroke-width="0.75" fill="none">
<path d="M34.3 166.5V118.2H86.2V166.5"/>
<path d="M58.5 118.2V166.5M34.3 154.9H86.2"/>
</g>
<path d="M34.3 166.5H86.2" stroke="#3a3a3a" stroke-width="0.75"/>
<path d="M35.3 118.2V166.5M34.3 165.5H86.2" stroke="#666" stroke-width="1.2" stroke-dasharray="0.5 1.6" fill="none" opacity="0.55"/>
<text transform="translate(31 154.4) rotate(-90)" font-size="10" textLength="24.5" lengthAdjust="spacingAndGlyphs">CD56</text>
<text x="49.8" y="176.6" font-size="10" textLength="20" lengthAdjust="spacingAndGlyphs">CD3</text>
<path d="M135.2 131.1h.7M142.7 131.1h.7M132.8 131.5h.7M132.4 128.8h.7M136.4 132.8h.7M134.1 130.4h.7M127.4 129.6h.7M126.3 128.9h.7M134.2 130.4h.7M133.3 137.8h.7M134.8 135.4h.7M132.1 130.1h.7M128.9 137.3h.7M136.5 131.2h.7M134.5 132.4h.7M137.2 133.5h.7M132.8 127.2h.7M125.7 122.1h.7M132.3 136.2h.7M130.9 130.5h.7M134.9 137.9h.7M126 130.9h.7M131.6 134.7h.7M131.9 124.5h.7M125.9 124.7h.7M131.8 127.2h.7M128.9 139.4h.7M128.5 130.2h.7M136.7 131.4h.7M126.9 131.5h.7M133 136.8h.7M130.6 125.3h.7M131.8 126.9h.7M133.6 134h.7M132.8 131.2h.7M129.3 125.8h.7M133.9 137h.7M135.5 141.1h.7M130 122.9h.7M132.9 132.4h.7M137.6 163.8h.7M146.1 164.9h.7M111.5 153.9h.7M153.3 157.9h.7M151.6 153.7h.7M111.8 160h.7M140.9 161.7h.7M142.2 166h.7M150.3 160.1h.7M119.9 155.7h.7M107.4 154.3h.7M121.3 153h.7M144.2 147.3h.7M124.1 153.1h.7M120.1 159.8h.7M132.5 163.9h.7M141.9 161.6h.7M148.5 165h.7M133.2 150.8h.7M114.8 158.7h.7M135.4 149.9h.7M153.5 157.6h.7M103.9 151.4h.7M135.4 151.5h.7M133.8 157.3h.7M151.6 146.2h.7M104.4 151.6h.7M144.6 153.5h.7M124 163.2h.7M152.3 162.5h.7M147 144.7h.7M125.1 137.7h.7M108 139h.7M103.9 141.4h.7M123.7 119.8h.7M131.3 136.7h.7M133.1 160.6h.7M148.5 136.6h.7M132 164.6h.7M152.6 131.9h.7M117 126.7h.7M151.3 143.7h.7" stroke="#000" stroke-width="0.7" fill="none" opacity="0.5" filter="url(#b)"/>
<clipPath id="cp4"><rect x="102.8" y="118.2" width="51.5" height="48.7"/></clipPath>
<g clip-path="url(#cp4)"><ellipse cx="114" cy="157.6" rx="3.6" ry="4.4" fill="#000" opacity="0.65" transform="rotate(0 114 157.6)" filter="url(#c)"/><ellipse cx="132.5" cy="158.8" rx="4.3" ry="5.6" fill="#000" opacity="0.75" transform="rotate(0 132.5 158.8)" filter="url(#c)"/><ellipse cx="132.8" cy="132.3" rx="2.4" ry="1.1" fill="#000" opacity="0.5" transform="rotate(-15 132.8 132.3)" filter="url(#c)"/></g>
<path d="M114.8 163.6h.7M116 153.2h.7M115.1 159h.7M114.7 155.8h.7M117.5 158.6h.7M112.4 152.1h.7M113.2 153.6h.7M110.1 163.8h.7M113.7 161.6h.7M116.7 160.7h.7M112.7 154.3h.7M113.4 158.7h.7M113.5 157.2h.7M114.2 153.4h.7M116.6 154.3h.7M114.2 155.3h.7M117.3 156.4h.7M111.5 157h.7M116.1 154.1h.7M110.5 156.4h.7M115.8 148.3h.7M116.2 165.9h.7M113.4 161.4h.7M113.5 151.9h.7M112.7 160.3h.7M111 157.2h.7M112.1 159.6h.7M120.2 158.5h.7M110.5 163.9h.7M113.1 156.8h.7M115.1 160.8h.7M114.4 159.4h.7M114.3 154.1h.7M115.9 161.2h.7M111.8 152.3h.7M112.3 158.9h.7M117.5 159h.7M105.4 156.1h.7M114 159h.7M109.9 157h.7M114.2 160.6h.7M116 163.8h.7M112.1 156.8h.7M112.7 159.9h.7M119 158.8h.7M114.3 155.1h.7M110.5 164.3h.7M113.6 163.1h.7M116 156.5h.7M114.5 155.1h.7M115.5 157.7h.7M115.9 162.5h.7M112.3 161h.7M115 156.4h.7M114.6 162.5h.7M114.3 161.6h.7M114.8 162.5h.7M113.5 157.1h.7M115.5 150.4h.7M112.5 163.5h.7M111.9 164.6h.7M118.1 156.5h.7M111.9 159.6h.7M116.2 164.2h.7M117.9 155.8h.7M116.1 156.5h.7M116.7 159.8h.7M117.6 157.9h.7M116 153.9h.7M111.3 160h.7M114.1 161.2h.7M119.9 156.1h.7M110.8 154.6h.7M112.3 162.2h.7M114.9 157.2h.7M115.6 157.6h.7M114.6 158.2h.7M110.3 161h.7M114.4 165.8h.7M114.2 156.2h.7M114.4 155.7h.7M113.8 156.9h.7M114.8 155h.7M113.6 156.8h.7M111.3 158h.7M115.7 160.7h.7M114.7 157.8h.7M116.4 157.2h.7M115.7 152.3h.7M110.8 155.7h.7M116.9 157.3h.7M115.1 154.4h.7M118.2 164.2h.7M113.9 155.9h.7M114.6 157.3h.7M112.7 149.7h.7M114.5 150.6h.7M112.6 152.9h.7M119.2 153.8h.7M112.9 159.5h.7M113.1 159h.7M116.4 156h.7M115.3 157.7h.7M110.5 159.1h.7M111.1 161.7h.7M113.9 158.8h.7M116.6 155.3h.7M111.8 163.1h.7M115.8 159.6h.7M108.7 158.2h.7M111.4 156.1h.7M109.6 152.5h.7M112.8 159.5h.7M112.6 157.5h.7M114.1 162.8h.7M112.4 158.6h.7M121.2 158h.7M116.1 154h.7M111.1 156.6h.7M122.1 156h.7M117.7 156.4h.7M110.6 151.7h.7M114.4 161.8h.7M111.8 156.7h.7M111 155.6h.7M116.7 156.3h.7M111.1 160.2h.7M114.7 158h.7M119.5 159.2h.7M117.1 153.8h.7M113.8 162.5h.7M116 161.3h.7M110 157.2h.7M118.5 163.2h.7M105.7 151.6h.7M117.6 160.9h.7M117.5 148.4h.7M114.2 160.9h.7M117.3 154.8h.7M116.8 160.9h.7M112.6 163.6h.7M117.4 161.2h.7M112.7 159.1h.7M113.9 163.9h.7M120.6 155.1h.7M119.4 159.6h.7M112.1 155.6h.7M118.2 159.2h.7M112.2 157.4h.7M112.9 157.7h.7M118.9 155.7h.7M113.1 147.6h.7M115.4 161.4h.7M119.6 156h.7M113.2 156.7h.7M110.6 158.1h.7M111.8 157.3h.7M114.4 160.7h.7M114.9 159.9h.7M115.4 157.8h.7M116.6 158.6h.7M110.3 156.3h.7M118.1 152.5h.7M118.8 158.5h.7M114.7 162.4h.7M114.6 156.4h.7M108 155.9h.7M110.8 160.5h.7M114.3 154.8h.7M117.2 161.1h.7M120.1 159h.7M110.6 158.4h.7M116.1 161.1h.7M110.3 159.7h.7M115.9 159.4h.7M109.5 156.5h.7M113.7 157.3h.7M116.5 156.7h.7M108.9 150.7h.7M115.3 155.3h.7M113.9 161.9h.7M112.6 157.9h.7M110 153.9h.7M115.6 162.1h.7M112.2 157.4h.7M114.9 156.5h.7M114.2 156.7h.7M115.7 156.3h.7M112.7 153.3h.7M111.9 152.9h.7M113.6 161.5h.7M110.4 155.1h.7M111.9 159.6h.7M113.2 156.9h.7M111.4 157.1h.7M113 155.3h.7M117.9 159.7h.7M113.6 159.1h.7M120.4 160.1h.7M112.5 157.9h.7M117.2 159.6h.7M113.2 158.4h.7M110.9 156.9h.7M112.9 157.2h.7M117.8 158.1h.7M117.2 158h.7M109.8 162.2h.7M112.5 157.6h.7M117.1 162.8h.7M114.4 162.4h.7M112.6 160.2h.7M111.5 161.4h.7M112.4 160.2h.7M110.7 162.9h.7M118.5 157.1h.7M114.2 154.7h.7M113.5 153.1h.7M116 157.8h.7M117.2 158h.7M113.4 155.2h.7M115.8 157.6h.7M110.7 152.9h.7M116.7 157.6h.7M113.8 156.1h.7M112.5 157.9h.7M114.5 153.9h.7M120.9 161.1h.7M108.7 158.2h.7M117.1 155.8h.7M110.2 159.8h.7M112.3 158h.7M118.6 158h.7M117.7 155.3h.7M108.9 156.7h.7M112.9 160.3h.7M115.2 151.3h.7M110.9 156.5h.7M112 155.8h.7M113.1 158.5h.7M109.8 154.8h.7M111.5 162.1h.7M113.5 153h.7M115.4 161.1h.7M109.5 153.8h.7M115.2 158.2h.7M115.7 163.4h.7M115.8 161.4h.7M112.7 162.8h.7M112.1 159.1h.7M108.4 156.6h.7M116.2 154.9h.7M112.7 150.6h.7M113 153.5h.7M114.2 156.3h.7M112.1 156.8h.7M112.9 158h.7M113.3 161.8h.7M116.9 149.5h.7M117.7 157.2h.7M115 154.9h.7M115.7 159.9h.7M112.4 154.2h.7M115.4 159.5h.7M111.5 150.7h.7M110.9 159.3h.7M117.5 154.7h.7M112.4 154.3h.7M115 155.3h.7M118.6 159.9h.7M113.5 156.6h.7M116.8 156.6h.7M112.9 158.3h.7M116.9 162.8h.7M113.1 153.8h.7M111.5 157.4h.7M115.8 149.1h.7M115.8 159.3h.7M114.6 153h.7M114.3 156.2h.7M111.4 160h.7M117.5 158.6h.7M115.6 161.3h.7M114.1 156.5h.7M118.1 155.8h.7M113.2 159.1h.7M112.9 154.7h.7M117 157.9h.7M112.1 156h.7M115.7 160.7h.7M114.6 161.8h.7M114 163.3h.7M116.5 154.1h.7M113.8 159h.7M114 154.6h.7M115.4 157.7h.7M110 153.6h.7M113 161h.7M114 158.5h.7M116.7 157.2h.7M114.1 157.7h.7M116.5 155.7h.7M115.1 155.5h.7M114.3 161.6h.7M111.9 159.5h.7M114.3 158.7h.7M115.5 158.2h.7M115.4 164h.7M112.2 154.3h.7M116.1 159.2h.7M119.5 155.8h.7M116 156.1h.7M112.8 155.9h.7M111.9 154.8h.7M113.2 157.4h.7M114.2 160.6h.7M111.7 157.6h.7M111.8 160.7h.7M111.7 156.7h.7M112 161.5h.7M110.9 154.1h.7M113.1 156.7h.7M111.6 161.7h.7M112.6 151h.7M113.6 153.5h.7M112.4 156.3h.7M111.7 156.5h.7M113 160h.7M120.8 155.6h.7M112.9 161.7h.7M118.6 160.5h.7M113.4 164.4h.7M114.3 161.9h.7M112.7 153.8h.7M117.7 155h.7M111.3 158.4h.7M111.6 160.2h.7M114.3 157.2h.7M112.6 162.8h.7M117.8 161.7h.7M110.6 163.4h.7M114.4 163.6h.7M115.5 155.7h.7M109.7 155.7h.7M117.3 156.4h.7M118.5 153.7h.7M115.8 157.5h.7M110.4 159.2h.7M113 157h.7M108.6 154.6h.7M112.3 157.4h.7M111.9 164.7h.7M113 158.6h.7M113.2 162.1h.7M115.6 161.2h.7M110 158.5h.7M113.7 160.1h.7M112.3 158.4h.7M111.5 156.7h.7M115 156.3h.7M111.9 157.5h.7M114.9 159.3h.7M111 156.5h.7M111 154.6h.7M120.4 162h.7M115.9 157h.7M116.3 163.1h.7M117.3 160.3h.7M111.5 165.9h.7M116.1 160.8h.7M115 159.2h.7M113 152.3h.7M115.3 160.2h.7M114 160.5h.7M113.7 157.7h.7M115.7 152.3h.7M117.8 156.6h.7M115.5 160h.7M118.3 163.6h.7M110.6 154.7h.7M114.5 152.5h.7M115.7 157.5h.7M112 160.7h.7M111.6 155.5h.7M114 160.8h.7M113.5 156.8h.7M114.5 156.7h.7M109.1 161h.7M115.3 161.6h.7M114.3 159.5h.7M109.6 153.4h.7M108.9 161.9h.7M112.2 162.4h.7M115.1 156.4h.7M113.7 155.3h.7M112.8 159.1h.7M115.8 156.3h.7M109.8 161.7h.7M111 160.3h.7M109.9 154.9h.7M108.7 160.1h.7M118.9 158.4h.7M108.5 157.2h.7M114.6 159.2h.7M114.4 154.6h.7M113.1 164.2h.7M112.5 156.6h.7M110.8 155.9h.7M117.1 159.2h.7M112.6 156.7h.7M116.1 156h.7M111.8 156.9h.7M107.1 161.7h.7M111.8 160.5h.7M113.9 161.3h.7M112.5 166.2h.7M115.4 157.2h.7M114.7 151h.7M110.9 151.1h.7M113.2 165.2h.7M114.8 153.1h.7M109.8 159.2h.7M115.6 157.3h.7M117.8 158.8h.7M119.3 160.8h.7M119.4 149.1h.7M115.9 160.5h.7M117.9 159.9h.7M115 159h.7M114.4 159.8h.7M118.2 152.6h.7M112.7 153.1h.7M112.3 158.9h.7M114.4 159.2h.7M115.9 159.4h.7M113 157.5h.7M111.1 156.5h.7M113.6 159.2h.7M109.7 161.6h.7M113.7 152.8h.7M113.5 159.9h.7M114.1 156.6h.7M111.5 158.7h.7M114.3 158.9h.7M112.9 162h.7M109 157.9h.7M109.5 151.5h.7M114.4 160.7h.7M113.1 159.4h.7M113.4 161.8h.7M112.3 159.7h.7M114.7 152.7h.7M117 156h.7M110.8 155.8h.7M116.1 156.6h.7M115.9 154.8h.7M114.5 152.2h.7M113.1 162.2h.7M112.5 158.5h.7M109 163.4h.7M113.3 159.4h.7M112.8 154.5h.7M112.9 156.8h.7M111.1 157.4h.7M111.2 156.3h.7M106.3 154.7h.7M114.7 158.7h.7M113.2 159.3h.7M118.4 159.1h.7M114.1 157.6h.7M114.7 160h.7M107.9 164.9h.7M116.4 159.5h.7M112.2 157.6h.7M111.8 162.3h.7M112 152.6h.7M113.2 155.1h.7M114.3 158.4h.7M111.6 152.9h.7M112.9 153.7h.7M113.3 158.5h.7M112.8 158.5h.7M112.7 163.3h.7M109.1 154.4h.7M116.8 153.9h.7M115.4 157.2h.7M113.8 153.3h.7M112.7 157.4h.7M108.1 158h.7M112.6 150.5h.7M114.2 156.8h.7M109.8 161.7h.7M113.4 154.2h.7M111.4 158.9h.7M112.3 160.2h.7M110.5 158.8h.7M114.9 159.6h.7M111.6 154.8h.7M110.7 158.2h.7M113 161.8h.7M112.9 162.2h.7M113 161.2h.7M116.3 158.9h.7M110.4 159.3h.7M114.1 156.9h.7M113.1 160.2h.7M108.3 159.7h.7M117.9 155.7h.7M116.9 156.4h.7M112.9 156.8h.7M113.6 155.4h.7M112.2 157.2h.7M111.3 157.7h.7M116.4 155.2h.7M114.2 155.4h.7M110.7 157.8h.7M113 161.1h.7M115.5 158.2h.7M112 162.3h.7M110.3 155.4h.7M115.6 159.2h.7M115.3 157.2h.7M115.6 161.7h.7M108.7 159.6h.7M116.2 154.5h.7M111.2 159.1h.7M115.3 157.8h.7M109.4 158.6h.7M113.4 156.7h.7M116.4 151h.7M114 155.9h.7M115.2 156.8h.7M118.2 158.5h.7M112.3 152.6h.7M113 157.7h.7M117.8 159.1h.7M114.2 154.9h.7M114.2 154.7h.7M110 159.3h.7M112.5 153.5h.7M116.7 161.8h.7M114.9 152.5h.7M111.5 154.7h.7M116.1 157.5h.7M111.5 153.4h.7M111.8 158.4h.7M113.1 159.5h.7M115.1 154.2h.7M115.9 157.9h.7M117.9 157.4h.7M112.8 157.5h.7M116.9 159.5h.7M116.8 161.2h.7M114.6 165.4h.7M113.5 157.1h.7M116.6 154.1h.7M114.6 161.1h.7M111.4 151.7h.7M110 161.5h.7M120.2 155h.7M110.3 153.8h.7M117.8 160.3h.7M115.5 155.5h.7M115.5 155.5h.7M115.2 155.4h.7M110.5 156.4h.7M114.8 158.9h.7M112.3 160.8h.7M109.6 151.5h.7M115.3 157.3h.7M113.7 156.4h.7M115.1 158.6h.7M117.4 154.8h.7M110.5 157.4h.7M113.1 156.8h.7M108.2 159h.7M118.2 159h.7M117 159.8h.7M114.5 159.1h.7M116.6 159.3h.7M115.5 157.6h.7M111.8 159h.7M112.7 159.7h.7M108 163.5h.7M117.2 162.7h.7M114.8 154.4h.7M112.8 154.1h.7M114.9 157.9h.7M114.2 151.8h.7M109.9 150.7h.7M117.5 159.4h.7M114 156.7h.7M109.1 156.6h.7M112.7 155.1h.7M116.5 151.3h.7M114.3 160.4h.7M116 153h.7M106.5 162.3h.7M117.6 157.3h.7M113.2 158.9h.7M116.7 158.2h.7M113 158.5h.7M114.9 164.5h.7M113.9 154.8h.7M118.9 162.7h.7M117.8 154.8h.7M112.3 153.4h.7M113.6 162.1h.7M116.4 158h.7M114.5 159.4h.7M113.5 154.4h.7M112.1 163.2h.7M111.4 154.1h.7M115.4 156.7h.7M113 158.3h.7M113.6 152.5h.7M116.4 158.5h.7M118.5 160.6h.7M112.4 156.4h.7M112 150.7h.7M115.9 155.6h.7M116.6 158.4h.7M113.6 163.1h.7M111.5 163.5h.7M113 164.8h.7M117 156.2h.7M118.6 159.2h.7M114.9 156.6h.7M113.8 156.5h.7M113.1 160.4h.7M116.1 161.9h.7M117.2 157.6h.7M116 157h.7M115.5 159.9h.7M115 155.3h.7M110.9 163.4h.7M111.9 155.9h.7M115 156.6h.7M115.1 162.3h.7M109.9 158.2h.7M115.6 153.3h.7M116 162.7h.7M114.1 159.4h.7M113.2 161.1h.7M112.7 157.9h.7M110.7 153.7h.7M119.7 157h.7M118.4 149.4h.7M108.2 152.8h.7M123.4 163h.7M125 155.1h.7M117 159.1h.7M112.8 160.2h.7M113.9 159.6h.7M105.3 152.1h.7M109.1 165.5h.7M118.4 152.5h.7M116.5 154.5h.7M108.5 152.7h.7M128.7 157.7h.7M113.6 163.4h.7M115.4 151.8h.7M118 153.1h.7M113.8 157.8h.7M114.1 154.5h.7M112.7 155.6h.7M119.8 158.3h.7M116.2 156.9h.7M105.5 160.2h.7M117.4 152.2h.7M108.5 154.4h.7M107.6 145.1h.7M112.1 154.3h.7M114.6 163.1h.7M109.6 149.6h.7M113.5 160.6h.7M121.1 161.9h.7M114.7 157.5h.7M105.6 160.6h.7M117.9 156.9h.7M112.6 159.3h.7M116.2 159.8h.7M116.1 149.8h.7M111.3 149.2h.7M110.2 156.6h.7M115.3 153.8h.7M122.4 158.3h.7M116.4 153.5h.7M120.5 155.9h.7M110.1 156.2h.7M119.6 153.3h.7M112.9 161.5h.7M112.7 161.6h.7M120.1 154.8h.7M108.2 151.4h.7M120.3 160h.7M114.4 155.3h.7M119.3 154.9h.7M127.4 158.8h.7M106.1 162.4h.7M115.3 157.2h.7M113.1 163.1h.7M111.6 164.9h.7M110.3 161.7h.7M106.7 162h.7M109.2 156.1h.7M117.7 153.5h.7M116.6 157.2h.7M120.4 161.6h.7M115.2 156.3h.7M109.6 164.1h.7M112.8 151.1h.7M110.1 148h.7M109.7 155h.7M115.2 161.7h.7M118.1 148.3h.7M111.6 160.1h.7M115.7 157.1h.7M110.1 160.7h.7M113.5 156h.7M113.4 156.1h.7M115.5 162.6h.7M114.3 154.1h.7M113.4 156.4h.7M116.4 160.9h.7M122 161.5h.7M105.6 153.1h.7M107.8 158.6h.7M125.5 159.4h.7M111.2 163.9h.7M117 153.2h.7M109.2 164.4h.7M117.7 147h.7M110.3 159.9h.7M107.3 157.2h.7M109.6 149h.7M111.4 154.6h.7M115.3 148.8h.7M115.2 155.4h.7M106.1 163.1h.7M131.1 160.6h.7M137.2 160.6h.7M135.3 159.8h.7M130.7 159.7h.7M127.6 160.8h.7M135 160.6h.7M130.4 154.1h.7M130.2 157.8h.7M130 159.4h.7M131 159.4h.7M125.8 154.8h.7M132.3 158.7h.7M133.6 156.8h.7M134.9 159.8h.7M132.3 159h.7M135.7 158.8h.7M137.2 159.4h.7M133.2 158.9h.7M133.3 160.8h.7M130.5 162.1h.7M140.3 161.1h.7M132.8 155.7h.7M130.1 155.6h.7M133.2 156.2h.7M137.3 157.2h.7M129.7 155.3h.7M132.1 158.3h.7M135.3 156h.7M133.4 162.7h.7M131.5 152h.7M133.1 163h.7M133.6 158.9h.7M126.5 165.4h.7M131.8 154.2h.7M131.4 159.5h.7M132.5 155.3h.7M139.8 163.9h.7M135.5 161.4h.7M131.2 154.2h.7M128.5 163.2h.7M132.6 165.4h.7M125.5 164.2h.7M133.8 156.7h.7M135.1 156.3h.7M131.6 161h.7M132.9 160h.7M133.1 163h.7M129.8 150.9h.7M129.6 149.3h.7M138.4 156.3h.7M132.3 160.2h.7M130 156.9h.7M133.2 158.9h.7M134.9 157.9h.7M130.3 153.1h.7M127.2 160h.7M133.4 157.3h.7M136.1 148.1h.7M134.4 154.2h.7M131.4 158h.7M130.1 157.8h.7M132.4 161.8h.7M134.9 155.1h.7M133.9 157.3h.7M135.1 156.6h.7M135.7 155.3h.7M130.9 162.3h.7M135.5 162.4h.7M138.5 163h.7M132.4 162.6h.7M129.8 162.1h.7M133.6 158.3h.7M130.2 163.1h.7M126.2 158.2h.7M128 157.5h.7M131 155.6h.7M130.5 160h.7M138.5 165.9h.7M131.8 157.2h.7M134.3 155.6h.7M127.8 162.8h.7M131.1 165h.7M133.4 153.1h.7M133.3 160.9h.7M132.6 153.4h.7M123.8 155.1h.7M134.9 166.1h.7M134.4 158.8h.7M133.6 163.5h.7M130.8 164h.7M133.2 159.7h.7M133.7 160.2h.7M129.5 165.1h.7M130.9 157.8h.7M125.1 152.3h.7M134.1 158.5h.7M132.1 157.4h.7M134.3 156.3h.7M127.8 152.4h.7M129.9 160.2h.7M136.8 161.2h.7M130.3 153.6h.7M134.9 160.9h.7M132.2 161.4h.7M134.2 160.9h.7M136.5 152.7h.7M130.4 156.8h.7M133.5 160.6h.7M134.8 158h.7M135 158.1h.7M134.7 161.2h.7M136.4 152.8h.7M129.6 155.9h.7M129.9 160.4h.7M135.4 157.5h.7M135.7 162.5h.7M130.6 161.6h.7M136.8 157h.7M125.6 161.1h.7M133.3 161.4h.7M134 158.7h.7M132.4 155.7h.7M138.4 165.2h.7M132 155.5h.7M133.7 165.3h.7M132.5 155.6h.7M135.3 160h.7M130 158.1h.7M132.9 154.5h.7M133.3 164.1h.7M135.7 163.9h.7M134.7 158.6h.7M134.3 163.9h.7M132.6 161h.7M130.5 159h.7M130.9 154.6h.7M127.2 157h.7M133 156h.7M132.9 162.4h.7M127.4 158.6h.7M134.2 161.3h.7M138 159.8h.7M136.3 156.7h.7M129.7 156.8h.7M131.1 162.6h.7M134.8 159.1h.7M129.7 159.6h.7M131.2 157.5h.7M127.1 165.3h.7M140.7 159.2h.7M139.3 157.3h.7M141 158.8h.7M126.8 159h.7M134.9 165.9h.7M135.5 166.2h.7M133 152.9h.7M133 155.5h.7M135 150.4h.7M129.5 154.3h.7M132.8 163.2h.7M131.5 153.7h.7M130.9 158.4h.7M136 159.5h.7M136.7 147.5h.7M127.7 162.8h.7M128.5 156.5h.7M134 159.9h.7M133.4 158.3h.7M126.8 152.4h.7M129.9 155h.7M131 152.1h.7M132.1 161h.7M130.9 164.4h.7M133.1 162.8h.7M129.7 159.9h.7M128.1 151.3h.7M127.1 157.4h.7M133.4 157.5h.7M135.7 159.5h.7M132.5 159.6h.7M135.5 165.6h.7M128.1 159.4h.7M131 159.1h.7M139.8 158.1h.7M124.9 162.5h.7M131 155.3h.7M135.6 160.1h.7M130.2 165h.7M131.7 160h.7M131.9 159.7h.7M126.3 154h.7M128.5 150.1h.7M128.9 157h.7M131.9 158.7h.7M131.1 163.3h.7M126.1 156.8h.7M131.7 155.5h.7M136.7 158.5h.7M135.9 161.2h.7M131.6 163h.7M128 154h.7M131.2 149.2h.7M131.1 158.2h.7M127.1 154.8h.7M136.4 161.5h.7M133.1 164.4h.7M132.8 164.1h.7M135.8 156.7h.7M134.4 163.6h.7M133.4 157.3h.7M135.2 163.7h.7M132.4 161.1h.7M132.9 160.1h.7M133.6 157.4h.7M134.8 160.5h.7M137.9 160.2h.7M132.8 154h.7M139.5 158.1h.7M130.9 157.9h.7M132.5 158.6h.7M137.7 157h.7M131.8 157.2h.7M134.4 152.3h.7M135.6 157.5h.7M128.1 165h.7M128.4 161.9h.7M132.5 156.3h.7M127.3 156.1h.7M134.8 158.7h.7M130.7 162.9h.7M132.6 159.3h.7M129.8 153.3h.7M131 160.2h.7M131.2 160.2h.7M131.7 158h.7M132.3 160.4h.7M125.5 158.9h.7M131.9 157.1h.7M135.5 163.7h.7M136 161.9h.7M133.9 159.5h.7M134.8 156.3h.7M132.1 160.2h.7M132 153.9h.7M132.2 157.2h.7M130.5 161.5h.7M135.8 159.3h.7M128.9 158.2h.7M131.9 154.6h.7M130.6 159.5h.7M130.6 160.7h.7M128.4 161.6h.7M130.3 159.4h.7M132.5 156.8h.7M135.7 151.7h.7M133.1 161.5h.7M131.7 158.6h.7M128.9 158.7h.7M133 156.5h.7M132.5 157.4h.7M129.3 158.6h.7M130 162.4h.7M130 164.5h.7M132.4 158.8h.7M130.2 160.6h.7M129.3 152.6h.7M133.8 150.4h.7M136 156.7h.7M137.3 159.8h.7M137.5 153h.7M131.1 159.9h.7M130.7 159.1h.7M131.9 161.5h.7M136.9 150.1h.7M134.4 154.2h.7M137.5 152.9h.7M129.8 160.9h.7M131.9 161.6h.7M133.6 155.7h.7M127.4 163.5h.7M131.8 158.4h.7M131.5 157.8h.7M130.2 159.1h.7M133.2 153.8h.7M127.5 161.1h.7M135.2 156.7h.7M131.9 156.8h.7M133.7 158.5h.7M130.7 155.8h.7M133.8 160.3h.7M131.1 160.4h.7M122.8 157.1h.7M133 150.7h.7M130.6 159.8h.7M136.4 160.4h.7M128.6 162.4h.7M131.6 162.2h.7M128.1 152.2h.7M127.4 161.2h.7M136.2 159.8h.7M133 158.4h.7M133.1 154.7h.7M136.3 162h.7M135.5 158.5h.7M135.1 162.8h.7M140.3 163.2h.7M130.1 155.6h.7M135.2 160.8h.7M134.2 159.1h.7M129.9 159.4h.7M127.9 160h.7M139.6 161.7h.7M129.8 155.3h.7M140 161.4h.7M130.8 161.2h.7M131.4 154.6h.7M132.9 160.9h.7M136.5 153.8h.7M137.1 157.9h.7M126.2 162.8h.7M135.6 161h.7M135.1 155.2h.7M134.1 152.3h.7M137.7 160.4h.7M134 159.2h.7M134.4 159.7h.7M129.5 157.4h.7M126.4 155.4h.7M131.9 160.4h.7M139.5 152.3h.7M139.1 157.1h.7M131.1 158.5h.7M139.4 154.5h.7M131.3 161h.7M135.5 160.4h.7M132.8 162.8h.7M129.4 165.2h.7M130.9 160.4h.7M129.5 156.4h.7M135.6 161.1h.7M131.9 162.1h.7M142.7 149h.7M126 159.6h.7M127 162.9h.7M129.9 158.8h.7M137.3 152.1h.7M134.6 157.6h.7M137.1 160.2h.7M130.1 157.1h.7M132.6 165.7h.7M132.8 156.8h.7M131.2 162.3h.7M131.5 165.9h.7M135.3 159.5h.7M132.8 157.5h.7M125 163.6h.7M137.3 158.1h.7M133.4 153.4h.7M131.8 159.6h.7M132.2 159.1h.7M135.6 161.7h.7M135 156.6h.7M130.9 158.9h.7M127.4 153.1h.7M133.5 158.9h.7M132.7 163.6h.7M125.7 160.5h.7M131.7 153.6h.7M134.6 164.5h.7M127.8 159.1h.7M135.6 159.1h.7M131.1 162.8h.7M127 158.7h.7M130.4 158.6h.7M128.5 159.6h.7M136.4 160.7h.7M128.4 156.8h.7M130.1 152.9h.7M134.8 160.9h.7M131.9 164.8h.7M134.8 156.5h.7M132.6 158.3h.7M132.5 164.2h.7M136.5 155h.7M138.7 152.5h.7M134.7 163.6h.7M132.9 160.9h.7M130.4 164.8h.7M131.9 156.8h.7M127.8 154.8h.7M134 159h.7M138 161.4h.7M133.6 155.8h.7M134.2 153.2h.7M130.1 164.5h.7M133.4 154.3h.7M130.5 158.4h.7M133.5 159.7h.7M135.1 147h.7M134.8 151.4h.7M131.1 159.5h.7M135.8 156.4h.7M128.3 155.6h.7M128.6 156.9h.7M130.2 163.5h.7M134.3 158.3h.7M133.5 165.3h.7M131.6 154.4h.7M132.6 154h.7M133.2 162.4h.7M131.4 162.7h.7M131.4 161.3h.7M135.1 162.2h.7M135.5 160.9h.7M134.7 162.7h.7M134.1 161.3h.7M133.4 158.7h.7M126.8 158.7h.7M132.6 156.8h.7M131.1 164h.7M131.7 149.9h.7M130.9 158.5h.7M136.4 160.2h.7M134.2 156.8h.7M130.7 152.6h.7M134.5 159.1h.7M130.3 159.2h.7M136 162.7h.7M135.1 163.6h.7M133.3 159h.7M132.5 160.9h.7M127.1 160.1h.7M132.6 155.5h.7M130.8 163.6h.7M131.3 158.6h.7M137.2 155.1h.7M132.4 157.3h.7M130.9 158.3h.7M134.3 157.9h.7M135.5 162h.7M129.1 159.2h.7M132 153.8h.7M126.9 163h.7M133.5 163.9h.7M137.5 162.1h.7M133.7 164.1h.7M132.1 157.4h.7M135.6 161.6h.7M130.9 157.4h.7M131.3 157h.7M130.7 156.9h.7M132.9 159.2h.7M135 149.1h.7M133 165.7h.7M132.7 156.6h.7M138.8 157h.7M134.7 159.9h.7M132.1 155h.7M133 159.8h.7M138.2 153h.7M127.7 161.2h.7M127.8 147.7h.7M131.5 163.5h.7M126.8 153h.7M137.2 155.5h.7M129.7 158.3h.7M137.6 158.2h.7M135 158.3h.7M129.2 160h.7M126.8 163.1h.7M127.5 159.5h.7M125.8 158.6h.7M133.8 156h.7M138.6 159h.7M133.9 153.1h.7M130.9 159.9h.7M134.9 161.3h.7M128.1 153.1h.7M129 163.4h.7M127 154.1h.7M132.9 158.8h.7M132.3 155.7h.7M133.6 158.5h.7M131.9 159.9h.7M131.8 158.2h.7M136 161.8h.7M132.7 159.5h.7M136.8 153.6h.7M126.5 159.1h.7M127.1 154.7h.7M133.2 159.8h.7M131.4 155.9h.7M127.9 156.1h.7M129.9 158.8h.7M135.4 157.8h.7M128.9 160.6h.7M136.3 160.2h.7M131.1 157.4h.7M131.5 154.8h.7M135.4 157.7h.7M138.5 163.7h.7M131 155.8h.7M126.9 159h.7M133.7 157.5h.7M132.1 160.8h.7M130 158.7h.7M131.7 164.9h.7M134.6 158.5h.7M129.3 158.4h.7M130 157.5h.7M133.6 162.2h.7M135.6 156.6h.7M133.1 158.8h.7M135.6 162.5h.7M133.2 161h.7M126.3 160.3h.7M132 158.8h.7M133.3 154.2h.7M131.3 162.3h.7M134.7 159.7h.7M134.2 155.8h.7M137.2 150.8h.7M131.4 156h.7M131.1 159.8h.7M132.8 162.8h.7M138.4 161h.7M129.6 159h.7M130.1 155.9h.7M131.2 162.7h.7M130 160.3h.7M130.2 162.4h.7M136.1 153.3h.7M134.8 155.6h.7M133.5 158.6h.7M135.1 154h.7M138.4 160.4h.7M130.5 164h.7M136.7 161.1h.7M130.9 155.8h.7M129.7 165.4h.7M132.7 158.9h.7M131.4 163.8h.7M131.4 162.4h.7M127 155.9h.7M133.5 155.2h.7M138.4 150.9h.7M133.7 161.1h.7M133.9 158.8h.7M133.3 156.6h.7M132.4 166.1h.7M132.4 163.4h.7M136.7 156.8h.7M125.4 163.7h.7M138.5 153.1h.7M130.9 158.7h.7M131.7 161.4h.7M132.1 161.4h.7M130 152.8h.7M138.1 160h.7M133.7 154.4h.7M133.9 158.8h.7M134 159.5h.7M135.8 164.6h.7M131.4 157.5h.7M134.8 153.3h.7M130.3 157.6h.7M131.7 158.2h.7M128.8 161.2h.7M131.1 154.3h.7M133.6 165.1h.7M127.9 158.9h.7M139.2 158.3h.7M130.3 165.4h.7M133.2 162.7h.7M137.6 161.6h.7M127.9 154.5h.7M131.8 156.6h.7M132 151.6h.7M127.5 161.9h.7M131.9 160.7h.7M131.3 159h.7M127.8 166h.7M135.7 153.7h.7M131.1 160.5h.7M131.2 158.8h.7M133.2 151.7h.7M134.8 160.9h.7M129.5 158.3h.7M132.2 158h.7M132.6 153h.7M132.7 160.7h.7M133.7 160.8h.7M130.7 159.6h.7M135.5 159.4h.7M133.2 159.3h.7M134.1 154h.7M132.3 162.4h.7M129.7 161.3h.7M131.1 157.4h.7M129 155.4h.7M136.1 153.3h.7M132.9 153.6h.7M138.8 161.8h.7M130 154.5h.7M131.6 160.4h.7M137.6 164.8h.7M129.5 160h.7M135.4 156.2h.7M131 162.7h.7M128.2 159.2h.7M132.3 157.9h.7M132.6 152.6h.7M135 157.2h.7M136.9 155.8h.7M131.7 163.8h.7M130.3 157.7h.7M124.7 153.4h.7M128.9 156.2h.7M130.2 160.1h.7M133.3 157.6h.7M128.3 160h.7M134.4 158.8h.7M136.8 157.2h.7M135.1 160.1h.7M136.6 165.5h.7M128.9 151.9h.7M135.7 160.3h.7M133.6 157.3h.7M130.2 163.8h.7M134 156.9h.7M132.6 160.2h.7M128.5 156.6h.7M134.1 159.6h.7M128.2 160.3h.7M138.6 161.5h.7M128.4 157.2h.7M130.6 156h.7M129.9 156.8h.7M132.2 154.1h.7M135.3 160.4h.7M138.5 162.4h.7M135.5 161.1h.7M132.2 154.8h.7M134.6 159.5h.7M130.5 160.7h.7M133.5 156.5h.7M137 157.2h.7M132.9 163.3h.7M130.9 157.8h.7M133.9 157.8h.7M131 154.6h.7M133.2 157.6h.7M135.1 163.1h.7M132.4 162.1h.7M130.3 165.4h.7M130.8 158.6h.7M131.4 157.1h.7M135 159.1h.7M129.8 162.1h.7M132.6 161.4h.7M133.2 157.3h.7M126.9 157.9h.7M129.8 163.9h.7M131.8 164.9h.7M139.6 163.7h.7M139.9 155.4h.7M131 155h.7M128.4 154h.7M135.3 156h.7M131.5 161.4h.7M131.2 165.2h.7M136.2 161.9h.7M137.6 161.2h.7M133.1 163.5h.7M135.7 153.8h.7M135.9 163.1h.7M133 164.7h.7M128.9 159.9h.7M130.4 155.8h.7M133.4 153.4h.7M132.4 161.9h.7M130.2 154.8h.7M134.2 162.7h.7M135.3 157h.7M131.3 164.5h.7M135.2 160.4h.7M133.2 158.5h.7M134.4 161.9h.7M132.7 160.2h.7M128.3 158.6h.7M137.4 160h.7M128.3 157.3h.7M132.8 164.8h.7M139.1 159h.7M132.1 159.7h.7M129.1 164.3h.7M128.8 162h.7M131.1 155.1h.7M133.5 165.7h.7M128.8 160h.7M130.4 163.4h.7M128 154.1h.7M131.3 154.1h.7M135.5 153.3h.7M132.7 157.2h.7M135.5 157.1h.7M131.9 165.8h.7M134.5 164.1h.7M136.9 161.1h.7M133.5 152.6h.7M127.2 157.6h.7M133.4 163.5h.7M130.2 157.9h.7M138.9 154.8h.7M131.9 158.7h.7M130.4 165h.7M127.6 158h.7M127.4 156.4h.7M137.3 151.3h.7M127.4 159.2h.7M133.6 156.3h.7M133.9 158.4h.7M131.3 159.5h.7M136.3 154.5h.7M135.1 160.3h.7M131.9 156.3h.7M133.6 162.3h.7M129.6 162.1h.7M132.6 162.4h.7M133.3 158.4h.7M133.2 161.7h.7M128.1 159.2h.7M125.1 160h.7M131 159.3h.7M135.6 162.8h.7M136.9 162.8h.7M131.9 156h.7M140.4 156.5h.7M131.4 160.8h.7M130 159.8h.7M133.2 157.1h.7M129.3 159.3h.7M133.8 155.3h.7M132.9 159.6h.7M129.8 160.8h.7M128.3 162.7h.7M130.3 163.2h.7M132.8 159.4h.7M128.4 162.1h.7M133.8 160h.7M132.6 161.9h.7M133.9 160.7h.7M135.2 158.6h.7M137.5 153.2h.7M127.5 161.4h.7M132.4 153.2h.7M128.8 156.3h.7M136.4 161.7h.7M127.4 153.9h.7M132.9 154.3h.7M130.6 156.9h.7M132.7 161.4h.7M130.3 157.1h.7M133.3 165.6h.7M133.8 157.7h.7M135.4 158.6h.7M128.3 161.7h.7M137.5 154.8h.7M134.9 154.3h.7M132.2 158.7h.7M131.4 158.7h.7M134.6 157.2h.7M131.8 158h.7M133.3 156.6h.7M134.9 160.3h.7M130.7 154.1h.7M131.7 163.1h.7M134.5 159.2h.7M138.7 165.3h.7M134.1 164.6h.7M131.7 157.7h.7M133.2 151.7h.7M132.6 157.2h.7M136.7 161.4h.7M137.3 157.4h.7M137.1 159.7h.7M134.1 160.7h.7M128.6 162.7h.7M131.1 161.7h.7M132.4 155.3h.7M131.6 160.3h.7M131.6 165.8h.7M136.2 159.5h.7M131.4 164.8h.7M132.6 163.7h.7M128.3 151.3h.7M134.9 162.7h.7M132 158.5h.7M133.9 161.2h.7M132.3 159.2h.7M133.2 163.4h.7M134.7 148.9h.7M133.6 157.9h.7M135.8 162h.7M130.9 158.8h.7M125.4 158.6h.7M129.2 159.6h.7M130.3 164h.7M136.5 157.7h.7M129.8 164.2h.7M128.4 157.8h.7M131.4 160.1h.7M132.7 155.5h.7M135.2 160.6h.7M133.5 165.4h.7M138.3 160.1h.7M131.3 158h.7M132.2 154.9h.7M130.4 157.1h.7M134.1 162.1h.7M125 152.8h.7M130.6 154.9h.7M132.4 152.2h.7M131.8 159.9h.7M133.7 157.4h.7M133.8 162.1h.7M131.4 155h.7M130.9 160.3h.7M133.4 152.4h.7M127.9 152.8h.7M138.1 160.8h.7M133.1 154.4h.7M134.4 149.4h.7M137.5 160.6h.7M132.4 160.1h.7M135.3 151.2h.7M133.4 154.1h.7M131.3 158.3h.7M131.2 156.2h.7M133 157.5h.7M133.3 162.1h.7M129.9 158.3h.7M129.9 162.3h.7M134.8 163.2h.7M135.8 159.6h.7M129.4 156.1h.7M136.2 159.6h.7M135 156.8h.7M135.5 152.8h.7M130.4 159.7h.7M135.8 162.9h.7M135.1 163.9h.7M134.7 162.5h.7M129.8 154.3h.7M130.9 164.1h.7M136.7 154.8h.7M131.7 159.4h.7M134.3 160.4h.7M137.1 160.1h.7M131.8 158.1h.7M135.9 158.1h.7M134.1 157.5h.7M128.9 150.7h.7M131.6 155.9h.7M135 157.6h.7M129.7 162h.7M131.1 159.4h.7M130.1 165.1h.7M133.4 158.2h.7M132.2 150.9h.7M136.4 159.1h.7M136.1 155.8h.7M137 156.5h.7M131 159.2h.7M132 159.5h.7M133 158.5h.7M133.9 157.4h.7M136.6 161.8h.7M129 157h.7M131.5 162.9h.7M126.6 163.5h.7M126.5 156.6h.7M129.9 157.7h.7M134.9 162.8h.7M132.2 158.3h.7M129.5 163.7h.7M127.7 156.5h.7M131.5 160.8h.7M130.6 160h.7M126 161.6h.7M130.9 160.8h.7M132.1 155.3h.7M127.7 155.2h.7M132.4 162h.7M136 162.9h.7M138.8 163h.7M138 162.2h.7M133.5 152.3h.7M135.5 158.6h.7M131.3 153.8h.7M136.4 159.1h.7M131.2 156h.7M132.2 160.9h.7M134.4 159.5h.7M133.2 159.4h.7M131.2 163.6h.7M132.1 156.8h.7M137.8 155.4h.7M131.1 159.6h.7M132 158.8h.7M135.5 163.1h.7M128.9 155h.7M134.6 155.1h.7M128.8 162.4h.7M134.1 160.6h.7M136.8 163.2h.7M131.1 157.3h.7M133.8 157.4h.7M133.3 162.6h.7M133.3 153.6h.7M137.6 158.9h.7M133.6 152.6h.7M132.4 154h.7M137.4 157.2h.7M128.2 158.6h.7M129.6 159.3h.7M129.6 152.3h.7M131.9 157.9h.7M130 161.8h.7M135.1 158.7h.7M132.2 160.5h.7M135.3 159.8h.7M129 161.6h.7M139.8 161.6h.7M133.5 156.9h.7M127.8 161.1h.7M134.3 160.9h.7M133 164.1h.7M132.2 151.7h.7M132.1 159.8h.7M134.9 161.3h.7M134.6 160.9h.7M133.4 154.5h.7M131.5 163.1h.7M137.5 148.6h.7M132 157.4h.7M135.1 151.4h.7M130.8 159.8h.7M130 152.3h.7M138.2 158.1h.7M132.7 161.5h.7M138.3 156.3h.7M132 157.8h.7M135.4 162.8h.7M137.4 157.4h.7M128.8 156.6h.7M126.6 160.5h.7M126.2 160.8h.7M129.2 160.8h.7M137.1 158.6h.7M132.1 159.2h.7M130.5 160.5h.7M131.4 155.5h.7M128.9 158h.7M134.1 148.6h.7M132.3 145.1h.7M126.2 147h.7M134.4 151.8h.7M132.4 156.3h.7M131.3 153.2h.7M128.9 158.5h.7M127.4 153.8h.7M134.3 151.2h.7M142.1 156.2h.7M134.4 143.2h.7M134.4 146.3h.7M135.1 156.9h.7M132 150.6h.7M128.9 150.1h.7M139.5 149h.7M131.2 157.2h.7M126.5 151.6h.7M137.6 156.1h.7M135.1 159.2h.7M132.4 138.6h.7M135.9 158.2h.7M121.9 153h.7M138.9 146.6h.7M136.8 164.1h.7M132 152.6h.7M128 158.7h.7M133.6 158.1h.7M132.3 154.7h.7M129.8 161.6h.7M131.9 162.8h.7M136.5 149.5h.7M127.5 161.4h.7M134.3 152h.7M137.2 140.8h.7M135.1 152h.7M135.8 150.5h.7M130.4 159h.7M134.2 144.8h.7M134.9 159.1h.7M125.2 148h.7M127.4 147.8h.7M128 148h.7M131.4 163.3h.7M130.7 160.8h.7M137.1 151.6h.7M134.3 161.1h.7M133.6 165.2h.7M134.3 165h.7M128.1 156h.7M121.8 144.9h.7M130 151.7h.7M131.5 157.9h.7M126 142.9h.7M135.9 156.4h.7M136.8 160h.7M133.9 150.9h.7M134.7 148.1h.7M126.7 152.2h.7M142.5 147.9h.7M138.5 153.2h.7M140.2 151.1h.7M127.2 150h.7M131.6 158.1h.7M129.3 155.8h.7M143.1 154.5h.7M129.1 154.3h.7M131 156.2h.7M128.9 152.4h.7M135.8 154.4h.7M123.9 162h.7M128.8 156.8h.7M128.4 159.7h.7M129.9 163h.7M133 139.8h.7M127.4 158.8h.7M135.8 161.1h.7M134.7 151.3h.7M133.1 154.7h.7M132.5 161.1h.7M128.3 152.3h.7M138.4 153.5h.7M135 150.8h.7M132.7 163.1h.7M139.7 154.7h.7M129.6 164.4h.7M124 153.1h.7M137.2 153.5h.7M132.2 154h.7M128.2 151.6h.7M133.9 143h.7M128.9 134.5h.7M136.7 155.1h.7M125.1 144.4h.7M129.3 165.4h.7M134.6 146.9h.7M130.2 143.3h.7M128.2 142.8h.7M140.5 159.1h.7M138.3 157.4h.7M129.1 161h.7M134.6 149.5h.7M125.1 154.1h.7M127 152.4h.7M123.3 142h.7M136.8 158h.7M133.1 152.5h.7M133.3 147.9h.7M135.9 165h.7M129.7 143.9h.7M132.5 142.7h.7M141.4 153.6h.7M134.3 155.5h.7M130.2 149.3h.7M132.8 161.6h.7M139.2 152.3h.7M130.2 151.6h.7M134.1 147.6h.7M136.8 152.6h.7M129 159h.7M138.9 148.3h.7M131.6 153.1h.7M134.8 159.6h.7M131.9 148h.7M129.7 160.2h.7M140.8 155.5h.7M137.7 149.3h.7M126.7 148h.7M145.8 162.8h.7M128 149h.7M130.8 145.5h.7M135.1 146.8h.7M131.4 158.2h.7M131.3 161h.7M130.1 162.2h.7M129.5 150.3h.7M125.8 156.5h.7M135.6 154.3h.7M139 158.6h.7M134 143h.7M132.4 144.4h.7M130.6 150.8h.7M133.3 151h.7M130.5 152.8h.7M135.2 143.1h.7M132.1 151.7h.7M131 141h.7M134.8 141.8h.7M131.3 135.5h.7M131.9 149.7h.7M137.7 136.5h.7M130.5 145.9h.7M132.4 139.8h.7M132.5 150.1h.7M134.1 137.8h.7M133.7 135.1h.7M134.8 130.3h.7M132 147.6h.7M135.9 145.3h.7M129.2 141.1h.7M134.4 146h.7M133.4 138.9h.7M129.2 139.5h.7M133 138.3h.7M131.2 144.5h.7M132.1 143.3h.7M134.7 138h.7M134.6 135.6h.7M134.3 144.6h.7M133.7 146.5h.7M133.1 132h.7M135.8 143.5h.7M133.1 142.6h.7M133.5 140.9h.7M130.3 135.3h.7M136 145.9h.7M130.8 151.7h.7M133.3 135.7h.7M131.3 138.4h.7M134.8 146.7h.7M132.3 140.8h.7M131.5 142.9h.7M130.9 147.5h.7M132.6 147.8h.7M135.6 144.1h.7M134.3 124.2h.7M131.1 143.7h.7M131.2 148.6h.7M132.2 141.2h.7M128.9 146.3h.7M131.8 149.9h.7M133.7 141.9h.7M134.3 140.7h.7M131.3 142h.7M132.3 148.7h.7M131.5 135.9h.7M135.2 147.6h.7M132.1 143h.7M129.8 152.1h.7M131.8 129.5h.7M132.5 145.3h.7M134 143.7h.7M133.2 141.3h.7M132.6 140.9h.7M137.3 142.7h.7M133 130h.7M132.7 145.6h.7M134.1 133.1h.7M132.6 151.7h.7M132.4 141.1h.7M133.9 141.7h.7M131.8 138.4h.7M129.6 143.4h.7M133.8 145.9h.7M131.4 144.8h.7M130.8 132.6h.7M133.9 134.7h.7M130.2 140.4h.7M132.2 151.5h.7M134.6 154.7h.7M133.1 132.5h.7M130.4 143.9h.7M130.3 144.9h.7M134.7 145.8h.7M129.7 148.9h.7M135.9 148.4h.7M137.1 137.5h.7M132.5 147.3h.7M134.6 151.2h.7M132.5 138.2h.7M132.4 132.1h.7M133 132.3h.7M134.3 131.7h.7M134.6 131.6h.7M135.3 133.3h.7M132.7 132.5h.7M133.5 132.9h.7M130.7 133.7h.7M129 132.3h.7M130.3 133.3h.7M131.1 130.8h.7M135 131.7h.7M132.1 133.1h.7M133.5 133h.7M130.1 133.5h.7M134.7 132.9h.7M135.8 130.7h.7M135.2 130.8h.7M130.5 133.3h.7M137.5 132.8h.7M132.5 132.8h.7M135 131.1h.7M132.1 132.3h.7M135.2 132.7h.7M133.4 133.6h.7M132.3 131.9h.7M134.6 130.6h.7M133.3 132.5h.7M129.5 133.5h.7M131 134.2h.7M134.3 133.2h.7M134.8 132.2h.7M135 132.8h.7M133.9 133.4h.7M136.8 130.3h.7M131.8 131.5h.7M130.2 133.8h.7M130.8 132.9h.7M131.6 133.8h.7M136.1 132.1h.7M131.4 132.4h.7M132.4 131.2h.7M130.3 133.3h.7M133.3 132.7h.7M133.5 131.8h.7M132.6 131.8h.7M133.3 130.7h.7M133.8 132.7h.7M132 133h.7M134.9 132.3h.7M136.7 133h.7M133 132.4h.7M130.4 132.1h.7M133.2 132.7h.7M133.5 134h.7M133.6 132.8h.7M132.3 131.7h.7M131.9 132.7h.7M134.2 133h.7M130.7 133h.7M134.3 131h.7M132.3 131.4h.7M131.4 134h.7M133.5 134.5h.7M130.7 133.9h.7M132.5 131.3h.7M133.2 132.8h.7M132.3 133.9h.7M132.2 133.4h.7M132.8 132.2h.7M133.6 133.5h.7M135.7 133.1h.7M129.4 132.1h.7M132.3 133.8h.7M129 133.5h.7M130.4 133.8h.7M134.9 132h.7M135.5 132.8h.7M132.5 134h.7M137.1 131.7h.7M133.3 132.8h.7M134.5 132h.7M132.4 133.8h.7M132.6 133.9h.7M133.4 134.1h.7M135.8 131h.7M134.2 132.2h.7M131.6 133.7h.7M135 132.7h.7M135 133.7h.7M133.6 133.1h.7M133.8 133.8h.7M131.1 132.9h.7M130.4 132.6h.7M133.6 132.2h.7M131.3 132.7h.7M135.1 134.1h.7M133.1 131.9h.7M133.2 132h.7M133.5 133.1h.7M136.7 131.2h.7M132.6 132h.7M135 131.4h.7M135.5 133.8h.7M129.4 134.3h.7M137.5 131.8h.7M132.7 134.5h.7M132.4 132.7h.7M131 133.6h.7M135.5 131.4h.7M134.5 132.8h.7M136 131.9h.7M131.3 133.2h.7M133.8 132.2h.7M131 133.6h.7M129.7 132.2h.7M132.6 131.5h.7M133.9 131h.7M132.5 133.1h.7M135.6 131.4h.7M133.4 133.6h.7M131.2 133.3h.7M135.1 133.2h.7M132.7 133h.7M131.4 133.4h.7M133.7 132h.7M137.7 132.3h.7M131.2 133h.7M133.9 131.5h.7M131.1 133.7h.7M132.7 132.6h.7M135 132h.7M129.9 132.2h.7M132.6 132.5h.7M132.1 132h.7M129.3 133.1h.7M133.7 132.7h.7M134.1 135.1h.7M130.5 132.6h.7M133.2 130.4h.7" stroke="#000" stroke-width="0.7" fill="none" opacity="0.8" filter="url(#b)"/>
<g stroke="#3a3a3a" stroke-width="0.75" fill="none">
<path d="M102.8 166.9V118.2H154.3V166.9"/>
<path d="M122.3 118.2V166.9M102.8 144.1H154.3"/>
</g>
<path d="M102.8 166.9H154.3" stroke="#3a3a3a" stroke-width="0.75"/>
<path d="M103.8 118.2V166.9M102.8 165.9H154.3" stroke="#666" stroke-width="1.2" stroke-dasharray="0.5 1.6" fill="none" opacity="0.55"/>
<text transform="translate(98.8 181.3) rotate(-90)" font-size="8.5" textLength="71" lengthAdjust="spacingAndGlyphs" class="m">CMV HLA-A*0201</text>
<text x="119.8" y="177" font-size="10" textLength="20.3" lengthAdjust="spacingAndGlyphs">CD8</text>
<path d="M88 185V206.8" stroke="#111" stroke-width="1.3" fill="none"/>
<path d="M85.45 205.20000000000002L88 210.10000000000002L90.55 205.20000000000002L88 205.9Z" fill="#111"/>
<rect x="92.3" y="184.8" width="109.3" height="21.4" fill="#fff" stroke="#333" stroke-width="1"/>
<text x="146.4" y="192.7" font-size="7.2" text-anchor="middle" textLength="103.4" lengthAdjust="spacingAndGlyphs" class="m">Immunomagnetic selection of</text>
<text x="146.2" y="201.8" font-size="7.2" text-anchor="middle" textLength="77.5" lengthAdjust="spacingAndGlyphs" class="m">tetramer-positive cells</text>
<path d="M76.4 255.6h.7M81.1 251.2h.7M86.2 255.6h.7M75.6 249.3h.7M77.3 253.4h.7M80.4 254.4h.7M80.4 248.3h.7M75.7 253h.7M81 252.8h.7M78.9 249.9h.7M82.4 253.5h.7M72.8 252.3h.7M77 253.8h.7M85.5 249.3h.7M83.1 249.1h.7M77.6 249.5h.7M77.7 256.9h.7M84.6 256.3h.7M77.4 256h.7M72.1 252.7h.7M75.2 246.2h.7M76.8 248.9h.7M82.5 250.2h.7M82.5 252.5h.7M82.1 255.4h.7M83.2 250.2h.7M72.9 253.8h.7M87.2 257.3h.7M78.2 256.9h.7M77.9 253.9h.7M82.8 254.3h.7M77.5 253.6h.7M82.5 257.6h.7M83.9 254.9h.7M74.2 256.2h.7M76.8 250.6h.7M77.6 250.9h.7M73 253.6h.7M74.4 256.2h.7M79.3 249.1h.7M79.7 254.6h.7M73.5 255.9h.7M76.4 252.3h.7M80.8 246h.7M75.9 255.6h.7M99.8 258.1h.7M100.8 253.5h.7M103.6 252.8h.7M101.8 244.6h.7M90.9 256.9h.7M103.3 255h.7M103 247.5h.7M100.2 248.8h.7M95.4 250.6h.7M103.2 250.6h.7M102.7 255.8h.7M99.7 254.6h.7M103.9 254h.7M101.5 255h.7M89.9 259.7h.7M100.6 253h.7M101.1 250.1h.7M97.2 249.3h.7M97.4 256.9h.7M91.7 249.9h.7M100.6 251.1h.7M110.7 250.3h.7M103.6 253.4h.7M100.3 256.8h.7M107.6 257.8h.7M101.4 252.9h.7M101.9 256.2h.7M97.8 250.4h.7M93.6 248.5h.7M99.8 257h.7M100.8 252.6h.7M92.7 254.8h.7M111.7 258.6h.7M97.7 258.1h.7M98.1 253.3h.7M98.6 248.8h.7M105.9 251.8h.7M98.7 254.1h.7M101 250.7h.7M94.7 252.4h.7M93.5 250.5h.7M101.7 252.3h.7M101.1 252.4h.7M99.9 251.1h.7M105.5 251.3h.7M100.4 259.4h.7M105.6 251h.7M94.8 254.2h.7M99.5 257.6h.7M96 255.3h.7M102 223.8h.7M72 256.6h.7M69.4 226.4h.7M80 252.9h.7M83.8 245.3h.7M84.7 230.1h.7M107.8 219.8h.7M83.7 218.1h.7M99.7 228.7h.7M112.7 249h.7M105 237.5h.7M94.5 242.1h.7" stroke="#000" stroke-width="0.7" fill="none" opacity="0.5" filter="url(#b)"/>
<clipPath id="cp5"><rect x="65.2" y="215.5" width="52.6" height="47.8"/></clipPath>
<g clip-path="url(#cp5)"><ellipse cx="100.5" cy="235.6" rx="6.2" ry="3.4" fill="#000" opacity="0.6" transform="rotate(-33 100.5 235.6)" filter="url(#c)"/><path d="M91.9 238.6L96.3 231.8L107.8 229.4L109 230.9L104.1 240L97.3 242.9L92.7 240.8Z" fill="#000" opacity="0.85" filter="url(#d)"/></g>
<path d="M101.1 239.9h.7M102.3 234.1h.7M97.6 236.5h.7M104.1 230h.7M102.4 234.3h.7M102.4 235.5h.7M95.2 237.6h.7M93.8 239h.7M97.8 239.3h.7M94.3 239.6h.7M97.1 236.7h.7M94.8 242.7h.7M99.5 236.7h.7M107.8 228.9h.7M100 234.4h.7M99.4 235.7h.7M102 236.9h.7M100.5 238.5h.7M99.2 234h.7M94.7 240.6h.7M99.1 237.7h.7M102.6 233.1h.7M104.5 235.6h.7M105.7 235h.7M96.6 239.2h.7M100.7 233h.7M103.2 234.2h.7M101.6 238.9h.7M104.6 233.2h.7M102.7 237.1h.7M100.8 238.2h.7M102.2 234.3h.7M104.9 233.4h.7M98.7 236.1h.7M94.5 241.2h.7M96.4 234.3h.7M101.4 231.1h.7M99.4 238.2h.7M101.4 236.4h.7M99.4 234.6h.7M101.2 237.3h.7M100.1 238.3h.7M92.4 238.1h.7M91.7 239.4h.7M100.8 233.2h.7M98.5 236.8h.7M97.6 237h.7M103.4 234.6h.7M103.7 235.4h.7M98.6 237.1h.7M103.3 233.5h.7M98.2 239.8h.7M103 236.2h.7M98.6 236.6h.7M101.6 236.4h.7M103.2 232.5h.7M103.2 232.6h.7M97.2 236.7h.7M98.6 239.2h.7M104.2 238.7h.7M98.1 237.6h.7M104.6 230.5h.7M102.9 238.8h.7M103.5 233.1h.7M100 236.6h.7M98.1 235.1h.7M104.1 232.5h.7M103.8 232.2h.7M97.7 232.6h.7M92.1 244h.7M98.2 236.4h.7M103.1 231.8h.7M100.3 238.5h.7M102.9 238h.7M99.9 233.2h.7M100.4 237.2h.7M96.9 237.1h.7M100.2 240.8h.7M98.2 235.5h.7M99.7 235.1h.7M100.5 235h.7M96.3 236.6h.7M94.1 242.7h.7M104.8 233.7h.7M101 237.2h.7M101.4 233.8h.7M97.5 239.2h.7M99.5 237.5h.7M99 238.6h.7M99.8 236.9h.7M102.2 231h.7M103.3 237.5h.7M98.8 233.5h.7M101.6 233.7h.7M97.1 241h.7M100 234.1h.7M96.1 239h.7M101.4 236.4h.7M96.6 236.5h.7M100.2 235.4h.7M100.5 235.3h.7M100.1 236.6h.7M102.4 237.8h.7M100.2 231.9h.7M105 230.7h.7M101.1 238.3h.7M102.3 237.9h.7M100.4 240.8h.7M102 231.9h.7M102.7 234.3h.7M103.8 232.9h.7M103.1 232.1h.7M99.4 236.4h.7M104 232.6h.7M101.4 238h.7M94.5 242.3h.7M100 236.7h.7M106.6 232.9h.7M102.7 237.6h.7M105.1 236.4h.7M98.4 237.9h.7M95.7 235.8h.7M99.3 236h.7M98.5 235.4h.7M105.8 230.7h.7M102 232.7h.7M101.4 233.9h.7M94.8 234.6h.7M104.1 236.9h.7M99.4 236.2h.7M101.4 232.3h.7M102.4 241.4h.7M98.9 233.4h.7M98.4 237.1h.7M99.3 240.3h.7M102.4 233.9h.7M101.1 234.8h.7M97.8 240.6h.7M99.7 235.2h.7M104.9 233.3h.7M103.6 229h.7M102.6 232.7h.7M99.1 238.7h.7M106 228.5h.7M104.6 233.4h.7M98.8 239.1h.7M99.9 235.1h.7M99.6 236h.7M98.7 239.2h.7M105.7 231.6h.7M98.2 236.9h.7M97.8 237.6h.7M100.8 235.9h.7M97.9 237.9h.7M96.2 237.3h.7M99.8 236.5h.7M103 234.4h.7M97.1 238.6h.7M99.8 238h.7M105.6 236.7h.7M100.2 234.1h.7M101 235.4h.7M97.9 234.1h.7M104 232.2h.7M103.6 236.8h.7M97.3 238.5h.7M100 233.2h.7M98.3 237.4h.7M103.4 233.1h.7M99.6 238.7h.7M99 235.3h.7M95.4 239.5h.7M98 235.2h.7M98.8 235.3h.7M109.7 230.4h.7M102.8 232.2h.7M103.1 235.5h.7M99.1 241.5h.7M97.2 235.3h.7M91 235.7h.7M98 237.1h.7M102.8 234.7h.7M97.8 235.3h.7M105.5 232.6h.7M105.9 233.2h.7M99.1 235.9h.7M101.9 237h.7M99.1 237.8h.7M96.1 234.7h.7M95.1 237.7h.7M98.1 238.7h.7M99.1 235.8h.7M99.3 233.5h.7M96.3 242.2h.7M102.1 232.2h.7M96.3 238.8h.7M93.2 234.7h.7M98.7 235.7h.7M102.8 232.6h.7M96.1 239.1h.7M97.1 238h.7M94.2 238.3h.7M106.1 230.2h.7M100.1 236h.7M100.7 235.6h.7M102.6 233.6h.7M97.2 238h.7M101 231.9h.7M102.7 234.2h.7M103.4 234.6h.7M96.2 237.3h.7M102.5 237.3h.7M99.7 237.8h.7M104.5 234.7h.7M104.9 235.3h.7M97.2 235h.7M97.6 241.1h.7M104.1 232.4h.7M100.2 240.6h.7M97.6 237.5h.7M99.1 238.5h.7M94.2 239.8h.7M100.9 238.3h.7M101.7 236.3h.7M97.2 238.2h.7M98.6 240.8h.7M101.3 235.7h.7M100.8 236.1h.7M99 238.1h.7M100.2 234.3h.7M103.2 236.3h.7M103.9 233.5h.7M103.3 237.9h.7M102.4 236h.7M100.2 232.9h.7M97 237.6h.7M103.7 235.6h.7M98.6 237.5h.7M99.9 234.8h.7M100.2 238h.7M96.6 237.1h.7M100.2 234.1h.7M97.3 238.6h.7M107.2 233h.7M98.6 240.3h.7M100.8 231.9h.7M98.5 232.9h.7M99.3 239.7h.7M106.8 239.9h.7M103.5 233.9h.7M98.2 236.3h.7M96.9 235.9h.7M101.4 235.9h.7M100.9 235.5h.7M95.6 239.7h.7M100.4 237.9h.7M100.8 233.8h.7M103.3 236.4h.7M99.5 238.1h.7M101.8 234.5h.7M101.1 234.2h.7M104.6 233.1h.7M103.4 238.5h.7M100.5 237.5h.7M105 229.9h.7M107.2 234.1h.7M96.4 238.4h.7M107.2 233h.7M104.7 236.3h.7M98.3 238h.7M105.9 231.8h.7M100.7 234.9h.7M98.6 236.6h.7M93.5 238.2h.7M94.9 236.8h.7M98.5 239.3h.7M96.8 239.7h.7M99 235.2h.7M94.9 239.1h.7M100.1 238h.7M98.4 232.8h.7M102.1 238.2h.7M100.4 236.4h.7M101.9 236h.7M108.6 232h.7M102 237.3h.7M102 231.8h.7M101.6 234.9h.7M97.2 239.7h.7M98.2 238.1h.7M98.1 238.5h.7M104.6 232.3h.7M97.8 239.4h.7M97.5 239.8h.7M101.6 233.7h.7M98.6 239.9h.7M103 235.2h.7M101 238.2h.7M98.4 237.9h.7M101.8 238.3h.7M99.2 236.4h.7M101.2 235.3h.7M99.5 237.8h.7M98.8 236.4h.7M101.2 236.1h.7M99.2 236.6h.7M96.5 236.5h.7M98.1 235h.7M105.2 238.3h.7M99.6 236.4h.7M99.9 235.7h.7M98.5 239h.7M102 232.7h.7M101 234.1h.7M102.3 233.6h.7M101.3 234.2h.7M99.7 237.3h.7M102.5 232.3h.7M98.6 235.4h.7M94.9 239.4h.7M99.6 235.9h.7M97.7 241.2h.7M97.5 232.1h.7M99.2 237.4h.7M96.9 237.6h.7M93 239.3h.7M100.5 234.2h.7M96.8 235.7h.7M98.6 239.3h.7M100.6 234.8h.7M98.7 238.6h.7M98.2 235.4h.7M102.8 235h.7M104.5 233.7h.7M99.3 237.6h.7M100.9 236h.7M97.3 236.3h.7M97.9 236.4h.7M104.4 232.3h.7M101.8 236.4h.7M95.4 240.7h.7M101 236.6h.7M100.9 238h.7M101.5 234.2h.7M98.3 235.4h.7M97.8 235.6h.7M101 237.9h.7M99.7 238.7h.7M103.9 235.9h.7M95.1 233.4h.7M103.7 235.6h.7M95.8 236.8h.7M101 235.8h.7M96.2 238.1h.7M95.6 238h.7M102.3 235.8h.7M98.5 238.4h.7M106.5 232.6h.7M100.7 233h.7M102.8 231.6h.7M99.6 238.4h.7M102.2 228.5h.7M97.7 232.4h.7M99.4 233.6h.7M107.4 235.2h.7M97.1 237.1h.7M100.5 238.1h.7M104.7 235.4h.7M96.2 231.6h.7M95.4 236.2h.7M102.8 232.2h.7M104.4 235.8h.7M100.5 237.8h.7M98 239.5h.7M100.6 234.8h.7M97.8 233h.7M99.3 237.8h.7M99 235.9h.7M105.8 239.5h.7M96 240.9h.7M100.2 236.2h.7M97.7 236.9h.7M101.3 236.6h.7M98.5 235.9h.7M102.4 238.3h.7M98.9 237.9h.7M102.7 235.8h.7M97.4 237.7h.7M100.6 233.7h.7M100.5 236.1h.7M98.1 240.7h.7M101.3 233.9h.7M104.1 233.7h.7M97.1 235.2h.7M103.7 232h.7M101.4 236.6h.7M98.5 238.6h.7M103.6 234.4h.7M100.3 237.6h.7M100.6 238.8h.7M102.8 235.2h.7M101 235h.7M102.4 233.6h.7M100.2 233.6h.7M108 233.1h.7M100.5 237.1h.7M95 241.8h.7M95.1 240h.7M99.1 238.4h.7M102.4 235.7h.7M103.5 233.9h.7M101.1 235.1h.7M98.1 234.9h.7M101.5 239.2h.7M97.6 236.4h.7M98.1 238.1h.7M93.9 239.6h.7M98 235.2h.7M101.1 236.2h.7M101.3 238.3h.7M95.8 240.7h.7M102 240.5h.7M104.8 235.1h.7M94.1 239.7h.7M105.2 235.5h.7M100.1 233.7h.7M100.5 233h.7M97.8 236.5h.7M101.7 234.2h.7M100.1 236.2h.7M101.2 237h.7M101.9 234.8h.7M100.8 234.6h.7M96.4 236.8h.7M100.3 231.9h.7M102.8 235.7h.7M95.3 236.4h.7M97.5 232.7h.7M94.7 239.8h.7M93.9 244h.7M104.8 237.3h.7M101.9 237.9h.7M104.6 232h.7M105.4 232h.7M99.2 231.1h.7M99.3 233h.7M107.6 233.4h.7M103.2 233.7h.7M103.3 235.8h.7M99.1 237.9h.7M99 234.1h.7M93.8 235.9h.7M102.2 239.4h.7M98.8 235.6h.7M104.6 233.8h.7M101.4 235.7h.7M92.4 237.1h.7M101.3 235.9h.7M99.4 233.7h.7M100.8 235.3h.7M97.1 237.2h.7M101.1 240.4h.7M103.9 232.5h.7M102.9 231.5h.7M92.6 238.2h.7M106.6 234.7h.7M98 238.1h.7M93.5 239h.7M97.1 235h.7M99 235.1h.7M101.4 232.9h.7M101.6 236.5h.7M103 236.2h.7M102.6 237.3h.7M104.4 236.4h.7M104.2 231.4h.7M99.5 239.7h.7M98.3 238.7h.7M103.8 237.3h.7M98.3 237.6h.7M99.9 237.8h.7M94.1 239h.7M104.2 234.2h.7M103.6 237.6h.7M100.8 235h.7M98.5 234.5h.7M98.9 236.4h.7M103.5 233.1h.7M98.1 237.1h.7M99.6 239.2h.7M100.4 239.2h.7M100.6 230.4h.7M99.7 234h.7M100.4 234.1h.7M103.3 234.1h.7M99.1 241.2h.7M99.3 235.7h.7M99.2 238.3h.7M101.1 235.8h.7M104.2 233h.7M102.7 236.8h.7M101.3 234.6h.7M99.9 238.8h.7M91.5 243.7h.7M97.3 239.7h.7M102.1 236.2h.7M102.1 234.3h.7M105.6 233.7h.7M103 234.4h.7M99.3 239h.7M97.2 237.6h.7M97.6 234h.7M103.6 234.6h.7M94.3 238.9h.7M108 234.7h.7M99.6 237.3h.7M99.4 237.1h.7M99.9 236.8h.7M98.8 238.7h.7M96.5 234.3h.7M94.8 237.4h.7M100.7 237.2h.7M102.9 231.6h.7M95.2 240h.7M106.1 234.7h.7M99.9 238.6h.7M105.7 235.7h.7M101 235.2h.7M98.5 236.1h.7M96.4 238.8h.7M103.7 233.9h.7M102.9 236.4h.7M99.9 236.2h.7M105.2 232.1h.7M98.1 236.4h.7M97.9 238.6h.7M102.3 234.6h.7M102.4 231.3h.7M100.7 241.1h.7M103.5 232.4h.7M103.2 233.3h.7M102.3 236.7h.7M95.7 242.4h.7M95.8 237.4h.7M102.6 236.4h.7M101.1 235.1h.7M103 235.7h.7M99.3 239.1h.7M105.5 232.4h.7M99.1 234.5h.7M96.4 238.5h.7M103.5 231.5h.7M99.6 237.2h.7M98.5 239h.7M102.3 235.1h.7M104.2 235.1h.7M104 235.7h.7M99.6 239.8h.7M98.2 238.1h.7M99.3 234.9h.7M96.2 240.7h.7M104.8 236.4h.7M94 240.7h.7M100.8 237.3h.7M101.3 237h.7M101.9 237.8h.7M100.9 234.8h.7M93.2 240.3h.7M93.5 238.3h.7M100.3 235.9h.7M97.9 241.2h.7M95.8 241h.7M99.4 236.4h.7M100.6 237.1h.7M94.7 240h.7M99.9 236.4h.7M100.5 235.9h.7M103.9 232.5h.7M97.9 238.5h.7M99.7 238.5h.7M91.1 240.2h.7M100.6 239.9h.7M103.7 232.5h.7M103.9 232.6h.7M101.4 234.9h.7M95.9 240.1h.7M102.2 234.6h.7M97.6 235.8h.7M99.9 238.8h.7M98.9 236.7h.7M99.1 234.1h.7M99.1 235.4h.7M104.2 234.6h.7M104.5 234h.7M100.9 238.9h.7M101.9 235.6h.7M101.9 236.1h.7M104.1 233h.7M98.9 235h.7M104.3 235.6h.7M99.4 237.9h.7M106.6 234.8h.7M100.1 234.2h.7M102.2 240.9h.7M104.2 233.6h.7M95.3 240.7h.7M97.6 236.6h.7M107.4 231.8h.7M99.6 242.2h.7M105.9 228.4h.7M102.9 234.4h.7M100.9 234.6h.7M101.4 237.1h.7M99.4 238.4h.7M102.8 232.5h.7M106.2 233.6h.7M103.2 237.9h.7M100.3 241.4h.7M97.5 235.3h.7M99.2 240.7h.7M105.6 235.4h.7M97.3 236.8h.7M99.7 236.7h.7M96.7 238h.7M98.8 237.9h.7M97.2 236.5h.7M100.8 237.4h.7M100.6 236.4h.7M99.9 235.1h.7M99 235h.7M102.1 236.2h.7M99.8 234.6h.7M99.1 236.4h.7M103.7 233.8h.7M101 234.4h.7M102.5 234.5h.7M97.6 233.4h.7M99.3 235.9h.7M104.1 231.6h.7M98.4 234.5h.7M102.9 235.5h.7M99.1 238h.7M100.8 234.9h.7M100.2 237.5h.7M103.3 238.4h.7M101.3 235.8h.7M100.6 234.2h.7M99.8 237.6h.7M99.1 236.1h.7M96.2 239.4h.7M103.7 234.5h.7M100.9 236.3h.7M100.5 235.6h.7M103.5 239.4h.7M103.6 235.2h.7M99.2 234.1h.7M103.6 234.1h.7M102.2 234.2h.7M92.4 244.4h.7M96.4 239.3h.7M104.1 230.8h.7M100.9 235.6h.7M95.4 242.3h.7M98.8 238h.7M100.4 240.1h.7M97.4 236.7h.7M101.2 237.2h.7M100.3 238.6h.7M104 235.2h.7M95.9 236.3h.7M95.1 237.7h.7M103.2 238.2h.7M101 237.7h.7M99.1 236.1h.7M102.7 231.5h.7M99.7 234.6h.7M101.1 237h.7M101 238.7h.7M100.6 238.7h.7M101.1 231.5h.7M100.2 234.3h.7M99.2 231.7h.7M99.5 235.8h.7M96.8 237.4h.7M102.9 235h.7M102.5 233.2h.7M105.8 231.5h.7M96.4 238.5h.7M102.2 238h.7M102.7 237h.7M95.4 239h.7M98.4 232.5h.7M105.1 231.3h.7M102.4 236.9h.7M99.3 234.5h.7M104.6 234.1h.7M100.8 236.2h.7M101.4 236.9h.7M100.9 238h.7M100.2 233.4h.7M97.8 238.6h.7M97.5 238h.7M102.7 233.6h.7M100.2 233.5h.7M96.3 239.1h.7M101 233.5h.7M98.9 235.4h.7M99.3 235.3h.7M98.7 241.7h.7M98.7 234.1h.7M99 239.4h.7M99.6 237.9h.7M99.2 235.8h.7M104.9 234.5h.7M98.5 238.5h.7M95.9 235.2h.7M99.4 235.7h.7M100.6 233.4h.7M101.7 235.1h.7M99.5 237.2h.7M99.2 238.9h.7M97.5 238.1h.7M99.8 231.6h.7M97.1 236.6h.7M101.7 232.7h.7M98.5 236h.7M95.7 237.3h.7M103.3 236.6h.7M97 236.1h.7M98 232.8h.7M107.4 231.1h.7M101.2 234.6h.7M99.3 233.4h.7M96.8 237.5h.7M98 238.6h.7M98.5 237.8h.7M101.9 232.8h.7M104.1 233.9h.7M108.1 231.2h.7M103.5 236.1h.7M95.4 235.2h.7M95.6 240.2h.7M100.3 238.1h.7M96.7 239.5h.7M100.1 237.5h.7M102.2 235.4h.7M104.6 231.1h.7M99 238.9h.7M96.9 239.3h.7M100.4 236.7h.7M92.6 238h.7M102.4 232.6h.7M102.7 236.4h.7M90.9 241h.7M96.6 235.7h.7M95.1 239.3h.7M104.2 239.5h.7M104.8 232.9h.7M95 240.9h.7M102.7 235.1h.7M95.8 235.8h.7M99.4 239.7h.7M105.1 231.8h.7M94.6 238.7h.7M102.8 233.3h.7M100.6 237.9h.7M94.8 242.7h.7M104.8 234.1h.7M101.1 236.9h.7M97.9 238.9h.7M100.5 234.4h.7M99.9 235.7h.7M98.7 238.4h.7M102.7 237h.7M98.8 238.3h.7M99.3 240.2h.7M96.8 240h.7M98.5 233.4h.7M102.6 232.3h.7M97.4 237.4h.7M101.6 235.3h.7M101.5 236.2h.7M94.9 241.4h.7M104.8 232.7h.7M102.4 234.5h.7M97.5 236.9h.7M94 237.9h.7M102.3 237.3h.7M101.7 236h.7M98.1 239.2h.7M106.3 234h.7M105.8 233.7h.7M99.5 238.4h.7M100.6 235.5h.7M98.5 237.3h.7M100.1 232.9h.7M101.8 239h.7M101.4 236.6h.7M101.9 237.2h.7M102.7 234.3h.7M96.6 238.9h.7M101.6 234.4h.7M99.4 237.6h.7M105.2 232.5h.7M97.3 237.6h.7M97.7 236.4h.7M97.2 240.1h.7M101.7 235.9h.7M105.3 240.4h.7M102.1 237.1h.7M97.2 238.9h.7M98.3 234h.7M101.5 234.4h.7M104.8 233.4h.7M99.4 234.8h.7M99.7 236.3h.7M102.3 233.6h.7M98 235.1h.7M98.1 236.4h.7M99.8 235h.7M103.1 233.3h.7M101 235.5h.7M101.4 235.8h.7M98.9 236.8h.7M98.6 236.7h.7M103.9 236.2h.7M104.5 232.4h.7M104 235.3h.7M102.3 234.6h.7M105.8 231.7h.7M101 233h.7M99.4 237.4h.7M101 236.4h.7M104.4 232h.7M94.8 241h.7M95.5 237.8h.7M107.6 234.1h.7M99.8 238.3h.7M97.6 239h.7M99 235.4h.7M97.2 236.5h.7M101.1 239.6h.7M103.2 236.7h.7M99.9 239.9h.7M100 239.3h.7M96.4 239.3h.7M97 237.1h.7M99.7 232.7h.7M101.5 235.8h.7M94.9 238.6h.7M99.9 233.1h.7M98.2 239.3h.7M98.9 236.4h.7M99.9 235.9h.7M96.9 237.5h.7M94.1 239.5h.7M99.3 233.9h.7M95.5 238.9h.7M98.9 235.6h.7M98.5 237.5h.7M103.5 233.7h.7M94.3 237.3h.7M97.3 238.5h.7M103.7 235.2h.7M97.6 239.4h.7M98.9 234.4h.7M99.7 240.7h.7M100.2 234.8h.7M102.6 233.4h.7M103.8 235.9h.7M96.2 237.3h.7M99.1 235.1h.7M101.4 235.2h.7M105.6 234.2h.7M103.2 236.7h.7M101.6 237.2h.7M98.1 239.3h.7M103.3 236.9h.7M98.5 235.9h.7M103.9 234.3h.7M108.2 233.4h.7M96.7 239.3h.7M101 231.9h.7M98.4 232.6h.7M108.5 229.8h.7M97.7 236.8h.7M97.8 239.9h.7M99.5 233.7h.7M102.6 235.7h.7M95.9 240.3h.7M96.1 236.4h.7M104.8 232.9h.7M100.4 234.4h.7M99.3 232.5h.7M99.3 235h.7M103.1 233.9h.7M97.6 236.5h.7M94.3 239.9h.7M94.7 236.3h.7M101.1 235.1h.7M106.6 230.2h.7M101.3 239.3h.7M98.3 234.5h.7M103.4 238.4h.7M97.9 239.1h.7M102.4 235.4h.7M102.8 234.4h.7M102.3 234.7h.7M99.8 234.2h.7M100.1 236h.7M97.4 236h.7M99.1 239.6h.7M101.7 236.8h.7M104.4 235.6h.7M105.5 236.5h.7M102.5 234.9h.7M100.7 235.8h.7M98 234.1h.7M101.6 232.8h.7M102.5 238.7h.7M100.6 234.1h.7M98.3 238.4h.7M100 235.4h.7M101.1 233.4h.7M97.1 238.5h.7M98 238.5h.7M98.8 237.1h.7M99.8 239h.7M99.4 236.8h.7M96.8 238.2h.7M99.8 237h.7M94 240.5h.7M100.5 236.7h.7M101.5 237.6h.7M97.3 236.6h.7M101 232.8h.7M107.2 228.7h.7M102 234.4h.7M102.3 238.3h.7M106.1 231.9h.7M100.5 234.5h.7M96 238.5h.7M98.4 234.6h.7M99.3 235.4h.7M96.8 238.3h.7M102 236.1h.7M98.2 235.4h.7M93.2 241.1h.7M103.3 232.9h.7M96 235.8h.7M104.6 233.6h.7M98.9 237h.7M100.3 235.5h.7M99.8 237.7h.7M103.2 232.5h.7M99.9 236.2h.7M100.8 240.7h.7M102.4 236.6h.7M100 237.4h.7M104 236.8h.7M97.7 237.8h.7M101.4 233.4h.7M99.2 235.7h.7M103 234.9h.7M106.5 234.2h.7M99 237.4h.7M100.6 234.4h.7M101.4 232.8h.7M100.9 234.9h.7M100.6 234.6h.7M105.7 232.2h.7M102.8 235.1h.7M103.9 233h.7M96.4 239.5h.7M103.5 235.9h.7M88.4 245.4h.7M104.8 234h.7M97.5 238.6h.7M95 238.1h.7M102.2 238h.7M99.1 236.3h.7M96.1 238h.7M98.1 237.2h.7M98 238.2h.7M100 234.9h.7M102.1 236.4h.7M99.5 236.2h.7M102.8 235.9h.7M99.8 240.3h.7M98.8 234.3h.7M98.3 237.6h.7M94.9 242.6h.7M103.1 232.9h.7M101.5 233h.7M100.2 235.7h.7M105.1 230.1h.7M98.7 233.1h.7M98.8 236.3h.7M100.3 238.3h.7M97.5 236.4h.7M104.8 234h.7M97.3 237.7h.7M96.9 236.1h.7M98.6 233.9h.7M105.8 232.7h.7M101 235.3h.7M100 234.7h.7M101.6 234.7h.7M97.7 239.3h.7M105 234.8h.7M101.9 234.7h.7M100.7 237.4h.7M100.4 238.8h.7M104.7 234.5h.7M101 234.2h.7M98.9 235.5h.7M99.2 234.9h.7M101.5 236.2h.7M99.8 239.7h.7M101.1 235.7h.7M100.9 234.7h.7M102.6 233.2h.7M100.2 240.2h.7M101.2 233.6h.7M96.8 240.1h.7M94.5 242.3h.7M104.4 233.3h.7M101.1 234.8h.7M97.4 238.4h.7M98.2 238.4h.7M101.3 234.4h.7M100.5 236.1h.7M99.8 236h.7M104.1 232.9h.7M100.7 238h.7M101.5 234.8h.7M96.8 237.4h.7M94.2 238.2h.7M100.2 238.8h.7M102.2 237.3h.7M101.7 235.9h.7M95.4 237.4h.7M99.6 236.3h.7M96.4 235h.7M100.8 235.4h.7M100.3 235.7h.7M99.5 234.2h.7M103 235.6h.7M100.2 239.6h.7M98.1 238.9h.7M100.1 236.3h.7M103 234.9h.7M100.2 233.8h.7M101.2 236.5h.7M99 234.5h.7M103.3 235h.7M103.9 234.3h.7M108.2 229.9h.7M102.5 235.4h.7M101 235.4h.7M102 237h.7M100.6 234h.7M103.3 236.7h.7M96.7 238.4h.7M105 235.1h.7M98.7 237.5h.7M101.4 233.5h.7M99.4 235.9h.7M99.3 239.3h.7M94.8 236.8h.7M98.1 239.7h.7M100 235.8h.7M99.6 239.6h.7M106.3 233.7h.7M97.3 237.1h.7M94.9 240.6h.7M99.7 238.6h.7M98.5 235.6h.7M93.7 239.9h.7M103.5 230.4h.7M97 237.6h.7M103.5 238.3h.7M105.4 234.2h.7M95.8 236.7h.7M101.9 235.4h.7M97.8 237.2h.7M100.7 240.3h.7M99.3 237.8h.7M101.2 237.2h.7M98.2 240.1h.7M104.4 235.1h.7M96.9 235.7h.7M99.7 236.2h.7M97.6 237.3h.7M95.5 238.2h.7M96.1 238.7h.7M92.7 238.4h.7M98.9 234h.7M98.9 236.4h.7M104.3 235.5h.7M97.2 240.5h.7M98.7 239.8h.7M97.1 238.9h.7M97.5 240.7h.7M106.5 239h.7M105 234.5h.7M105.9 233.8h.7M98.9 234.8h.7M103 231h.7M98.6 239.5h.7M94.1 240.7h.7M94.3 238.3h.7M100.4 240.9h.7M108 230.9h.7M91.7 238.1h.7M99.9 236.7h.7M93.3 237.1h.7M99.9 237.1h.7M107.7 230.4h.7M96.5 248.5h.7M93.6 242.7h.7M96.7 238.6h.7M104.2 233.6h.7M97.8 237.9h.7M99.1 242.3h.7M105.2 233h.7M104.5 230.7h.7M96 236.5h.7M96.2 238.9h.7M100.1 234.3h.7M100.6 234.8h.7M101.2 237.3h.7M94.1 236.7h.7M103.1 235.4h.7M100.2 235.9h.7M105.7 236h.7M95.9 239.2h.7M94.2 238.1h.7M97.4 235h.7M95.2 242h.7M95 238.2h.7M93.6 243.1h.7M94.8 241.2h.7M101.7 237.8h.7M96.8 231.8h.7M95 238.2h.7M92.6 236.5h.7M100.3 236.8h.7M103.4 236.9h.7M104.5 235.9h.7M98.3 238.1h.7M102.7 238.6h.7M101.7 234.8h.7M94.4 242.1h.7M103.5 232.6h.7M99.1 234.4h.7M99.3 243.4h.7M97.4 236.7h.7M98.7 236.1h.7M100.6 232.1h.7M102.2 233.8h.7M99.1 244.5h.7M104.3 235.8h.7M98.3 239h.7M103 245.5h.7M107.5 238.2h.7M95.5 243h.7M98.2 238.2h.7M97.4 236.9h.7M101.4 236.9h.7M102.2 234.6h.7M95.2 237.7h.7M97.8 238.9h.7M106.9 234.6h.7M97.9 245.1h.7M106.9 236.8h.7M103.3 230.5h.7M97.4 237.9h.7M99 231.6h.7M100.2 242.2h.7M105 235.8h.7M101.3 236.4h.7M89.7 242.6h.7M103.1 231.5h.7M109.1 235.6h.7M101.2 240.7h.7M94.8 238.8h.7M92.5 242.7h.7M101.1 243.2h.7M102.3 234.8h.7M90.2 239.9h.7M97.5 237.8h.7M96.7 237.3h.7M99.6 235.4h.7M95.4 238.1h.7M92.4 233.3h.7M98.7 234.5h.7M92.5 239.5h.7M99 241h.7M96.5 238.3h.7M98.1 235.9h.7M93.1 234h.7M90.9 237.4h.7M95 237.4h.7M90.8 241.4h.7M100.5 233.1h.7M95.8 237.3h.7M101.6 239.7h.7M101.5 238.3h.7M104.4 237.1h.7M99.8 238.6h.7M103.2 236.1h.7M103.4 234h.7M94.1 239.2h.7M101.3 242.4h.7M98.1 234.6h.7M91.1 237.8h.7M97.4 236.7h.7M100.4 236.8h.7M96.3 245.7h.7M96.4 237.5h.7M93.4 237.7h.7M100.1 231.8h.7M97.5 235.7h.7M99.2 239h.7M98.5 240.3h.7M96.6 239.3h.7M94.8 234.2h.7M94.4 238.3h.7M101.1 241.9h.7M100.7 238.5h.7M95.2 243.8h.7M96.1 238.1h.7M107.3 236.7h.7M108.4 231.8h.7M100.7 233h.7M100.5 234.8h.7M104.7 236.6h.7M91.5 239.2h.7M95.5 239h.7M103.4 232h.7M97.9 239.7h.7M95 237.7h.7M96 241.6h.7M102.2 232.7h.7M103.6 240.2h.7M97.5 238.9h.7M101.5 238.4h.7M108.5 233.8h.7M97.6 238.5h.7M98.5 232.1h.7M102.7 236.7h.7M95.3 236.2h.7M92.1 240.6h.7M100.2 237.3h.7M103.1 234.9h.7M93.9 239.5h.7M105.8 238.6h.7M98.9 242.9h.7M94.9 237.3h.7M97.3 244h.7M86.2 243.3h.7M99.2 234.6h.7M100.7 230.8h.7M100 234.1h.7M95.8 239.4h.7M98.5 236h.7M99 235.2h.7M104.6 236.1h.7M100.3 240.9h.7M107.1 229.7h.7M99.6 233.5h.7M101.7 234.5h.7M96 237.7h.7M104 232.5h.7M100.5 235.9h.7M97.5 238.3h.7M106.7 233h.7M99.9 238.1h.7M92.3 239.2h.7M101.3 237.5h.7M99.4 234.2h.7M97.4 239.7h.7M95.8 241.4h.7M100.7 241.4h.7M92 240h.7M92.1 236.8h.7M107.5 236h.7M100.5 233.6h.7M99.1 238.7h.7M104.7 229.1h.7M98.6 234h.7M108.5 238.2h.7M99.1 236.3h.7M105.3 239.7h.7M97.2 240.8h.7M100.3 237.5h.7M92.6 246h.7M98.6 234.3h.7M93.1 244.2h.7M100.2 239.6h.7M99.5 233h.7M98.1 235.3h.7M94.2 239.7h.7M95.8 239.5h.7M99.6 235.6h.7M95.1 238.1h.7M103.5 238.7h.7M104.2 232.7h.7M95.1 239.5h.7M98.8 239.3h.7M100.8 232.4h.7M100 241.4h.7M98.5 237.3h.7M99.2 232.6h.7M102 237.3h.7M102.7 234.2h.7M95.9 235.4h.7M98.3 237.5h.7M101.5 233.5h.7M95.7 235.2h.7M96.8 240.7h.7M102.8 235.9h.7M103.8 236.7h.7M97 240h.7M93.5 237.4h.7M99.9 237h.7M96.1 237.5h.7M94.3 236.9h.7M110.8 234.4h.7M103.2 239.2h.7M92.2 242.2h.7M95.8 234.4h.7M96.6 238.6h.7M103.6 238.7h.7M99.6 240.7h.7M90.2 240.5h.7M101.6 243.5h.7M92 232.7h.7M98 236.9h.7M101.2 235.8h.7M94.9 237.6h.7M100.2 244.2h.7M86.4 238.8h.7M98.1 236.3h.7M92.3 238.5h.7M96.4 238.7h.7M101.4 235.1h.7M101.6 234h.7M96.4 239.3h.7" stroke="#000" stroke-width="0.7" fill="none" opacity="0.8" filter="url(#b)"/>
<g stroke="#6a6a6a" stroke-width="0.65" fill="none">
<path d="M65.2 263.3V215.5H117.8V263.3"/>
<path d="M86.5 215.5V263.3M65.2 247.4H117.8"/>
</g>
<path d="M65.2 263.3H117.8" stroke="#6a6a6a" stroke-width="0.65"/>
<path d="M66.2 215.5V263.3M65.2 262.3H117.8" stroke="#666" stroke-width="1.2" stroke-dasharray="0.5 1.6" fill="none" opacity="0.55"/>
<text transform="translate(59.7 277.4) rotate(-90)" font-size="8.5" textLength="71.4" lengthAdjust="spacingAndGlyphs" class="m">CMV HLA-A*0201</text>
<text x="80.9" y="275.7" font-size="10" textLength="20.3" lengthAdjust="spacingAndGlyphs">CD8</text>
<path d="M88 279.2V300.9" stroke="#111" stroke-width="1.3" fill="none"/>
<path d="M85.45 299.29999999999995L88 304.2L90.55 299.29999999999995L88 300.0Z" fill="#111"/>
<rect x="93" y="279" width="120.7" height="28.0" fill="#fff" stroke="#333" stroke-width="1"/>
<text x="153.6" y="286.6" font-size="7.2" text-anchor="middle" textLength="113" lengthAdjust="spacingAndGlyphs" class="m">Expansion onto feeder layer and</text>
<text x="153.6" y="295.4" font-size="7.2" text-anchor="middle" textLength="102.3" lengthAdjust="spacingAndGlyphs" class="m">immunomagnetic selection of</text>
<text x="153.6" y="304" font-size="7.2" text-anchor="middle" textLength="67.3" lengthAdjust="spacingAndGlyphs" class="m">CD56-positive cells</text>
<path d="M97.4 352.7h.7M95.5 356.7h.7M94.4 348.4h.7M96.9 354.1h.7M95.2 354.6h.7M96 350.5h.7M95.6 355.8h.7M94.5 360.6h.7M95.7 350h.7M97.9 353.8h.7M72.9 352.1h.7M102.9 313.7h.7M62.2 354.5h.7M89 322.3h.7M70.8 345.1h.7M93.8 329.3h.7M70.2 322.6h.7M96 318.8h.7M83.2 349.9h.7M99.1 347.1h.7M62.3 330h.7M82.3 343.8h.7" stroke="#000" stroke-width="0.7" fill="none" opacity="0.5" filter="url(#b)"/>
<clipPath id="cp6"><rect x="61.2" y="312.8" width="52.5" height="49.5"/></clipPath>
<g clip-path="url(#cp6)"><ellipse cx="97.1" cy="324" rx="3.5" ry="4.6" fill="#000" opacity="0.6" transform="rotate(0 97.1 324)" filter="url(#c)"/><ellipse cx="96.3" cy="333" rx="2.2" ry="6" fill="#000" opacity="0.55" transform="rotate(0 96.3 333)" filter="url(#c)"/></g>
<path d="M102.3 325.4h.7M98.9 327.7h.7M94.8 321.7h.7M97 328.2h.7M97.6 320.8h.7M97 319.4h.7M97.8 320.3h.7M95 318.6h.7M95.3 322.8h.7M99.1 323.4h.7M96.6 323h.7M97.3 323.5h.7M94.3 323.9h.7M98.5 319.2h.7M92.6 327.5h.7M96.8 321.9h.7M93.6 323.8h.7M99.6 322.7h.7M97.5 332.5h.7M98.8 324.3h.7M94.4 328.9h.7M99.5 323.7h.7M99 326.7h.7M101 327.9h.7M97.4 327.4h.7M96.7 321.3h.7M96.4 323.3h.7M100 325.1h.7M98.4 322.1h.7M98.9 322.9h.7M93.6 326.9h.7M97.7 329.6h.7M101.1 324.8h.7M94 317.5h.7M97.2 320.3h.7M100.3 326.5h.7M94.4 318.3h.7M100.7 328.5h.7M99.6 330h.7M98.4 322.4h.7M97.7 324.9h.7M95.7 324.4h.7M90.6 320.9h.7M96.6 317.1h.7M97.6 322.6h.7M102.9 329.6h.7M99.3 324.1h.7M92.5 320.9h.7M96.3 328.1h.7M92.2 324.1h.7M100 326.8h.7M94.7 324.3h.7M98 328.4h.7M96.1 323.9h.7M96.7 320.9h.7M95.7 327.2h.7M96.1 322.9h.7M95.4 322h.7M98.8 325.8h.7M98.1 325.4h.7M97.3 327h.7M95.4 323.6h.7M94.4 329h.7M98.9 325.1h.7M98.1 327.1h.7M98.8 326.9h.7M97.1 324.4h.7M99.5 327.2h.7M98.1 328.7h.7M95.3 324.9h.7M94.5 328.6h.7M98.7 324.9h.7M96.1 324.3h.7M91 327.6h.7M98.6 326.7h.7M95.2 323.5h.7M96 324.5h.7M95.5 321.7h.7M101.5 322.5h.7M97.7 326.2h.7M100.2 329.1h.7M96.3 327h.7M99.2 326h.7M92.3 318.6h.7M95.4 330.7h.7M99.5 324.3h.7M97.4 325.7h.7M97.1 327.3h.7M95.3 323.2h.7M96.6 320.4h.7M94.2 321.9h.7M94.2 327.6h.7M99.5 326.4h.7M94.6 325.9h.7M97.4 320h.7M99.8 326.3h.7M98.7 317.5h.7M94.9 331.9h.7M94.9 330.5h.7M98.1 322.8h.7M95.2 321.7h.7M96 316.7h.7M100.4 333.4h.7M97.6 325h.7M95.6 324.2h.7M95.8 328.6h.7M95.2 324.3h.7M100.6 329.7h.7M95.5 318.7h.7M101.5 321.9h.7M96.3 324.9h.7M98.9 323.1h.7M96.2 323.3h.7M94.3 328.2h.7M96 325.3h.7M95.4 327.7h.7M101.7 322.5h.7M97.2 324.6h.7M100.6 322.9h.7M99.8 325.8h.7M99.2 323h.7M95.3 323.7h.7M99.2 324.3h.7M99 330.1h.7M93.4 321.1h.7M95.6 322.4h.7M98.3 320.9h.7M95 324.3h.7M97 325.1h.7M97 319.3h.7M95.8 326.4h.7M97.8 326.2h.7M94.4 322.4h.7M92.9 323.8h.7M94.7 327h.7M96.3 328.7h.7M102.1 325.7h.7M98.1 320.5h.7M95.8 316.4h.7M95.4 332.7h.7M98.6 329.2h.7M96.5 323.8h.7M97.4 323.2h.7M98.2 327h.7M93.8 317.6h.7M96.5 324h.7M93.6 327.1h.7M100.3 326.6h.7M93.7 325.4h.7M94.8 328.1h.7M97.8 326h.7M99.1 326.9h.7M103.2 320h.7M97.4 327.7h.7M99.6 323.1h.7M94.6 330.7h.7M96.7 327.4h.7M98.4 326.8h.7M99.6 325.9h.7M100.1 324.8h.7M94.9 329.7h.7M97.2 327.4h.7M97.3 325.7h.7M100.7 320.4h.7M95 325.7h.7M99.9 325.7h.7M98.3 327.6h.7M102.2 329.8h.7M96.4 319.3h.7M92.9 323.7h.7M94.9 325.1h.7M96.7 316.8h.7M99.4 326.9h.7M95 320.2h.7M100.5 325.6h.7M96.5 321.4h.7M95.4 330.1h.7M95.3 324.7h.7M96.1 324.2h.7M94.1 329.1h.7M97.2 327.5h.7M94.7 324.1h.7M101.8 324.6h.7M96 319.9h.7M95.5 326.6h.7M95.9 322.5h.7M99.7 330.3h.7M96.8 334.1h.7M96.1 323.3h.7M93.2 321.3h.7M95.2 333.1h.7M94.3 324.5h.7M97.4 326.4h.7M91.6 324.1h.7M94.2 324.3h.7M92.4 323.2h.7M96.3 320.7h.7M97.4 326.1h.7M98.9 320.6h.7M93.9 324.8h.7M97.1 322.7h.7M93.1 324.7h.7M99.6 321.5h.7M98.3 320.4h.7M98.6 320h.7M99.5 324.5h.7M99.7 323.3h.7M93.7 321.3h.7M94.6 325.6h.7M95.5 326.7h.7M96.7 323h.7M95.7 323.8h.7M98.2 329.3h.7M95.8 324.9h.7M99.5 329.5h.7M94.9 320.6h.7M95.6 329h.7M95.9 328h.7M96.6 326.8h.7M98 324.3h.7M95.5 325h.7M102.7 321.3h.7M98.9 323.9h.7M93.8 324.4h.7M99.1 320.4h.7M94.3 327.3h.7M93.7 328.8h.7M99.7 322.4h.7M97.4 328.8h.7M99.2 317.8h.7M93.5 325.1h.7M99.7 330.2h.7M98 324.4h.7M94.9 327.2h.7M97.1 331.6h.7M101.6 327.5h.7M95.1 324.5h.7M99.7 325.8h.7M98.3 322.8h.7M91.5 327.3h.7M101.4 323.4h.7M97.6 318.4h.7M100.5 333.2h.7M100.4 321.3h.7M97.4 325.4h.7M97.9 322.8h.7M98.2 325.4h.7M94.3 321.4h.7M101.1 325.7h.7M98.2 331.9h.7M95.5 329.1h.7M99.8 322.3h.7M96.7 326h.7M93.3 319h.7M95.6 329.4h.7M96.5 330.3h.7M93 323.7h.7M97.9 328.7h.7M98.9 328.6h.7M98.8 325.4h.7M100.8 327.7h.7M95.5 327.9h.7M98.6 325.5h.7M98.5 324h.7M96.2 319.3h.7M96.1 329.7h.7M90.9 323.5h.7M98.6 327.1h.7M93.3 324.7h.7M97.7 328.6h.7M97.3 322.6h.7M98.5 325.3h.7M94.4 324.9h.7M97.8 324.6h.7M96 324.8h.7M97.3 327.3h.7M94.4 323.1h.7M98.6 323.4h.7M94.9 320.5h.7M93.7 321.5h.7M96.9 327.1h.7M97.4 325.4h.7M98.5 324.6h.7M94 325.2h.7M97.4 332.1h.7M97.1 332.2h.7M96.7 320.2h.7M96.4 324h.7M96.8 323.7h.7M102.7 325.9h.7M96.7 324.8h.7M97 328.6h.7M97.1 328.1h.7M94.8 325.7h.7M96.8 325.5h.7M94.2 322.7h.7M93.3 326.4h.7M100.1 324.8h.7M93.7 323.7h.7M99.7 319.3h.7M96.3 325.2h.7M95.9 325.8h.7M98.1 326.1h.7M99.2 328.5h.7M93.3 321.2h.7M96.5 325.2h.7M97.5 321h.7M94 330.9h.7M97.4 326.1h.7M101.2 318.4h.7M97.6 324.1h.7M96.8 329.6h.7M96.8 320h.7M94.3 320.4h.7M99.8 322.8h.7M94.3 324.2h.7M93.8 326.4h.7M97.3 325.6h.7M99.8 323.5h.7M99.2 319.2h.7M99.3 331.1h.7M95.1 327.6h.7M94.6 325.3h.7M98.3 323.1h.7M94.4 324.5h.7M96.9 326.2h.7M97.2 319h.7M99.7 326.5h.7M93.5 324.4h.7M99.6 332.1h.7M96.7 323h.7M100 324.7h.7M97 319.5h.7M94.6 326.3h.7M101.5 326.2h.7M96.7 323.6h.7M94.3 320.8h.7M98.9 331.2h.7M96.3 322h.7M93.3 323.4h.7M99.5 319.3h.7M96.3 329.1h.7M100.8 322.5h.7M97.7 326.6h.7M97.5 324.6h.7M97.5 325.5h.7M96.6 324.2h.7M96.2 332.7h.7M97.1 328.6h.7M94.9 329.9h.7M99.6 325.4h.7M103 327.7h.7M101.5 321.9h.7M91.7 327.5h.7M97.2 322.7h.7M94.6 326.8h.7M99.1 328.7h.7M97 323.5h.7M93.8 321.6h.7M100.3 320.4h.7M96.8 323.2h.7M95.4 320.5h.7M96.1 326.5h.7M96.4 326h.7M95.4 321.4h.7M99 324.5h.7M96.4 326.7h.7M99.4 323h.7M97.2 324.1h.7M100.3 320.3h.7M95.3 324.6h.7M91.2 319.7h.7M98.2 328.7h.7M101 323.9h.7M98.3 325h.7M95.2 325.7h.7M96.9 329.3h.7M96.4 320h.7M97.7 322.8h.7M97.3 326.2h.7M92.8 319.1h.7M97.9 327.7h.7M95.6 324.7h.7M98.2 322.9h.7M96.8 323.1h.7M99.5 324.8h.7M94.7 325.7h.7M95.3 323.8h.7M94 324.1h.7M98.9 327.3h.7M98.5 321.9h.7M97 324.7h.7M96.5 323.9h.7M93.4 331.3h.7M95.2 325.3h.7M97.5 321.1h.7M95.6 326.1h.7M97 326.7h.7M94.6 324.6h.7M94.8 324.9h.7M95.5 323.1h.7M98.4 328.6h.7M96.9 325.7h.7M94.8 323.2h.7M96 326.2h.7M101.2 318.5h.7M99.8 329.6h.7M98.4 323.7h.7M98.8 319.9h.7M93.8 325.4h.7M95.6 327.4h.7M94.9 318.6h.7M96.7 326.8h.7M93.5 325.1h.7M97.3 326.3h.7M99 325.8h.7M95.4 320.4h.7M98.5 324h.7M99.3 329h.7M95.6 323h.7M100.1 325.6h.7M94.4 324.3h.7M96.1 329.1h.7M94 322.6h.7M99 327.8h.7M97.6 323.1h.7M98.7 325.8h.7M97.2 320.5h.7M92.8 323.5h.7M96 329h.7M102.7 320.2h.7M95.2 327.7h.7M99.4 327.6h.7M96.7 323.1h.7M96 320.2h.7M95.4 322.2h.7M99.8 329.7h.7M97.7 319.5h.7M96.6 323.1h.7M99.9 321.5h.7M98 324.7h.7M99.1 322.9h.7M101 326h.7M96.6 324.1h.7M95.9 328.6h.7M99 324h.7M103.8 326.5h.7M99.3 330.3h.7M99.7 326.4h.7M94.7 321.8h.7M99 324.6h.7M96.4 329.2h.7M98.8 329.8h.7M96.4 321.5h.7M96.8 327.9h.7M94.5 324.8h.7M98.5 325.6h.7M98.2 316.4h.7M98.3 328.2h.7M94.9 326h.7M97 324.8h.7M105 323.8h.7M94.1 322.2h.7M95.4 325.1h.7M98 323.2h.7M102.9 326.5h.7M97.1 323.6h.7M97.6 321.9h.7M96.6 323h.7M98.9 322.2h.7M94.3 323.4h.7M99.7 326.2h.7M96.1 324.5h.7M95.1 322.1h.7M97.8 322.5h.7M95 323.7h.7M97.2 326.7h.7M95.9 325.6h.7M98.1 330.8h.7M97.4 317.3h.7M97.8 321.3h.7M97.9 325.4h.7M94.5 316.8h.7M98.3 322.1h.7M99.6 320h.7M93.9 319.8h.7M97.7 329.9h.7M97.5 320.7h.7M98.4 319.9h.7M97.2 330h.7M96.9 319.9h.7M97 326.1h.7M93.3 326.5h.7M97.2 317h.7M98.3 321.2h.7M95.9 328.8h.7M98.6 322.9h.7M98.8 331.8h.7M100.7 323h.7M101.4 323.9h.7M94.4 321.5h.7M92.4 322.7h.7M96.7 330.9h.7M96.3 321.5h.7M98 325.1h.7M99.8 321.1h.7M98.8 321.3h.7M95.9 328.1h.7M95.7 326.5h.7M96 328.1h.7M97.8 326.5h.7M101 320.8h.7M98.9 325.5h.7M94.6 324.6h.7M97.9 320.9h.7M95.9 329.2h.7M96.3 320.1h.7M102.8 330.7h.7M95.9 326.3h.7M96.3 326.2h.7M98.8 332.5h.7M99.3 331.8h.7M97.6 322.4h.7M97.9 324.1h.7M90.8 329.6h.7M95.4 331.2h.7M93.7 323.3h.7M101.1 322.3h.7M97.3 330.1h.7M94.7 328.2h.7M97.6 322.2h.7M97.2 326.8h.7M101.5 333.1h.7M97.8 323.1h.7M97.9 325.8h.7M94.5 320.2h.7M95.2 324.5h.7M96.9 327.4h.7M96.4 324.6h.7M99.9 320.5h.7M92.8 329.7h.7M99.5 322h.7M100.1 326h.7M95.4 330.6h.7M93.3 322.2h.7M97.3 327.5h.7M97.3 328.1h.7M94.5 324h.7M100.5 323.8h.7M95.7 322.8h.7M97.1 324h.7M91.5 318.7h.7M100.8 329.4h.7M96.8 328h.7M95.4 327h.7M99.5 323.2h.7M96.5 325.9h.7M99.7 323.2h.7M98.8 324.7h.7M95.6 328.8h.7M100.6 320.6h.7M97.5 323.7h.7M94.2 325.2h.7M96.9 322.7h.7M93.9 327.5h.7M99.7 325.1h.7M92.1 327.1h.7M101.1 324.6h.7M93.1 320.5h.7M96.8 323.4h.7M96.3 324.8h.7M98.8 330.2h.7M98.2 324.1h.7M95.8 319.4h.7M100.5 323.6h.7M96.8 320.1h.7M98.1 324.6h.7M95.2 326.4h.7M102.7 323.9h.7M96.6 326.9h.7M95.4 323.8h.7M100.8 324h.7M97.5 321.7h.7M94 323.8h.7M96.8 320.7h.7M95.8 326h.7M97.6 330.7h.7M95.3 320.8h.7M98.1 323.5h.7M98.5 322.3h.7M92.7 331.2h.7M96 327h.7M100.9 323.2h.7M93.7 325.7h.7M98.7 326.6h.7M93 323.8h.7M102.3 320.5h.7M100.2 319.7h.7M95.6 320.5h.7M99.7 328.2h.7M98.4 321.9h.7M98.3 326.5h.7M100.9 320.5h.7M96.8 327h.7M96.7 321.3h.7M96.1 332.2h.7M99.1 328.8h.7M98.2 324.5h.7M96.3 324h.7M96.4 323.9h.7M94.1 323.3h.7M97.3 321.4h.7M100.5 330.4h.7M94.9 320.8h.7M91.6 324.9h.7M95.4 324.2h.7M93.3 325.8h.7M94.6 325.5h.7M96.3 327.4h.7M95.6 327.3h.7M96 320.5h.7M99.4 325h.7M100.9 324.9h.7M96.7 331.6h.7M95 320.6h.7M97.9 320.3h.7M96.8 318.8h.7M100.4 327.1h.7M98.1 322.6h.7M93.6 329.7h.7M98.7 323.7h.7M94.3 324.9h.7M95.7 323.7h.7M93.6 329.5h.7M97.5 331.8h.7M98 324.6h.7M98.7 323.4h.7M99.1 327.6h.7M100.3 324.8h.7M96.7 329.4h.7M96.7 322.8h.7M99.6 323.4h.7M99.2 328.9h.7M95.1 324.8h.7M97.4 324.4h.7M96.4 329.5h.7M97.4 325.5h.7M96.4 331.4h.7M96.9 337.8h.7M94.7 336h.7M98.7 337.3h.7M98.6 334.3h.7M95.5 331.7h.7M96.1 343.6h.7M96.1 330.4h.7M98.4 338.5h.7M97 335.8h.7M95.6 328.6h.7M96.1 332h.7M93.9 344.5h.7M95.8 330h.7M96 335.6h.7M96.4 339.8h.7M96.1 340.5h.7M96.2 334.2h.7M96.7 334.1h.7M94.9 326.7h.7M93.7 331.4h.7M95.4 333h.7M96.5 338h.7M93.6 330.7h.7M97.1 330.1h.7M96.9 330.5h.7M94.2 330.6h.7M95.5 327.2h.7M95.9 330.7h.7M97.9 328.2h.7M97 330.9h.7M95.2 336.3h.7M97.4 329.4h.7M94.2 327.4h.7M95 337.7h.7M94.9 334.1h.7M94.2 333.5h.7M98.1 336.7h.7M95.7 336.1h.7M94.8 326.6h.7M95.1 326.3h.7M97 337.8h.7M96.4 335.5h.7M95.9 331.8h.7M97.3 329.4h.7M93.4 336.9h.7M95 341.9h.7M95.7 327.7h.7M97 329.1h.7M94.6 338.7h.7M97.5 340h.7M99.1 339.9h.7M97.5 332.5h.7M95 339.5h.7M98.1 332.4h.7M94.5 335.5h.7M98.7 339.2h.7M94.8 328.3h.7M96.7 331.9h.7M95.6 340.2h.7M97.2 338.7h.7M95 333.6h.7M98.1 336.5h.7M98.4 338.4h.7M96.9 332.1h.7M95.1 329.1h.7M95.2 331.7h.7M96.4 344.1h.7M96.4 331.8h.7M96.7 337.9h.7M95.5 334.7h.7M98.3 329.7h.7M95.7 337.8h.7M96.9 336.6h.7M96.3 342.8h.7M95.7 333.4h.7M97.4 331.6h.7M98.9 335.5h.7M96.3 326.2h.7M98.9 340h.7M97.4 339.1h.7M98.8 333.4h.7M94.5 337.9h.7M94 333h.7M93.1 329.4h.7M96.3 329.6h.7M96.3 327.3h.7M96.2 340.4h.7M95.4 332.7h.7M94.5 331.8h.7M93.4 332.9h.7M95.2 325.1h.7M97.9 341.3h.7M96.4 333.4h.7M93.4 337.7h.7M95.6 343.7h.7M99 336.8h.7M98.5 333.2h.7M94.3 333.7h.7M95.2 336.2h.7M96.1 329.5h.7M95.9 333h.7M100.6 333.3h.7M95.9 340.9h.7M93.7 331.8h.7M97.3 341.5h.7M94.1 334.9h.7M96 332.9h.7M93.7 333.3h.7M97.3 337.6h.7M95.3 333.3h.7M96.5 330.6h.7M94.3 334.9h.7M97.8 340.4h.7M97.2 333.9h.7M96.7 327.7h.7M95.6 325.1h.7M95.4 326.6h.7M97.4 343.7h.7M95.9 329.8h.7M96.6 330.7h.7M97.3 327.8h.7M98.4 340.7h.7M96 329.2h.7M96.8 329.2h.7M96.7 333.1h.7M98.4 337h.7M94.4 333.9h.7M95.3 339.7h.7M98.1 333.5h.7M96.6 329.5h.7M94.4 334.9h.7M97 330.5h.7M98.9 335.9h.7M99 326.9h.7M95.7 335.9h.7M97.4 335.3h.7M95 332.6h.7M94.1 336.6h.7M94.8 334.6h.7M97.9 340.9h.7M98.2 334.7h.7M92.8 333.3h.7M94.6 338.2h.7M93.4 333.2h.7M92.4 332.3h.7M95.5 333.1h.7M97 333.1h.7M97.8 335.1h.7M95 328.9h.7M98.2 337h.7M95.6 327.5h.7M95.1 331.8h.7M97 334.7h.7M97.5 337.5h.7M95.1 329.6h.7M95.6 330.3h.7M97.1 339.1h.7M97 330.2h.7M98.3 341.8h.7M98.1 337.8h.7M95 336.7h.7M97.2 332h.7M97.7 325.1h.7M98.7 323h.7M96.4 332.1h.7M96 335.6h.7M95.9 338.5h.7M93.4 338.9h.7M98.7 331.9h.7M93.1 332.7h.7M96.7 334.4h.7M97.8 330.4h.7M97.8 328.8h.7M94.8 332.6h.7M96.2 323.5h.7M95.1 333.3h.7M95.2 335.9h.7M97 330.5h.7M94.8 332.5h.7M99.5 338.2h.7M95 327.9h.7M94.6 343.4h.7M94.7 334.7h.7M98.6 335.9h.7M95 328.8h.7M97.5 337.2h.7M95.9 334.1h.7M98.2 334.8h.7M98.2 338h.7M96.8 341.5h.7M95.6 337.5h.7M94.7 339.3h.7M93.6 328.8h.7M94.9 342.4h.7M96.9 342h.7M97.5 327.9h.7M96.4 335.7h.7M95.5 338h.7M97.5 333.3h.7M95.6 329.7h.7M100.3 340.4h.7M96.4 335.9h.7M96.6 334.8h.7M96.1 333.4h.7M96.2 330.9h.7M95.4 341.8h.7M98.1 339.7h.7M99.3 332.8h.7M96.1 336.4h.7M96.6 332.4h.7M94.8 338.2h.7M97.2 328.7h.7M94.9 334h.7M95.5 327.2h.7M97 329.6h.7M96.4 329.6h.7M97.5 338.7h.7M97.2 334.6h.7M97.8 333.8h.7M100.2 330.2h.7M94.6 341.6h.7M98.9 330.4h.7M95.8 338.4h.7M95.2 327.8h.7M97.8 331.4h.7M96.2 332.4h.7M97.1 331h.7M96.2 333.1h.7M94.8 336.6h.7M94.4 334.3h.7M99.4 333.3h.7M95.9 334.9h.7M97.1 341.4h.7M95.9 328.7h.7M96.2 330.9h.7M94.5 334.6h.7M95.4 338.1h.7M97.8 337.8h.7M95.1 329.6h.7M97 325.7h.7M95.2 330.2h.7M95.3 336.8h.7M96.8 333.1h.7M97.3 337.1h.7M97.2 339.6h.7M98.7 332.4h.7M94.5 332.3h.7M94.9 337.2h.7M96 330.1h.7M96.6 336.6h.7M98.3 334.8h.7M95.9 331.4h.7M94.7 331.6h.7M96.9 335.6h.7M96.7 324.3h.7M95.7 339.4h.7M94.5 336h.7M95.4 338.5h.7M97 336.6h.7M97.3 338.3h.7M94.7 330.1h.7M95.4 339.5h.7M93 338h.7M95.8 335.7h.7M95 335.4h.7M97.5 327.6h.7M98 332.4h.7M96.5 327.6h.7M96.9 334.8h.7M99.3 327.6h.7M95.9 334.9h.7M97.1 341.6h.7M94.6 339h.7M95.9 330.5h.7M97.2 335.3h.7M96.2 337h.7M93.9 334.1h.7M95.1 333.5h.7M96.6 333.3h.7M96.8 329.6h.7M96.3 333.5h.7M100.2 335.9h.7M94.4 334.6h.7M99.4 336.5h.7M94.1 341.9h.7M97.5 336.4h.7M98.5 326.4h.7M96.7 332.8h.7M96.8 325.7h.7M98.1 328.9h.7M97.1 338.4h.7M96.5 334.6h.7M94.3 331h.7M96.7 332.7h.7M97.3 329.6h.7M96.2 330.3h.7M93.7 334.5h.7M96.1 334.9h.7M95.5 340h.7M100.8 339.9h.7M94.3 333.3h.7M98.6 337.7h.7M94.8 332.1h.7M96.4 331.6h.7M96.6 342.6h.7M98 343.2h.7M98.4 322.1h.7M97.1 328.4h.7M97 341.3h.7M97 323.6h.7M96.3 332.3h.7M97.7 328.1h.7M95.8 333.3h.7M96.4 335.4h.7M98 334.6h.7M98.7 335h.7M100 337.6h.7M96.5 329.4h.7M95.7 331.9h.7M98.4 332.6h.7M96.2 335.8h.7M96.2 337.1h.7M95.4 330.7h.7M95.9 338.1h.7M94.7 325h.7M96.4 331.5h.7M96.9 332.9h.7M98.8 335.3h.7M95.5 332.8h.7M98.9 331.2h.7M96.8 341h.7M97.5 338h.7M94.6 334.7h.7M98.6 337h.7M93.4 339h.7M97.6 334.6h.7M97.5 329.7h.7M98.7 339.8h.7M97.6 338h.7M94.4 333.2h.7M96.3 337h.7M94.3 334.4h.7M98.2 330h.7M98.9 336.2h.7M95.5 330.1h.7M98.8 331.8h.7M95.1 333.4h.7M98 339.2h.7M95.7 325.3h.7M98.6 334.3h.7M95.8 334.2h.7M93.7 340.6h.7M97 342.8h.7M94.1 330.1h.7M93.8 339.5h.7M95.3 334.7h.7M95 328.8h.7M95.2 335.1h.7M95.5 331.9h.7M96.4 331.5h.7M96.2 329h.7M93.8 328.2h.7M94.5 337h.7M93.8 328.3h.7M100.4 332h.7M98.1 329.9h.7M95.7 332.8h.7M95.5 335.9h.7M96.5 338.6h.7M95.8 335.1h.7M94.9 338.8h.7M94.2 327.8h.7M95.1 331h.7M93.6 326.3h.7M94.7 334.4h.7M98.8 330.8h.7M94.8 334.2h.7M97.6 339.6h.7M97.4 330.9h.7M97.6 324.1h.7M96.7 340.9h.7M97.7 343.8h.7M95.5 334.4h.7M96.1 337.4h.7M98.1 333.6h.7M97.3 335.5h.7M96.6 328h.7M96.6 337.6h.7M95.4 327h.7M97.9 340.8h.7M95.9 338.3h.7M94.1 339.3h.7M95.8 338.9h.7M94.4 335.1h.7M95.2 325.7h.7M93.7 336.2h.7M95.4 337.1h.7M96.9 337.2h.7M95.7 331.1h.7M95.9 335.6h.7M95 336.2h.7M96.3 333.9h.7M98.4 337.9h.7M93.4 329h.7M99.7 340.5h.7M96.6 330h.7M94.9 335.2h.7M98.3 331.7h.7M97.3 336.1h.7M95.2 337.9h.7M93.2 333h.7M95.4 341.1h.7M95.5 328.3h.7M95.2 325.8h.7M97 328.2h.7M97 334.6h.7M96.7 334.4h.7M97 337.7h.7M94.5 336.1h.7M93.9 332.5h.7M94.4 339.2h.7M96.9 331.9h.7M95.8 329.4h.7M97.3 330.1h.7M97.2 339.3h.7M93.1 341.5h.7M97.7 339.6h.7M94.8 326.7h.7M95.7 332.4h.7M96.5 328.7h.7M100.1 336.6h.7M97 334.8h.7M93.2 337.1h.7M95.3 326.7h.7M94.7 332.6h.7M98.5 340.6h.7M94.8 337.7h.7M96.3 337.1h.7M96.3 331.4h.7M94.1 336h.7M94.9 330.4h.7M97.4 343.2h.7M98.9 331.4h.7M99.2 326.2h.7M97.4 334.9h.7M95.9 335.2h.7M94.4 330h.7M93.7 328.9h.7M94.3 331h.7M96.4 326.5h.7M96.7 333.5h.7M95.4 332.2h.7M97.5 326.6h.7M96.3 332.6h.7M96.9 336h.7M99.4 333h.7M97.6 328h.7M94 330h.7M92.9 336.7h.7M95.8 329.8h.7M96.4 339.7h.7M95 334.2h.7M98.4 340.9h.7M97.6 332.6h.7M97 333.9h.7M95 329.1h.7M96.6 326.8h.7M94.5 329.5h.7M97.6 329.9h.7M95.5 329.8h.7M96.4 337.3h.7M100 338.8h.7M96.6 329.1h.7M98.2 323.3h.7M98.9 333.9h.7M94.8 336.8h.7M97.2 336h.7M95.7 326.4h.7M98 335.4h.7M93.2 332.2h.7M100.6 332h.7M89.2 327.7h.7M98.9 338h.7M93.5 332.8h.7M93.3 334.4h.7M96 336.1h.7M95.7 330.4h.7M95.6 334.4h.7M98.1 318.1h.7M94.2 337.4h.7M92.8 334.3h.7M96.9 335.2h.7M97.1 328.5h.7M99.7 323.4h.7M98.9 326.2h.7M94.8 337.4h.7M94.3 331.5h.7M96.1 325.4h.7M95.6 317.3h.7M93.2 329.4h.7M97.7 329.4h.7M91 329.8h.7M100.9 331.7h.7M96.8 331.2h.7M95.1 325.8h.7M95.4 332h.7M92.2 337.2h.7M96 340.9h.7M95.7 336.9h.7M91.2 334.5h.7M94.9 329.3h.7M91.7 338.2h.7M96.2 337.8h.7M99.1 325.4h.7M89.4 331.5h.7M94.5 323.5h.7M94.7 328.4h.7M92.7 331.3h.7M93.5 331.3h.7M99.4 336.1h.7M96.7 339.8h.7M95.7 332.2h.7M95.5 320.6h.7M95.6 323.1h.7M100.6 333.2h.7M92.9 337.4h.7M95.7 325.6h.7M99 335.8h.7M97.6 339.6h.7M90.8 324.6h.7M94.4 332h.7M92.3 327.7h.7M97.3 346.6h.7M97.7 322.2h.7M98.9 334h.7M96.6 327.5h.7M92.2 325.1h.7M101.7 337.4h.7M92 331h.7M91.4 327.1h.7M96.2 343.3h.7M90.4 341.4h.7M98.5 322.8h.7M92.5 339.5h.7M102.2 336.7h.7M96.3 335.1h.7M93.3 327.4h.7M92.4 329.9h.7M94 332.2h.7M93.9 338.8h.7M91.5 337.1h.7M96.2 339h.7M95.2 342.7h.7M94.1 342.8h.7M92.3 335.5h.7M96.5 330h.7M96.4 330.7h.7M96.7 333.6h.7M91 331.3h.7M97.7 324.9h.7M97.1 334.9h.7M98.7 331.6h.7M92.5 327.6h.7M93.6 338h.7M99.3 334.4h.7M93.7 338.5h.7M91.5 339.4h.7M94.3 332.3h.7M92.1 337.5h.7M97.3 339.8h.7M94.1 345.6h.7M87.4 332.2h.7M96.9 336.2h.7M93.3 332.8h.7M93.6 335.4h.7M96.1 326.1h.7M98.5 320.7h.7M94.3 335.2h.7M88.8 323.9h.7M101.2 338.1h.7M91.9 331.2h.7M96.4 350h.7M95.9 335.9h.7M96.4 328.1h.7M95.3 330.6h.7M94.6 331.3h.7M93.1 325.4h.7M96.1 335.6h.7M100.8 345.6h.7M94.6 331.3h.7M96.6 335.1h.7M93.9 328.3h.7M105 331.4h.7M90.1 327.5h.7M97.1 331.5h.7M92.2 326.8h.7M103.1 323.1h.7M99.2 332.4h.7M99.9 333h.7" stroke="#000" stroke-width="0.7" fill="none" opacity="0.8" filter="url(#b)"/>
<g stroke="#444" stroke-width="0.7" fill="none">
<path d="M61.2 362.3V312.8H113.7V362.3"/>
<path d="M82.7 312.8V362.3M61.2 348.6H113.7"/>
</g>
<path d="M61.2 362.3H113.7" stroke="#444" stroke-width="0.7"/>
<path d="M62.2 312.8V362.3M61.2 361.3H113.7" stroke="#666" stroke-width="1.2" stroke-dasharray="0.5 1.6" fill="none" opacity="0.55"/>
<text transform="translate(57.6 349.4) rotate(-90)" font-size="10" textLength="24.5" lengthAdjust="spacingAndGlyphs">CD56</text>
<text x="77" y="372.4" font-size="10" textLength="20.2" lengthAdjust="spacingAndGlyphs">CD3</text>
<text x="221.3" y="12.8" font-size="14" class="l">B</text>
<g stroke="#b4b4b4" stroke-width="1" fill="none">
<path d="M274.8 5.8V101.6M271.3 101.6H520"/>
<path d="M271.3 101.6H274.8"/>
<path d="M271.3 82.4H274.8"/>
<path d="M271.3 63.3H274.8"/>
<path d="M271.3 44.1H274.8"/>
<path d="M271.3 25.0H274.8"/>
<path d="M271.3 5.8H274.8"/>
<path d="M336.0 101.6v3"/>
<path d="M397.2 101.6v3"/>
<path d="M458.4 101.6v3"/>
<path d="M519.6 101.6v3"/>
</g>
<text x="266.2" y="105.3" font-size="9.6" text-anchor="end" textLength="5.56" lengthAdjust="spacingAndGlyphs">0</text>
<text x="266.2" y="86.15" font-size="9.6" text-anchor="end" textLength="11.12" lengthAdjust="spacingAndGlyphs">20</text>
<text x="266.2" y="67.0" font-size="9.6" text-anchor="end" textLength="11.12" lengthAdjust="spacingAndGlyphs">40</text>
<text x="266.2" y="47.85" font-size="9.6" text-anchor="end" textLength="11.12" lengthAdjust="spacingAndGlyphs">60</text>
<text x="266.2" y="28.7" font-size="9.6" text-anchor="end" textLength="11.12" lengthAdjust="spacingAndGlyphs">80</text>
<text x="266.2" y="9.55" font-size="9.6" text-anchor="end" textLength="16.68" lengthAdjust="spacingAndGlyphs">100</text>
<text transform="translate(247.3 96.6) rotate(-90)" font-size="10.5" textLength="82.5" lengthAdjust="spacingAndGlyphs">% Specific Lysis</text>
<rect x="288.0" y="85.3" width="18.0" height="16.3" fill="#888" stroke="#3c3c3c" stroke-width="1"/>
<rect x="306.0" y="97.8" width="18.0" height="3.8" fill="#fff" stroke="#3c3c3c" stroke-width="1"/>
<path d="M297.0 83.2V87.5M294.4 83.2H299.6M294.4 87.5H299.6" stroke="#222" stroke-width="0.9" fill="none"/>
<path d="M315.0 92.5V101.5M312.4 92.5H317.6M312.4 101.5H317.6" stroke="#222" stroke-width="0.9" fill="none"/>
<rect x="349.3" y="30.2" width="18.0" height="71.4" fill="#888" stroke="#3c3c3c" stroke-width="1"/>
<rect x="367.3" y="41.2" width="17.8" height="60.4" fill="#fff" stroke="#3c3c3c" stroke-width="1"/>
<path d="M358.3 26.4V32.8M355.7 26.4H360.9M355.7 32.8H360.9" stroke="#222" stroke-width="0.9" fill="none"/>
<path d="M376.2 36.5V45.2M373.6 36.5H378.8M373.6 45.2H378.8" stroke="#222" stroke-width="0.9" fill="none"/>
<rect x="410.3" y="88.2" width="17.7" height="13.4" fill="#888" stroke="#3c3c3c" stroke-width="1"/>
<rect x="428.0" y="100.2" width="17.3" height="1.4" fill="#fff" stroke="#3c3c3c" stroke-width="1"/>
<path d="M419.1 83.8V92.5M416.5 83.8H421.8M416.5 92.5H421.8" stroke="#222" stroke-width="0.9" fill="none"/>
<path d="M436.6 98.1V101.3M434.0 98.1H439.2M434.0 101.3H439.2" stroke="#222" stroke-width="0.9" fill="none"/>
<rect x="471.8" y="90.4" width="17.8" height="11.2" fill="#888" stroke="#3c3c3c" stroke-width="1"/>
<rect x="489.6" y="93.7" width="17.2" height="7.9" fill="#fff" stroke="#3c3c3c" stroke-width="1"/>
<path d="M480.7 87.7V93.3M478.1 87.7H483.3M478.1 93.3H483.3" stroke="#222" stroke-width="0.9" fill="none"/>
<path d="M498.2 89.0V97.3M495.6 89.0H500.8M495.6 97.3H500.8" stroke="#222" stroke-width="0.9" fill="none"/>
<rect x="285.3" y="4.8" width="6.6" height="6.6" fill="#888" stroke="#444" stroke-width="0.9"/>
<rect x="285.3" y="19.4" width="6.6" height="6.6" fill="#fff" stroke="#444" stroke-width="0.9"/>
<text x="294.8" y="11.6" font-size="10" textLength="20.4" lengthAdjust="spacingAndGlyphs">30:1</text>
<text x="294.8" y="26.2" font-size="10" textLength="20.4" lengthAdjust="spacingAndGlyphs">10:1</text>
<text x="366.7" y="24.2" font-size="9.5" text-anchor="middle" textLength="11.6" lengthAdjust="spacingAndGlyphs" class="s">***</text>
<text x="277.3" y="113.4" font-size="10.3" textLength="52.8" lengthAdjust="spacingAndGlyphs">autoT-PHA</text>
<text x="281.1" y="126.1" font-size="10.3" textLength="45.5" lengthAdjust="spacingAndGlyphs">unpulsed</text>
<text x="340.1" y="113.5" font-size="10.3" textLength="52.8" lengthAdjust="spacingAndGlyphs">autoT-PHA</text>
<text x="333.9" y="126.1" font-size="10.3" textLength="64.9" lengthAdjust="spacingAndGlyphs">pCMV pulsed</text>
<text x="405.9" y="113.5" font-size="10.3" textLength="53" lengthAdjust="spacingAndGlyphs">autoT-PHA</text>
<text x="400.4" y="126.1" font-size="10.3" textLength="63.4" lengthAdjust="spacingAndGlyphs">pEBV pulsed</text>
<text x="469.9" y="113.5" font-size="10.3" textLength="48.8" lengthAdjust="spacingAndGlyphs">alloT-PHA</text>
<text x="472" y="126.1" font-size="10.3" textLength="45" lengthAdjust="spacingAndGlyphs">unpulsed</text>
<text x="221.3" y="138.4" font-size="14" class="l">C</text>
<g stroke="#b4b4b4" stroke-width="1" fill="none">
<path d="M275.1 143.2V237.4M271.6 237.4H503.6"/>
<path d="M271.6 237.4H275.1"/>
<path d="M271.6 213.8H275.1"/>
<path d="M271.6 190.3H275.1"/>
<path d="M271.6 166.8H275.1"/>
<path d="M271.6 143.2H275.1"/>
<path d="M351.2 237.4v3"/>
<path d="M427.4 237.4v3"/>
<path d="M503.6 237.4v3"/>
</g>
<text x="266.4" y="240.8" font-size="9.6" text-anchor="end" textLength="5.56" lengthAdjust="spacingAndGlyphs">0</text>
<text x="266.4" y="217.25" font-size="9.6" text-anchor="end" textLength="11.12" lengthAdjust="spacingAndGlyphs">20</text>
<text x="266.4" y="193.7" font-size="9.6" text-anchor="end" textLength="11.12" lengthAdjust="spacingAndGlyphs">40</text>
<text x="266.4" y="170.15" font-size="9.6" text-anchor="end" textLength="11.12" lengthAdjust="spacingAndGlyphs">60</text>
<text x="266.4" y="146.6" font-size="9.6" text-anchor="end" textLength="11.12" lengthAdjust="spacingAndGlyphs">80</text>
<text transform="translate(247.4 232.8) rotate(-90)" font-size="10.5" textLength="84" lengthAdjust="spacingAndGlyphs">% Specific Lysis</text>
<rect x="290.8" y="155.0" width="22.8" height="82.4" fill="#888" stroke="#3c3c3c" stroke-width="1"/>
<rect x="313.6" y="196.2" width="21.9" height="41.2" fill="#fff" stroke="#3c3c3c" stroke-width="1"/>
<path d="M302.2 149.2V160.8M299.6 149.2H304.8M299.6 160.8H304.8" stroke="#222" stroke-width="0.9" fill="none"/>
<path d="M324.6 191.5V201.2M321.9 191.5H327.2M321.9 201.2H327.2" stroke="#222" stroke-width="0.9" fill="none"/>
<rect x="367.3" y="172.6" width="21.8" height="64.8" fill="#888" stroke="#3c3c3c" stroke-width="1"/>
<rect x="389.1" y="208.0" width="21.6" height="29.4" fill="#fff" stroke="#3c3c3c" stroke-width="1"/>
<path d="M378.2 164.2V180.7M375.6 164.2H380.8M375.6 180.7H380.8" stroke="#222" stroke-width="0.9" fill="none"/>
<path d="M399.9 198.1V217.5M397.3 198.1H402.5M397.3 217.5H402.5" stroke="#222" stroke-width="0.9" fill="none"/>
<rect x="442.9" y="184.4" width="22.9" height="53.0" fill="#888" stroke="#3c3c3c" stroke-width="1"/>
<rect x="465.8" y="213.8" width="21.5" height="23.6" fill="#fff" stroke="#3c3c3c" stroke-width="1"/>
<path d="M454.4 179.7V189.4M451.8 179.7H457.0M451.8 189.4H457.0" stroke="#222" stroke-width="0.9" fill="none"/>
<path d="M476.6 206.5V221.0M473.9 206.5H479.2M473.9 221.0H479.2" stroke="#222" stroke-width="0.9" fill="none"/>
<rect x="468" y="153.6" width="6.6" height="6.6" fill="#888" stroke="#444" stroke-width="0.9"/>
<rect x="468" y="168.8" width="6.6" height="6.6" fill="#fff" stroke="#444" stroke-width="0.9"/>
<text x="477.6" y="160.4" font-size="10" textLength="20.4" lengthAdjust="spacingAndGlyphs">30:1</text>
<text x="477.6" y="175.6" font-size="10" textLength="20.4" lengthAdjust="spacingAndGlyphs">10:1</text>
<text x="301.2" y="256.6" font-size="10" textLength="25" lengthAdjust="spacingAndGlyphs">K562</text>
<text x="378" y="256.6" font-size="10" textLength="23.1" lengthAdjust="spacingAndGlyphs">RAJI</text>
<text x="447.1" y="256.6" font-size="10" textLength="36.3" lengthAdjust="spacingAndGlyphs">MOLT4</text>
<text x="226.4" y="274.8" font-size="14" class="l">D</text>
<g stroke="#b4b4b4" stroke-width="1" fill="none">
<path d="M275.9 277.5V367.1M272.4 367.1H495.2"/>
<path d="M272.4 367.1H275.9"/>
<path d="M272.4 344.7H275.9"/>
<path d="M272.4 322.3H275.9"/>
<path d="M272.4 299.9H275.9"/>
<path d="M272.4 277.5H275.9"/>
<path d="M385.3 367.1v3"/>
<path d="M495.2 367.1v3"/>
</g>
<text x="266.4" y="370.5" font-size="9.6" text-anchor="end" textLength="5.56" lengthAdjust="spacingAndGlyphs">0</text>
<text x="266.4" y="348.1" font-size="9.6" text-anchor="end" textLength="11.12" lengthAdjust="spacingAndGlyphs">20</text>
<text x="266.4" y="325.7" font-size="9.6" text-anchor="end" textLength="11.12" lengthAdjust="spacingAndGlyphs">40</text>
<text x="266.4" y="303.3" font-size="9.6" text-anchor="end" textLength="11.12" lengthAdjust="spacingAndGlyphs">60</text>
<text x="266.4" y="280.9" font-size="9.6" text-anchor="end" textLength="11.12" lengthAdjust="spacingAndGlyphs">80</text>
<text transform="translate(247.3 364.8) rotate(-90)" font-size="10.5" textLength="86" lengthAdjust="spacingAndGlyphs">% Specific Lysis</text>
<rect x="301.0" y="308.2" width="29.6" height="58.9" fill="#888" stroke="#3c3c3c" stroke-width="1"/>
<rect x="330.6" y="342.1" width="28.6" height="25.0" fill="#fff" stroke="#3c3c3c" stroke-width="1"/>
<path d="M315.8 302.6V314.2M313.2 302.6H318.4M313.2 314.2H318.4" stroke="#222" stroke-width="0.9" fill="none"/>
<path d="M344.9 337.8V347.4M342.3 337.8H347.5M342.3 347.4H347.5" stroke="#222" stroke-width="0.9" fill="none"/>
<rect x="411.0" y="313.1" width="29.0" height="54.0" fill="#888" stroke="#3c3c3c" stroke-width="1"/>
<rect x="440.0" y="344.7" width="29.0" height="22.4" fill="#fff" stroke="#3c3c3c" stroke-width="1"/>
<path d="M425.5 305.5V320.6M422.9 305.5H428.1M422.9 320.6H428.1" stroke="#222" stroke-width="0.9" fill="none"/>
<path d="M454.5 336.0V353.2M451.9 336.0H457.1M451.9 353.2H457.1" stroke="#222" stroke-width="0.9" fill="none"/>
<rect x="445.9" y="283.5" width="6.6" height="6.6" fill="#888" stroke="#444" stroke-width="0.9"/>
<rect x="445.9" y="298.5" width="6.6" height="6.6" fill="#fff" stroke="#444" stroke-width="0.9"/>
<text x="456.1" y="290.3" font-size="10" textLength="20.4" lengthAdjust="spacingAndGlyphs">30:1</text>
<text x="456.1" y="305.3" font-size="10" textLength="20.4" lengthAdjust="spacingAndGlyphs">10:1</text>
<text x="310.4" y="387.2" font-size="10" textLength="37.5" lengthAdjust="spacingAndGlyphs">AML #1</text>
<text x="420.6" y="387.2" font-size="10" textLength="38.6" lengthAdjust="spacingAndGlyphs">AML #2</text>
</svg></body></html>
